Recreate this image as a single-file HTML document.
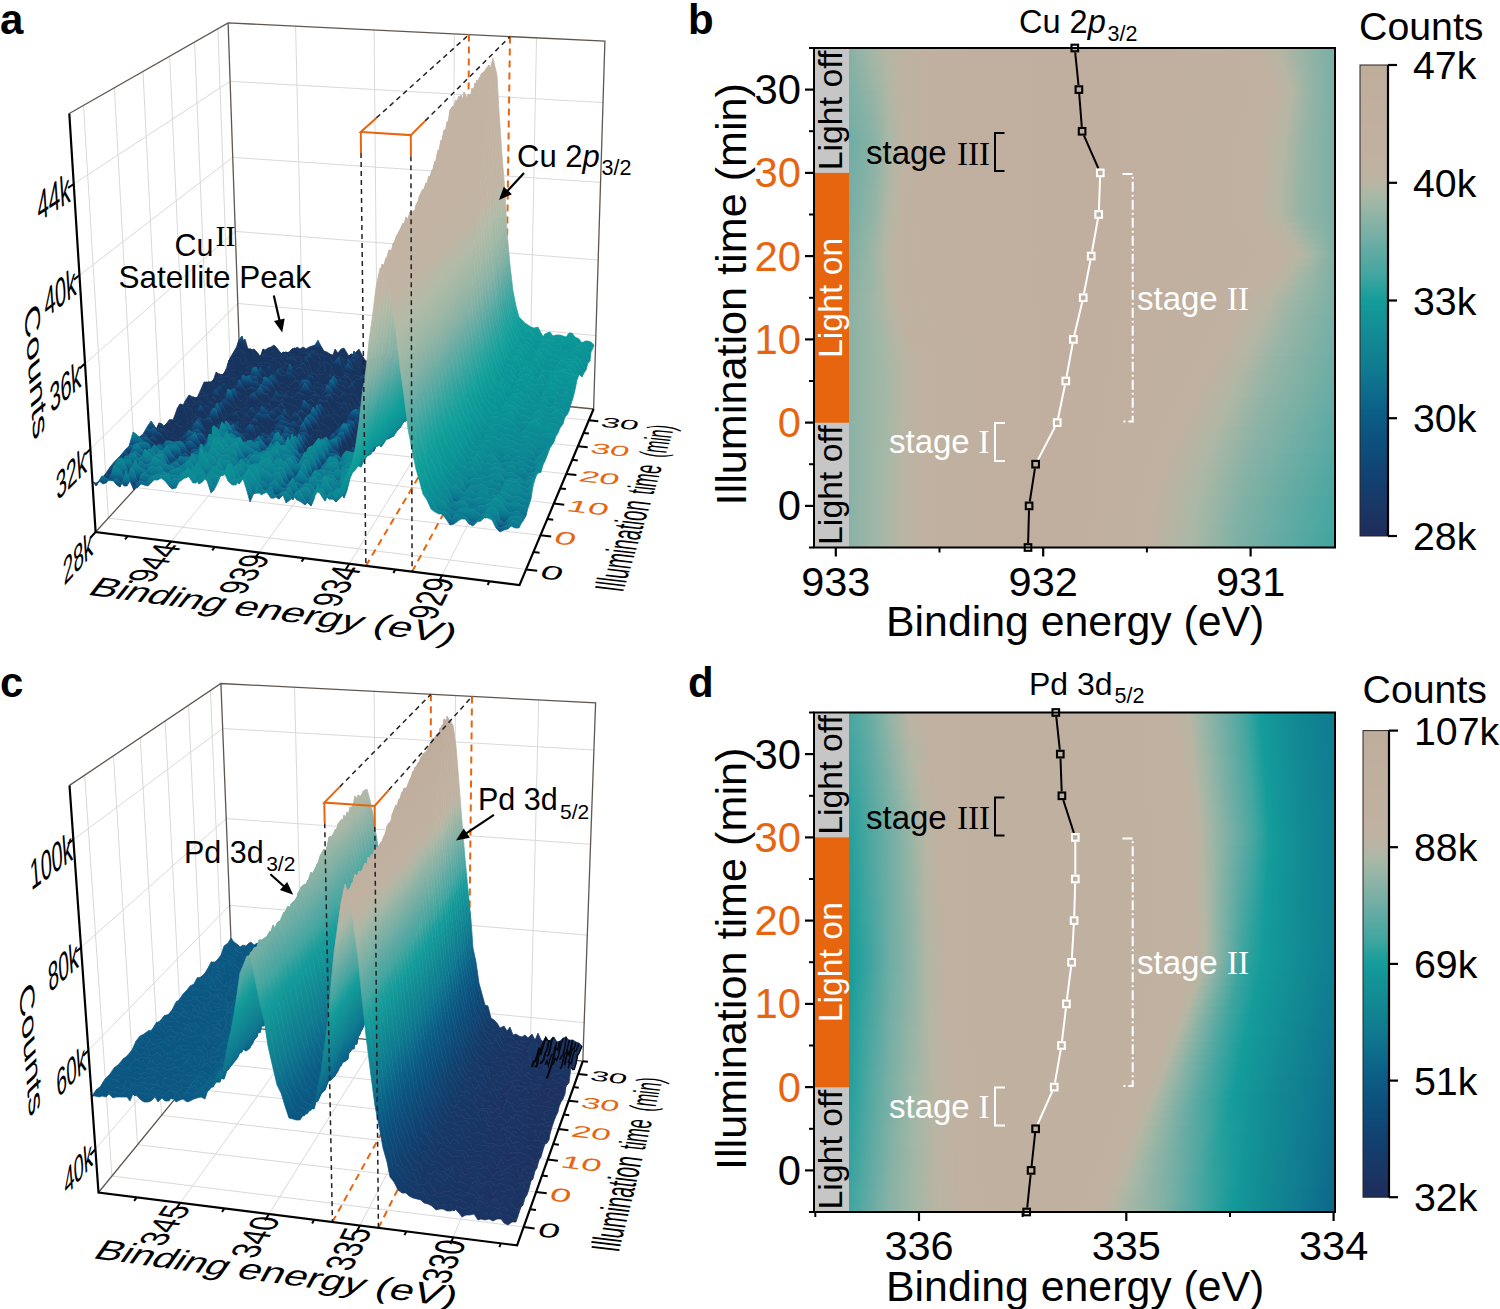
<!DOCTYPE html><html><head><meta charset="utf-8"><style>html,body{margin:0;padding:0;background:#fff;overflow:hidden;width:1500px;height:1309px;}svg{display:block;}.sf polygon{fill:currentColor;stroke:currentColor;stroke-width:.8px;stroke-linejoin:round}</style></head><body>
<svg width="1500" height="1309" viewBox="0 0 1500 1309">
<rect width="1500" height="1309" fill="#fff"/>
<defs><linearGradient id="sba" gradientUnits="userSpaceOnUse" x1="0" y1="0" x2="0" y2="1"><stop offset="0.0000" stop-color="#17345f"/><stop offset="0.1345" stop-color="#17345f"/><stop offset="0.1473" stop-color="#0f4e7e"/><stop offset="0.1618" stop-color="#0c7590"/><stop offset="0.1773" stop-color="#0d8693"/><stop offset="0.2091" stop-color="#0a9496"/><stop offset="0.2636" stop-color="#12a09b"/><stop offset="0.3182" stop-color="#35a59f"/><stop offset="0.3727" stop-color="#5eaba4"/><stop offset="0.4273" stop-color="#85b1a5"/><stop offset="0.4909" stop-color="#a0b8a6"/><stop offset="0.5545" stop-color="#b3bba8"/><stop offset="0.6182" stop-color="#c2b4a4"/><stop offset="1.0000" stop-color="#c2b3a3"/></linearGradient><linearGradient id="s1" href="#sba" xlink:href="#sba" gradientTransform="matrix(354.06,35.33,-1.17,-395.72,239.0,393.2)"/><linearGradient id="s2" href="#sba" xlink:href="#sba" gradientTransform="matrix(355.51,35.66,-1.34,-397.34,236.1,396.5)"/><linearGradient id="s3" href="#sba" xlink:href="#sba" gradientTransform="matrix(357.20,36.04,-1.54,-399.22,232.6,400.3)"/><linearGradient id="s4" href="#sba" xlink:href="#sba" gradientTransform="matrix(358.91,36.43,-1.75,-401.12,229.2,404.2)"/><linearGradient id="s5" href="#sba" xlink:href="#sba" gradientTransform="matrix(360.63,36.83,-1.96,-403.04,225.7,408.1)"/><linearGradient id="s6" href="#sba" xlink:href="#sba" gradientTransform="matrix(362.37,37.23,-2.18,-404.97,222.1,412.1)"/><linearGradient id="s7" href="#sba" xlink:href="#sba" gradientTransform="matrix(364.13,37.64,-2.39,-406.93,218.6,416.1)"/><linearGradient id="s8" href="#sba" xlink:href="#sba" gradientTransform="matrix(365.90,38.05,-2.62,-408.90,215.0,420.1)"/><linearGradient id="s9" href="#sba" xlink:href="#sba" gradientTransform="matrix(367.69,38.47,-2.85,-410.89,211.3,424.2)"/><linearGradient id="s10" href="#sba" xlink:href="#sba" gradientTransform="matrix(369.50,38.90,-3.08,-412.90,207.7,428.3)"/><linearGradient id="s11" href="#sba" xlink:href="#sba" gradientTransform="matrix(371.33,39.34,-3.32,-414.93,204.0,432.5)"/><linearGradient id="s12" href="#sba" xlink:href="#sba" gradientTransform="matrix(373.17,39.78,-3.56,-416.98,200.2,436.7)"/><linearGradient id="s13" href="#sba" xlink:href="#sba" gradientTransform="matrix(375.03,40.23,-3.81,-419.05,196.4,441.0)"/><linearGradient id="s14" href="#sba" xlink:href="#sba" gradientTransform="matrix(376.91,40.68,-4.06,-421.15,192.6,445.3)"/><linearGradient id="s15" href="#sba" xlink:href="#sba" gradientTransform="matrix(378.81,41.15,-4.32,-423.26,188.7,449.6)"/><linearGradient id="s16" href="#sba" xlink:href="#sba" gradientTransform="matrix(380.73,41.62,-4.59,-425.39,184.8,454.0)"/><linearGradient id="s17" href="#sba" xlink:href="#sba" gradientTransform="matrix(382.67,42.10,-4.86,-427.54,180.8,458.5)"/><linearGradient id="s18" href="#sba" xlink:href="#sba" gradientTransform="matrix(384.63,42.59,-5.14,-429.72,176.8,462.9)"/><linearGradient id="s19" href="#sba" xlink:href="#sba" gradientTransform="matrix(386.61,43.09,-5.42,-431.92,172.8,467.5)"/><linearGradient id="s20" href="#sba" xlink:href="#sba" gradientTransform="matrix(388.60,43.59,-5.71,-434.13,168.7,472.1)"/><linearGradient id="s21" href="#sba" xlink:href="#sba" gradientTransform="matrix(390.62,44.11,-6.01,-436.38,164.6,476.7)"/><linearGradient id="s22" href="#sba" xlink:href="#sba" gradientTransform="matrix(392.66,44.63,-6.31,-438.64,160.4,481.4)"/><linearGradient id="s23" href="#sba" xlink:href="#sba" gradientTransform="matrix(394.72,45.16,-6.62,-440.93,156.2,486.1)"/><linearGradient id="s24" href="#sba" xlink:href="#sba" gradientTransform="matrix(396.80,45.70,-6.93,-443.24,151.9,490.9)"/><linearGradient id="s25" href="#sba" xlink:href="#sba" gradientTransform="matrix(398.91,46.25,-7.26,-445.58,147.6,495.8)"/><linearGradient id="s26" href="#sba" xlink:href="#sba" gradientTransform="matrix(401.04,46.81,-7.59,-447.94,143.2,500.7)"/><linearGradient id="s27" href="#sba" xlink:href="#sba" gradientTransform="matrix(403.19,47.38,-7.93,-450.32,138.8,505.6)"/><linearGradient id="s28" href="#sba" xlink:href="#sba" gradientTransform="matrix(405.36,47.96,-8.27,-452.73,134.4,510.6)"/><linearGradient id="s29" href="#sba" xlink:href="#sba" gradientTransform="matrix(407.55,48.56,-8.63,-455.17,129.9,515.7)"/><linearGradient id="s30" href="#sba" xlink:href="#sba" gradientTransform="matrix(409.77,49.16,-8.99,-457.63,125.3,520.8)"/><linearGradient id="s31" href="#sba" xlink:href="#sba" gradientTransform="matrix(412.02,49.77,-9.36,-460.11,120.7,526.0)"/><linearGradient id="s32" href="#sba" xlink:href="#sba" gradientTransform="matrix(414.28,50.39,-9.74,-462.63,116.0,531.3)"/><linearGradient id="s33" href="#sba" xlink:href="#sba" gradientTransform="matrix(416.58,51.03,-10.13,-465.17,111.3,536.6)"/><linearGradient id="s34" href="#sba" xlink:href="#sba" gradientTransform="matrix(418.89,51.68,-10.52,-467.74,106.5,542.0)"/><linearGradient id="s35" href="#sba" xlink:href="#sba" gradientTransform="matrix(421.24,52.34,-10.93,-470.33,101.6,547.4)"/><linearGradient id="s36" href="#sba" xlink:href="#sba" gradientTransform="matrix(423.15,52.88,-11.26,-472.45,97.7,551.8)"/><linearGradient id="sbc" gradientUnits="userSpaceOnUse" x1="0" y1="0" x2="0" y2="1"><stop offset="0.0000" stop-color="#1e2d5d"/><stop offset="0.0573" stop-color="#1e2d5d"/><stop offset="0.0704" stop-color="#1e2f5e"/><stop offset="0.1550" stop-color="#123f6e"/><stop offset="0.2231" stop-color="#0d4e7c"/><stop offset="0.2755" stop-color="#0b5b85"/><stop offset="0.2821" stop-color="#0b5d86"/><stop offset="0.3547" stop-color="#0f7890"/><stop offset="0.4191" stop-color="#128a93"/><stop offset="0.4818" stop-color="#149c9b"/><stop offset="0.5063" stop-color="#2aa19d"/><stop offset="0.5307" stop-color="#45a6a0"/><stop offset="0.5691" stop-color="#5faaa4"/><stop offset="0.6084" stop-color="#7bb0a5"/><stop offset="0.6459" stop-color="#94b4a6"/><stop offset="0.6738" stop-color="#a8b8a6"/><stop offset="0.6956" stop-color="#b6b6a4"/><stop offset="0.7000" stop-color="#b8b5a4"/><stop offset="0.7131" stop-color="#bdb3a2"/><stop offset="0.7349" stop-color="#c0b1a1"/><stop offset="0.9182" stop-color="#bfad9b"/><stop offset="1.0000" stop-color="#bfad9b"/></linearGradient><linearGradient id="s37" href="#sbc" xlink:href="#sbc" gradientTransform="matrix(349.26,35.12,-1.23,-386.34,232.8,1045.8)"/><linearGradient id="s38" href="#sbc" xlink:href="#sbc" gradientTransform="matrix(350.90,35.49,-1.44,-388.09,229.7,1049.7)"/><linearGradient id="s39" href="#sbc" xlink:href="#sbc" gradientTransform="matrix(352.56,35.87,-1.65,-389.86,226.5,1053.7)"/><linearGradient id="s40" href="#sbc" xlink:href="#sbc" gradientTransform="matrix(354.23,36.26,-1.86,-391.64,223.3,1057.7)"/><linearGradient id="s41" href="#sbc" xlink:href="#sbc" gradientTransform="matrix(355.92,36.65,-2.08,-393.44,220.1,1061.7)"/><linearGradient id="s42" href="#sbc" xlink:href="#sbc" gradientTransform="matrix(357.62,37.05,-2.30,-395.25,216.8,1065.8)"/><linearGradient id="s43" href="#sbc" xlink:href="#sbc" gradientTransform="matrix(359.34,37.45,-2.53,-397.08,213.5,1069.9)"/><linearGradient id="s44" href="#sbc" xlink:href="#sbc" gradientTransform="matrix(361.08,37.86,-2.76,-398.93,210.2,1074.1)"/><linearGradient id="s45" href="#sbc" xlink:href="#sbc" gradientTransform="matrix(362.83,38.28,-3.00,-400.79,206.8,1078.3)"/><linearGradient id="s46" href="#sbc" xlink:href="#sbc" gradientTransform="matrix(364.60,38.70,-3.24,-402.67,203.4,1082.6)"/><linearGradient id="s47" href="#sbc" xlink:href="#sbc" gradientTransform="matrix(366.38,39.13,-3.48,-404.57,200.0,1086.9)"/><linearGradient id="s48" href="#sbc" xlink:href="#sbc" gradientTransform="matrix(368.19,39.57,-3.74,-406.48,196.5,1091.2)"/><linearGradient id="s49" href="#sbc" xlink:href="#sbc" gradientTransform="matrix(370.01,40.01,-3.99,-408.42,193.0,1095.6)"/><linearGradient id="s50" href="#sbc" xlink:href="#sbc" gradientTransform="matrix(371.85,40.46,-4.26,-410.37,189.5,1100.0)"/><linearGradient id="s51" href="#sbc" xlink:href="#sbc" gradientTransform="matrix(373.71,40.92,-4.53,-412.34,185.9,1104.5)"/><linearGradient id="s52" href="#sbc" xlink:href="#sbc" gradientTransform="matrix(375.59,41.38,-4.80,-414.33,182.3,1109.0)"/><linearGradient id="s53" href="#sbc" xlink:href="#sbc" gradientTransform="matrix(377.48,41.86,-5.08,-416.33,178.7,1113.6)"/><linearGradient id="s54" href="#sbc" xlink:href="#sbc" gradientTransform="matrix(379.40,42.34,-5.37,-418.36,175.0,1118.2)"/><linearGradient id="s55" href="#sbc" xlink:href="#sbc" gradientTransform="matrix(381.33,42.83,-5.66,-420.40,171.3,1122.9)"/><linearGradient id="s56" href="#sbc" xlink:href="#sbc" gradientTransform="matrix(383.29,43.33,-5.96,-422.47,167.5,1127.6)"/><linearGradient id="s57" href="#sbc" xlink:href="#sbc" gradientTransform="matrix(385.26,43.83,-6.26,-424.55,163.7,1132.3)"/><linearGradient id="s58" href="#sbc" xlink:href="#sbc" gradientTransform="matrix(387.25,44.35,-6.58,-426.66,159.8,1137.2)"/><linearGradient id="s59" href="#sbc" xlink:href="#sbc" gradientTransform="matrix(389.27,44.87,-6.90,-428.78,156.0,1142.0)"/><linearGradient id="s60" href="#sbc" xlink:href="#sbc" gradientTransform="matrix(391.31,45.41,-7.22,-430.93,152.0,1147.0)"/><linearGradient id="s61" href="#sbc" xlink:href="#sbc" gradientTransform="matrix(393.36,45.95,-7.56,-433.09,148.0,1151.9)"/><linearGradient id="s62" href="#sbc" xlink:href="#sbc" gradientTransform="matrix(395.44,46.50,-7.90,-435.28,144.0,1157.0)"/><linearGradient id="s63" href="#sbc" xlink:href="#sbc" gradientTransform="matrix(397.54,47.06,-8.25,-437.49,140.0,1162.1)"/><linearGradient id="s64" href="#sbc" xlink:href="#sbc" gradientTransform="matrix(399.67,47.63,-8.60,-439.72,135.9,1167.2)"/><linearGradient id="s65" href="#sbc" xlink:href="#sbc" gradientTransform="matrix(401.81,48.21,-8.97,-441.97,131.7,1172.4)"/><linearGradient id="s66" href="#sbc" xlink:href="#sbc" gradientTransform="matrix(403.98,48.80,-9.34,-444.25,127.5,1177.7)"/><linearGradient id="s67" href="#sbc" xlink:href="#sbc" gradientTransform="matrix(406.17,49.41,-9.72,-446.55,123.2,1183.0)"/><linearGradient id="s68" href="#sbc" xlink:href="#sbc" gradientTransform="matrix(408.39,50.02,-10.11,-448.87,118.9,1188.4)"/><linearGradient id="s69" href="#sbc" xlink:href="#sbc" gradientTransform="matrix(410.63,50.65,-10.51,-451.21,114.6,1193.9)"/><linearGradient id="s70" href="#sbc" xlink:href="#sbc" gradientTransform="matrix(412.89,51.28,-10.92,-453.58,110.2,1199.4)"/><linearGradient id="s71" href="#sbc" xlink:href="#sbc" gradientTransform="matrix(415.18,51.93,-11.34,-455.98,105.7,1204.9)"/><linearGradient id="s72" href="#sbc" xlink:href="#sbc" gradientTransform="matrix(417.49,52.58,-11.76,-458.38,101.3,1210.6)"/><linearGradient id="g1"><stop offset="0.000" stop-color="#83b1a5"/><stop offset="0.067" stop-color="#86b2a5"/><stop offset="0.108" stop-color="#a1b7a6"/><stop offset="0.141" stop-color="#b6b6a4"/><stop offset="0.175" stop-color="#bfb2a1"/><stop offset="0.232" stop-color="#c0b0a0"/><stop offset="0.511" stop-color="#c0af9e"/><stop offset="0.744" stop-color="#c0b09f"/><stop offset="0.853" stop-color="#c0b1a1"/><stop offset="0.894" stop-color="#b8b5a4"/><stop offset="0.934" stop-color="#9bb5a6"/><stop offset="1.000" stop-color="#78afa5"/></linearGradient><linearGradient id="g2"><stop offset="0.000" stop-color="#81b1a5"/><stop offset="0.067" stop-color="#84b1a5"/><stop offset="0.108" stop-color="#9fb6a6"/><stop offset="0.142" stop-color="#b5b6a4"/><stop offset="0.175" stop-color="#bfb2a1"/><stop offset="0.232" stop-color="#c0b0a0"/><stop offset="0.511" stop-color="#c0af9e"/><stop offset="0.750" stop-color="#c0b09f"/><stop offset="0.859" stop-color="#c0b1a1"/><stop offset="0.898" stop-color="#b7b5a4"/><stop offset="0.937" stop-color="#9ab5a6"/><stop offset="1.000" stop-color="#78afa5"/></linearGradient><linearGradient id="g3"><stop offset="0.000" stop-color="#7fb1a5"/><stop offset="0.067" stop-color="#82b1a5"/><stop offset="0.109" stop-color="#9db6a6"/><stop offset="0.142" stop-color="#b4b6a4"/><stop offset="0.175" stop-color="#bfb2a1"/><stop offset="0.232" stop-color="#c0b0a0"/><stop offset="0.511" stop-color="#c0af9e"/><stop offset="0.756" stop-color="#c0b09f"/><stop offset="0.864" stop-color="#c0b1a1"/><stop offset="0.902" stop-color="#b7b6a4"/><stop offset="0.940" stop-color="#99b5a6"/><stop offset="1.000" stop-color="#78afa5"/></linearGradient><linearGradient id="g4"><stop offset="0.000" stop-color="#7db0a5"/><stop offset="0.067" stop-color="#80b1a5"/><stop offset="0.110" stop-color="#9bb5a6"/><stop offset="0.142" stop-color="#b3b6a4"/><stop offset="0.175" stop-color="#bfb2a1"/><stop offset="0.232" stop-color="#c0b0a0"/><stop offset="0.511" stop-color="#c0af9e"/><stop offset="0.762" stop-color="#c0b09f"/><stop offset="0.870" stop-color="#c0b1a1"/><stop offset="0.907" stop-color="#b7b6a4"/><stop offset="0.944" stop-color="#98b5a6"/><stop offset="1.000" stop-color="#78afa5"/></linearGradient><linearGradient id="g5"><stop offset="0.000" stop-color="#7bb0a5"/><stop offset="0.067" stop-color="#7eb1a5"/><stop offset="0.110" stop-color="#99b5a6"/><stop offset="0.142" stop-color="#b2b7a5"/><stop offset="0.175" stop-color="#bfb2a1"/><stop offset="0.232" stop-color="#c0b0a0"/><stop offset="0.511" stop-color="#c0af9e"/><stop offset="0.768" stop-color="#c0b09f"/><stop offset="0.875" stop-color="#c0b1a1"/><stop offset="0.911" stop-color="#b6b6a4"/><stop offset="0.947" stop-color="#97b5a6"/><stop offset="1.000" stop-color="#78afa5"/></linearGradient><linearGradient id="g6"><stop offset="0.000" stop-color="#79b0a5"/><stop offset="0.067" stop-color="#7cb0a5"/><stop offset="0.111" stop-color="#97b5a6"/><stop offset="0.143" stop-color="#b1b7a5"/><stop offset="0.175" stop-color="#bfb2a1"/><stop offset="0.232" stop-color="#c0b0a0"/><stop offset="0.511" stop-color="#c0af9e"/><stop offset="0.774" stop-color="#c0b09f"/><stop offset="0.881" stop-color="#c0b1a1"/><stop offset="0.915" stop-color="#b6b6a4"/><stop offset="0.950" stop-color="#96b4a6"/><stop offset="1.000" stop-color="#78afa5"/></linearGradient><linearGradient id="g7"><stop offset="0.000" stop-color="#78afa5"/><stop offset="0.067" stop-color="#7bb0a5"/><stop offset="0.112" stop-color="#95b4a6"/><stop offset="0.143" stop-color="#b0b7a5"/><stop offset="0.175" stop-color="#bfb2a1"/><stop offset="0.232" stop-color="#c0b0a0"/><stop offset="0.511" stop-color="#c0af9e"/><stop offset="0.778" stop-color="#c0b09f"/><stop offset="0.884" stop-color="#c0b1a1"/><stop offset="0.918" stop-color="#b6b6a4"/><stop offset="0.952" stop-color="#95b4a6"/><stop offset="1.000" stop-color="#78afa5"/></linearGradient><linearGradient id="g8"><stop offset="0.000" stop-color="#76afa5"/><stop offset="0.067" stop-color="#79b0a5"/><stop offset="0.112" stop-color="#93b4a6"/><stop offset="0.143" stop-color="#afb7a5"/><stop offset="0.175" stop-color="#bfb2a1"/><stop offset="0.232" stop-color="#c0b0a0"/><stop offset="0.511" stop-color="#c0af9e"/><stop offset="0.773" stop-color="#c0b09f"/><stop offset="0.881" stop-color="#c0b1a1"/><stop offset="0.915" stop-color="#b6b6a4"/><stop offset="0.950" stop-color="#95b4a6"/><stop offset="1.000" stop-color="#78afa5"/></linearGradient><linearGradient id="g9"><stop offset="0.000" stop-color="#74aea5"/><stop offset="0.067" stop-color="#77afa5"/><stop offset="0.113" stop-color="#91b4a6"/><stop offset="0.144" stop-color="#afb7a5"/><stop offset="0.175" stop-color="#bfb2a1"/><stop offset="0.232" stop-color="#c0b0a0"/><stop offset="0.511" stop-color="#c0af9e"/><stop offset="0.767" stop-color="#c0b09f"/><stop offset="0.877" stop-color="#c0b1a1"/><stop offset="0.913" stop-color="#b6b6a4"/><stop offset="0.949" stop-color="#95b4a6"/><stop offset="1.000" stop-color="#79b0a5"/></linearGradient><linearGradient id="g10"><stop offset="0.000" stop-color="#72aea5"/><stop offset="0.067" stop-color="#75afa5"/><stop offset="0.114" stop-color="#90b3a6"/><stop offset="0.144" stop-color="#aeb7a5"/><stop offset="0.175" stop-color="#bfb2a1"/><stop offset="0.232" stop-color="#c0b0a0"/><stop offset="0.511" stop-color="#c0af9e"/><stop offset="0.762" stop-color="#c0b09f"/><stop offset="0.873" stop-color="#c0b1a1"/><stop offset="0.910" stop-color="#b6b6a4"/><stop offset="0.948" stop-color="#95b4a6"/><stop offset="1.000" stop-color="#79b0a5"/></linearGradient><linearGradient id="g11"><stop offset="0.000" stop-color="#70aea5"/><stop offset="0.067" stop-color="#74aea5"/><stop offset="0.115" stop-color="#8eb3a6"/><stop offset="0.145" stop-color="#adb7a5"/><stop offset="0.175" stop-color="#bfb2a1"/><stop offset="0.232" stop-color="#c0b0a0"/><stop offset="0.511" stop-color="#c0af9e"/><stop offset="0.756" stop-color="#c0b09f"/><stop offset="0.870" stop-color="#c0b1a1"/><stop offset="0.908" stop-color="#b6b6a4"/><stop offset="0.946" stop-color="#95b4a6"/><stop offset="1.000" stop-color="#7ab0a5"/></linearGradient><linearGradient id="g12"><stop offset="0.000" stop-color="#6fada5"/><stop offset="0.067" stop-color="#72aea5"/><stop offset="0.116" stop-color="#8db3a6"/><stop offset="0.145" stop-color="#acb7a5"/><stop offset="0.175" stop-color="#bfb2a1"/><stop offset="0.232" stop-color="#c0b0a0"/><stop offset="0.511" stop-color="#c0af9e"/><stop offset="0.751" stop-color="#c0b09f"/><stop offset="0.866" stop-color="#c0b1a1"/><stop offset="0.906" stop-color="#b6b6a4"/><stop offset="0.945" stop-color="#95b4a6"/><stop offset="1.000" stop-color="#7ab0a5"/></linearGradient><linearGradient id="g13"><stop offset="0.000" stop-color="#6dada4"/><stop offset="0.067" stop-color="#70aea5"/><stop offset="0.116" stop-color="#8bb3a6"/><stop offset="0.146" stop-color="#abb8a6"/><stop offset="0.175" stop-color="#bfb2a1"/><stop offset="0.232" stop-color="#c0b0a0"/><stop offset="0.511" stop-color="#c0af9e"/><stop offset="0.745" stop-color="#c0b09f"/><stop offset="0.863" stop-color="#c0b1a1"/><stop offset="0.903" stop-color="#b6b6a4"/><stop offset="0.943" stop-color="#95b4a6"/><stop offset="1.000" stop-color="#7bb0a5"/></linearGradient><linearGradient id="g14"><stop offset="0.000" stop-color="#6cada4"/><stop offset="0.067" stop-color="#6fada5"/><stop offset="0.117" stop-color="#8ab2a6"/><stop offset="0.146" stop-color="#abb8a6"/><stop offset="0.174" stop-color="#bfb2a1"/><stop offset="0.232" stop-color="#c0b0a0"/><stop offset="0.511" stop-color="#c0af9e"/><stop offset="0.741" stop-color="#c0b09f"/><stop offset="0.860" stop-color="#c0b1a1"/><stop offset="0.901" stop-color="#b6b6a4"/><stop offset="0.942" stop-color="#95b4a6"/><stop offset="1.000" stop-color="#7bb0a5"/></linearGradient><linearGradient id="g15"><stop offset="0.000" stop-color="#6cada4"/><stop offset="0.067" stop-color="#6fada5"/><stop offset="0.117" stop-color="#8bb3a6"/><stop offset="0.145" stop-color="#abb8a6"/><stop offset="0.174" stop-color="#bfb2a1"/><stop offset="0.231" stop-color="#c0b0a0"/><stop offset="0.511" stop-color="#c0af9e"/><stop offset="0.741" stop-color="#c0b09f"/><stop offset="0.859" stop-color="#c0b1a1"/><stop offset="0.900" stop-color="#b6b6a4"/><stop offset="0.941" stop-color="#95b4a6"/><stop offset="1.000" stop-color="#7bb0a5"/></linearGradient><linearGradient id="g16"><stop offset="0.000" stop-color="#6dada4"/><stop offset="0.067" stop-color="#70aea5"/><stop offset="0.117" stop-color="#8cb3a6"/><stop offset="0.145" stop-color="#acb7a5"/><stop offset="0.173" stop-color="#bfb2a1"/><stop offset="0.230" stop-color="#c0b0a0"/><stop offset="0.511" stop-color="#c0af9e"/><stop offset="0.741" stop-color="#c0b09f"/><stop offset="0.858" stop-color="#c0b1a1"/><stop offset="0.899" stop-color="#b6b6a4"/><stop offset="0.940" stop-color="#95b4a6"/><stop offset="1.000" stop-color="#7bb0a5"/></linearGradient><linearGradient id="g17"><stop offset="0.000" stop-color="#6dada5"/><stop offset="0.067" stop-color="#71aea5"/><stop offset="0.117" stop-color="#8db3a6"/><stop offset="0.144" stop-color="#adb7a5"/><stop offset="0.172" stop-color="#bfb2a1"/><stop offset="0.229" stop-color="#c0b0a0"/><stop offset="0.511" stop-color="#c0af9e"/><stop offset="0.741" stop-color="#c0b09f"/><stop offset="0.857" stop-color="#c0b1a1"/><stop offset="0.898" stop-color="#b6b6a4"/><stop offset="0.939" stop-color="#95b4a6"/><stop offset="1.000" stop-color="#7bb0a5"/></linearGradient><linearGradient id="g18"><stop offset="0.000" stop-color="#6eada5"/><stop offset="0.067" stop-color="#71aea5"/><stop offset="0.117" stop-color="#8eb3a6"/><stop offset="0.144" stop-color="#adb7a5"/><stop offset="0.171" stop-color="#bfb2a1"/><stop offset="0.228" stop-color="#c0b0a0"/><stop offset="0.511" stop-color="#c0af9e"/><stop offset="0.741" stop-color="#c0b09f"/><stop offset="0.856" stop-color="#c0b1a1"/><stop offset="0.897" stop-color="#b6b6a4"/><stop offset="0.938" stop-color="#95b4a6"/><stop offset="1.000" stop-color="#7bb0a5"/></linearGradient><linearGradient id="g19"><stop offset="0.000" stop-color="#6fada5"/><stop offset="0.067" stop-color="#72aea5"/><stop offset="0.117" stop-color="#8fb3a6"/><stop offset="0.143" stop-color="#aeb7a5"/><stop offset="0.170" stop-color="#bfb2a1"/><stop offset="0.227" stop-color="#c0b0a0"/><stop offset="0.511" stop-color="#c0af9e"/><stop offset="0.741" stop-color="#c0b09f"/><stop offset="0.855" stop-color="#c0b1a1"/><stop offset="0.896" stop-color="#b6b6a4"/><stop offset="0.938" stop-color="#95b4a6"/><stop offset="1.000" stop-color="#7bb0a5"/></linearGradient><linearGradient id="g20"><stop offset="0.000" stop-color="#6fada5"/><stop offset="0.067" stop-color="#72aea5"/><stop offset="0.117" stop-color="#91b3a6"/><stop offset="0.143" stop-color="#aeb7a5"/><stop offset="0.169" stop-color="#bfb2a1"/><stop offset="0.226" stop-color="#c0b0a0"/><stop offset="0.511" stop-color="#c0af9e"/><stop offset="0.741" stop-color="#c0b09f"/><stop offset="0.854" stop-color="#c0b1a1"/><stop offset="0.895" stop-color="#b6b6a4"/><stop offset="0.937" stop-color="#95b4a6"/><stop offset="1.000" stop-color="#7bb0a5"/></linearGradient><linearGradient id="g21"><stop offset="0.000" stop-color="#70aea5"/><stop offset="0.067" stop-color="#73aea5"/><stop offset="0.117" stop-color="#92b4a6"/><stop offset="0.143" stop-color="#afb7a5"/><stop offset="0.168" stop-color="#bfb2a1"/><stop offset="0.226" stop-color="#c0b0a0"/><stop offset="0.511" stop-color="#c0af9e"/><stop offset="0.741" stop-color="#c0b09f"/><stop offset="0.853" stop-color="#c0b1a1"/><stop offset="0.894" stop-color="#b6b6a4"/><stop offset="0.936" stop-color="#95b4a6"/><stop offset="1.000" stop-color="#7bb0a5"/></linearGradient><linearGradient id="g22"><stop offset="0.000" stop-color="#70aea5"/><stop offset="0.067" stop-color="#74aea5"/><stop offset="0.117" stop-color="#93b4a6"/><stop offset="0.142" stop-color="#afb7a5"/><stop offset="0.167" stop-color="#bfb2a1"/><stop offset="0.225" stop-color="#c0b0a0"/><stop offset="0.511" stop-color="#c0af9e"/><stop offset="0.741" stop-color="#c0b09f"/><stop offset="0.852" stop-color="#c0b1a1"/><stop offset="0.893" stop-color="#b6b6a4"/><stop offset="0.935" stop-color="#95b4a6"/><stop offset="1.000" stop-color="#7bb0a5"/></linearGradient><linearGradient id="g23"><stop offset="0.000" stop-color="#71aea5"/><stop offset="0.067" stop-color="#74afa5"/><stop offset="0.117" stop-color="#94b4a6"/><stop offset="0.142" stop-color="#b0b7a5"/><stop offset="0.166" stop-color="#bfb2a1"/><stop offset="0.224" stop-color="#c0b0a0"/><stop offset="0.511" stop-color="#c0af9e"/><stop offset="0.741" stop-color="#c0b09f"/><stop offset="0.851" stop-color="#c0b1a1"/><stop offset="0.893" stop-color="#b6b6a4"/><stop offset="0.934" stop-color="#95b4a6"/><stop offset="1.000" stop-color="#7bb0a5"/></linearGradient><linearGradient id="g24"><stop offset="0.000" stop-color="#72aea5"/><stop offset="0.067" stop-color="#75afa5"/><stop offset="0.117" stop-color="#95b4a6"/><stop offset="0.141" stop-color="#b0b7a5"/><stop offset="0.165" stop-color="#bfb2a1"/><stop offset="0.223" stop-color="#c0b0a0"/><stop offset="0.511" stop-color="#c0af9e"/><stop offset="0.741" stop-color="#c0b09f"/><stop offset="0.850" stop-color="#c0b1a1"/><stop offset="0.892" stop-color="#b6b6a4"/><stop offset="0.933" stop-color="#95b4a6"/><stop offset="1.000" stop-color="#7bb0a5"/></linearGradient><linearGradient id="g25"><stop offset="0.000" stop-color="#73aea5"/><stop offset="0.067" stop-color="#76afa5"/><stop offset="0.116" stop-color="#96b4a6"/><stop offset="0.140" stop-color="#b1b7a5"/><stop offset="0.164" stop-color="#bfb2a1"/><stop offset="0.223" stop-color="#c0b0a0"/><stop offset="0.511" stop-color="#c0af9e"/><stop offset="0.747" stop-color="#c0b09f"/><stop offset="0.858" stop-color="#c0b1a1"/><stop offset="0.898" stop-color="#b7b6a4"/><stop offset="0.937" stop-color="#97b5a6"/><stop offset="1.000" stop-color="#7bb0a5"/></linearGradient><linearGradient id="g26"><stop offset="0.000" stop-color="#74aea5"/><stop offset="0.067" stop-color="#78afa5"/><stop offset="0.115" stop-color="#97b5a6"/><stop offset="0.139" stop-color="#b1b7a5"/><stop offset="0.163" stop-color="#bfb2a1"/><stop offset="0.223" stop-color="#c0b0a0"/><stop offset="0.511" stop-color="#c0af9e"/><stop offset="0.753" stop-color="#c0b09f"/><stop offset="0.867" stop-color="#c0b1a1"/><stop offset="0.905" stop-color="#b7b6a4"/><stop offset="0.942" stop-color="#99b5a6"/><stop offset="1.000" stop-color="#7cb0a5"/></linearGradient><linearGradient id="g27"><stop offset="0.000" stop-color="#75afa5"/><stop offset="0.067" stop-color="#79b0a5"/><stop offset="0.114" stop-color="#98b5a6"/><stop offset="0.138" stop-color="#b2b7a5"/><stop offset="0.162" stop-color="#bfb2a1"/><stop offset="0.223" stop-color="#c0b0a0"/><stop offset="0.511" stop-color="#c0af9e"/><stop offset="0.760" stop-color="#c0b09f"/><stop offset="0.876" stop-color="#c0b1a1"/><stop offset="0.911" stop-color="#b8b5a4"/><stop offset="0.947" stop-color="#9bb5a6"/><stop offset="1.000" stop-color="#7cb0a5"/></linearGradient><linearGradient id="g28"><stop offset="0.000" stop-color="#76afa5"/><stop offset="0.067" stop-color="#7bb0a5"/><stop offset="0.113" stop-color="#99b5a6"/><stop offset="0.137" stop-color="#b2b7a5"/><stop offset="0.161" stop-color="#bfb2a1"/><stop offset="0.223" stop-color="#c0b0a0"/><stop offset="0.511" stop-color="#c0af9e"/><stop offset="0.766" stop-color="#c0b09f"/><stop offset="0.884" stop-color="#c0b1a1"/><stop offset="0.918" stop-color="#b8b5a3"/><stop offset="0.952" stop-color="#9db6a6"/><stop offset="1.000" stop-color="#7db0a5"/></linearGradient><linearGradient id="g29"><stop offset="0.000" stop-color="#77afa5"/><stop offset="0.067" stop-color="#7cb0a5"/><stop offset="0.112" stop-color="#9ab5a6"/><stop offset="0.136" stop-color="#b3b6a4"/><stop offset="0.160" stop-color="#bfb2a1"/><stop offset="0.223" stop-color="#c0b0a0"/><stop offset="0.511" stop-color="#c0af9e"/><stop offset="0.772" stop-color="#c0b09f"/><stop offset="0.893" stop-color="#c0b1a1"/><stop offset="0.925" stop-color="#b9b5a3"/><stop offset="0.956" stop-color="#a0b6a6"/><stop offset="1.000" stop-color="#7db0a5"/></linearGradient><linearGradient id="g30"><stop offset="0.000" stop-color="#78afa5"/><stop offset="0.067" stop-color="#7eb0a5"/><stop offset="0.111" stop-color="#9bb5a6"/><stop offset="0.135" stop-color="#b3b6a4"/><stop offset="0.159" stop-color="#bfb2a1"/><stop offset="0.223" stop-color="#c0b0a0"/><stop offset="0.511" stop-color="#c0af9e"/><stop offset="0.779" stop-color="#c0b09f"/><stop offset="0.901" stop-color="#c0b1a1"/><stop offset="0.931" stop-color="#b9b5a3"/><stop offset="0.961" stop-color="#a2b7a6"/><stop offset="1.000" stop-color="#7eb0a5"/></linearGradient><linearGradient id="g31"><stop offset="0.000" stop-color="#7ab0a5"/><stop offset="0.067" stop-color="#80b1a5"/><stop offset="0.112" stop-color="#9cb6a6"/><stop offset="0.136" stop-color="#b4b6a4"/><stop offset="0.160" stop-color="#bfb2a1"/><stop offset="0.224" stop-color="#c0b0a0"/><stop offset="0.511" stop-color="#c0af9e"/><stop offset="0.774" stop-color="#c0b09f"/><stop offset="0.891" stop-color="#c0b1a1"/><stop offset="0.924" stop-color="#b9b5a3"/><stop offset="0.956" stop-color="#a1b7a6"/><stop offset="1.000" stop-color="#7db0a5"/></linearGradient><linearGradient id="g32"><stop offset="0.000" stop-color="#7cb0a5"/><stop offset="0.067" stop-color="#81b1a5"/><stop offset="0.113" stop-color="#9db6a6"/><stop offset="0.137" stop-color="#b4b6a4"/><stop offset="0.161" stop-color="#bfb2a1"/><stop offset="0.226" stop-color="#c0b0a0"/><stop offset="0.511" stop-color="#c0af9e"/><stop offset="0.768" stop-color="#c0b09f"/><stop offset="0.880" stop-color="#c0b1a1"/><stop offset="0.915" stop-color="#b9b5a3"/><stop offset="0.950" stop-color="#a0b6a6"/><stop offset="1.000" stop-color="#7db0a5"/></linearGradient><linearGradient id="g33"><stop offset="0.000" stop-color="#7db0a5"/><stop offset="0.067" stop-color="#83b1a5"/><stop offset="0.114" stop-color="#9eb6a6"/><stop offset="0.138" stop-color="#b4b6a4"/><stop offset="0.162" stop-color="#bfb2a1"/><stop offset="0.227" stop-color="#c0b0a0"/><stop offset="0.511" stop-color="#c0af9e"/><stop offset="0.762" stop-color="#c0b09f"/><stop offset="0.868" stop-color="#c0b1a1"/><stop offset="0.906" stop-color="#b9b5a3"/><stop offset="0.944" stop-color="#9fb6a6"/><stop offset="1.000" stop-color="#7db0a5"/></linearGradient><linearGradient id="g34"><stop offset="0.000" stop-color="#7fb1a5"/><stop offset="0.067" stop-color="#85b2a5"/><stop offset="0.115" stop-color="#9fb6a6"/><stop offset="0.139" stop-color="#b5b6a4"/><stop offset="0.163" stop-color="#bfb2a1"/><stop offset="0.229" stop-color="#c0b0a0"/><stop offset="0.511" stop-color="#c0af9e"/><stop offset="0.756" stop-color="#c0b09f"/><stop offset="0.856" stop-color="#c0b1a1"/><stop offset="0.897" stop-color="#b8b5a3"/><stop offset="0.938" stop-color="#9eb6a6"/><stop offset="1.000" stop-color="#7cb0a5"/></linearGradient><linearGradient id="g35"><stop offset="0.000" stop-color="#81b1a5"/><stop offset="0.067" stop-color="#87b2a5"/><stop offset="0.116" stop-color="#a0b6a6"/><stop offset="0.140" stop-color="#b5b6a4"/><stop offset="0.164" stop-color="#bfb2a1"/><stop offset="0.230" stop-color="#c0b0a0"/><stop offset="0.511" stop-color="#c0af9e"/><stop offset="0.750" stop-color="#c0b09f"/><stop offset="0.845" stop-color="#c0b1a1"/><stop offset="0.888" stop-color="#b8b5a3"/><stop offset="0.932" stop-color="#9db6a6"/><stop offset="1.000" stop-color="#7cb0a5"/></linearGradient><linearGradient id="g36"><stop offset="0.000" stop-color="#83b1a5"/><stop offset="0.067" stop-color="#89b2a6"/><stop offset="0.117" stop-color="#a1b7a6"/><stop offset="0.141" stop-color="#b6b6a4"/><stop offset="0.165" stop-color="#bfb2a1"/><stop offset="0.231" stop-color="#c0b0a0"/><stop offset="0.511" stop-color="#c0af9e"/><stop offset="0.744" stop-color="#c0b09f"/><stop offset="0.833" stop-color="#c0b1a1"/><stop offset="0.880" stop-color="#b8b5a3"/><stop offset="0.926" stop-color="#9cb6a6"/><stop offset="1.000" stop-color="#7bb0a5"/></linearGradient><linearGradient id="g37"><stop offset="0.000" stop-color="#84b1a5"/><stop offset="0.067" stop-color="#8ab2a6"/><stop offset="0.118" stop-color="#a2b7a6"/><stop offset="0.143" stop-color="#b6b6a4"/><stop offset="0.167" stop-color="#bfb2a1"/><stop offset="0.235" stop-color="#c0b0a0"/><stop offset="0.511" stop-color="#c0af9e"/><stop offset="0.738" stop-color="#c0b09f"/><stop offset="0.824" stop-color="#c0b1a1"/><stop offset="0.872" stop-color="#b8b5a4"/><stop offset="0.921" stop-color="#9bb5a6"/><stop offset="1.000" stop-color="#7ab0a5"/></linearGradient><linearGradient id="g38"><stop offset="0.000" stop-color="#84b1a5"/><stop offset="0.067" stop-color="#8ab2a6"/><stop offset="0.121" stop-color="#a3b7a6"/><stop offset="0.146" stop-color="#b7b6a4"/><stop offset="0.171" stop-color="#bfb2a1"/><stop offset="0.239" stop-color="#c0b0a0"/><stop offset="0.511" stop-color="#c0af9e"/><stop offset="0.733" stop-color="#c0b09f"/><stop offset="0.817" stop-color="#c0b1a1"/><stop offset="0.867" stop-color="#b7b5a4"/><stop offset="0.916" stop-color="#9bb5a6"/><stop offset="1.000" stop-color="#79b0a5"/></linearGradient><linearGradient id="g39"><stop offset="0.000" stop-color="#84b1a5"/><stop offset="0.067" stop-color="#8ab2a6"/><stop offset="0.124" stop-color="#a3b7a6"/><stop offset="0.150" stop-color="#b7b6a4"/><stop offset="0.175" stop-color="#bfb2a1"/><stop offset="0.244" stop-color="#c0b0a0"/><stop offset="0.511" stop-color="#c0af9e"/><stop offset="0.727" stop-color="#c0b09f"/><stop offset="0.810" stop-color="#c0b1a1"/><stop offset="0.861" stop-color="#b7b6a4"/><stop offset="0.912" stop-color="#9ab5a6"/><stop offset="1.000" stop-color="#77afa5"/></linearGradient><linearGradient id="g40"><stop offset="0.000" stop-color="#84b1a5"/><stop offset="0.067" stop-color="#8ab2a6"/><stop offset="0.127" stop-color="#a4b7a6"/><stop offset="0.153" stop-color="#b7b5a4"/><stop offset="0.179" stop-color="#bfb2a1"/><stop offset="0.248" stop-color="#c0b0a0"/><stop offset="0.511" stop-color="#c0af9e"/><stop offset="0.722" stop-color="#c0b09f"/><stop offset="0.803" stop-color="#c0b1a1"/><stop offset="0.855" stop-color="#b7b6a4"/><stop offset="0.907" stop-color="#99b5a6"/><stop offset="1.000" stop-color="#76afa5"/></linearGradient><linearGradient id="g41"><stop offset="0.000" stop-color="#84b1a5"/><stop offset="0.067" stop-color="#8ab2a6"/><stop offset="0.130" stop-color="#a4b7a6"/><stop offset="0.156" stop-color="#b8b5a4"/><stop offset="0.183" stop-color="#bfb1a1"/><stop offset="0.253" stop-color="#c0b0a0"/><stop offset="0.511" stop-color="#c0af9e"/><stop offset="0.716" stop-color="#c0b09f"/><stop offset="0.796" stop-color="#c0b1a1"/><stop offset="0.849" stop-color="#b6b6a4"/><stop offset="0.903" stop-color="#99b5a6"/><stop offset="1.000" stop-color="#74afa5"/></linearGradient><linearGradient id="g42"><stop offset="0.000" stop-color="#84b1a5"/><stop offset="0.067" stop-color="#8ab2a6"/><stop offset="0.132" stop-color="#a5b7a6"/><stop offset="0.160" stop-color="#b8b5a3"/><stop offset="0.187" stop-color="#bfb1a1"/><stop offset="0.258" stop-color="#c0b0a0"/><stop offset="0.511" stop-color="#c0af9e"/><stop offset="0.711" stop-color="#c0b09f"/><stop offset="0.789" stop-color="#c0b1a1"/><stop offset="0.843" stop-color="#b6b6a4"/><stop offset="0.898" stop-color="#98b5a6"/><stop offset="1.000" stop-color="#73aea5"/></linearGradient><linearGradient id="g43"><stop offset="0.000" stop-color="#84b1a5"/><stop offset="0.067" stop-color="#8ab2a6"/><stop offset="0.135" stop-color="#a6b8a6"/><stop offset="0.163" stop-color="#b8b5a3"/><stop offset="0.191" stop-color="#c0b1a1"/><stop offset="0.262" stop-color="#c0b0a0"/><stop offset="0.511" stop-color="#c0af9e"/><stop offset="0.705" stop-color="#c0b09f"/><stop offset="0.782" stop-color="#c0b1a1"/><stop offset="0.838" stop-color="#b5b6a4"/><stop offset="0.893" stop-color="#98b5a6"/><stop offset="1.000" stop-color="#71aea5"/></linearGradient><linearGradient id="g44"><stop offset="0.000" stop-color="#84b1a5"/><stop offset="0.067" stop-color="#8ab2a6"/><stop offset="0.138" stop-color="#a6b8a6"/><stop offset="0.167" stop-color="#b9b5a3"/><stop offset="0.195" stop-color="#c0b1a1"/><stop offset="0.267" stop-color="#c0b0a0"/><stop offset="0.511" stop-color="#c0af9e"/><stop offset="0.699" stop-color="#c0b09f"/><stop offset="0.775" stop-color="#c0b1a1"/><stop offset="0.832" stop-color="#b5b6a4"/><stop offset="0.889" stop-color="#97b5a6"/><stop offset="1.000" stop-color="#70aea5"/></linearGradient><linearGradient id="g45"><stop offset="0.000" stop-color="#84b1a5"/><stop offset="0.067" stop-color="#8ab2a6"/><stop offset="0.141" stop-color="#a7b8a6"/><stop offset="0.170" stop-color="#b9b5a3"/><stop offset="0.199" stop-color="#c0b1a1"/><stop offset="0.271" stop-color="#c0b0a0"/><stop offset="0.511" stop-color="#c0af9e"/><stop offset="0.694" stop-color="#c0b09f"/><stop offset="0.768" stop-color="#c0b1a1"/><stop offset="0.826" stop-color="#b4b6a4"/><stop offset="0.884" stop-color="#96b4a6"/><stop offset="1.000" stop-color="#6eada5"/></linearGradient><linearGradient id="g46"><stop offset="0.000" stop-color="#84b1a5"/><stop offset="0.067" stop-color="#8ab2a6"/><stop offset="0.143" stop-color="#a7b8a6"/><stop offset="0.173" stop-color="#b9b5a3"/><stop offset="0.204" stop-color="#c0b1a1"/><stop offset="0.276" stop-color="#c0b0a0"/><stop offset="0.511" stop-color="#c0af9e"/><stop offset="0.688" stop-color="#c0b09f"/><stop offset="0.761" stop-color="#c0b1a1"/><stop offset="0.820" stop-color="#b4b6a4"/><stop offset="0.880" stop-color="#96b4a6"/><stop offset="1.000" stop-color="#6dada4"/></linearGradient><linearGradient id="g47"><stop offset="0.000" stop-color="#84b1a5"/><stop offset="0.067" stop-color="#8ab2a6"/><stop offset="0.146" stop-color="#a8b8a6"/><stop offset="0.177" stop-color="#bab4a3"/><stop offset="0.207" stop-color="#c0b1a1"/><stop offset="0.280" stop-color="#c0b0a0"/><stop offset="0.511" stop-color="#c0af9e"/><stop offset="0.683" stop-color="#c0b09f"/><stop offset="0.754" stop-color="#c0b1a1"/><stop offset="0.814" stop-color="#b3b6a4"/><stop offset="0.875" stop-color="#95b4a6"/><stop offset="0.937" stop-color="#81b1a5"/><stop offset="1.000" stop-color="#6bada4"/></linearGradient><linearGradient id="g48"><stop offset="0.000" stop-color="#84b1a5"/><stop offset="0.067" stop-color="#8ab2a6"/><stop offset="0.145" stop-color="#a8b8a6"/><stop offset="0.176" stop-color="#bab4a3"/><stop offset="0.207" stop-color="#c0b1a1"/><stop offset="0.280" stop-color="#c0b0a0"/><stop offset="0.511" stop-color="#c0af9e"/><stop offset="0.676" stop-color="#c0b09f"/><stop offset="0.747" stop-color="#c0b1a1"/><stop offset="0.809" stop-color="#b3b6a4"/><stop offset="0.872" stop-color="#94b4a6"/><stop offset="0.936" stop-color="#7fb1a5"/><stop offset="1.000" stop-color="#69aca4"/></linearGradient><linearGradient id="g49"><stop offset="0.000" stop-color="#84b1a5"/><stop offset="0.067" stop-color="#8ab2a6"/><stop offset="0.145" stop-color="#a8b8a6"/><stop offset="0.176" stop-color="#bab4a3"/><stop offset="0.207" stop-color="#c0b1a1"/><stop offset="0.280" stop-color="#c0b0a0"/><stop offset="0.511" stop-color="#c0af9e"/><stop offset="0.669" stop-color="#c0b09f"/><stop offset="0.741" stop-color="#c0b1a1"/><stop offset="0.804" stop-color="#b2b7a5"/><stop offset="0.868" stop-color="#93b4a6"/><stop offset="0.934" stop-color="#7eb0a5"/><stop offset="1.000" stop-color="#67aca4"/></linearGradient><linearGradient id="g50"><stop offset="0.000" stop-color="#84b1a5"/><stop offset="0.067" stop-color="#8ab2a6"/><stop offset="0.145" stop-color="#a8b8a6"/><stop offset="0.176" stop-color="#bab4a3"/><stop offset="0.207" stop-color="#c0b1a1"/><stop offset="0.280" stop-color="#c0b0a0"/><stop offset="0.511" stop-color="#c0af9e"/><stop offset="0.662" stop-color="#c0b09f"/><stop offset="0.734" stop-color="#c0b1a1"/><stop offset="0.800" stop-color="#b2b7a5"/><stop offset="0.865" stop-color="#92b4a6"/><stop offset="0.932" stop-color="#7cb0a5"/><stop offset="1.000" stop-color="#65aba4"/></linearGradient><linearGradient id="g51"><stop offset="0.000" stop-color="#84b1a5"/><stop offset="0.067" stop-color="#8ab2a6"/><stop offset="0.144" stop-color="#a8b8a6"/><stop offset="0.176" stop-color="#bab4a3"/><stop offset="0.207" stop-color="#c0b1a1"/><stop offset="0.280" stop-color="#c0b0a0"/><stop offset="0.511" stop-color="#c0af9e"/><stop offset="0.655" stop-color="#c0b09f"/><stop offset="0.728" stop-color="#c0b1a1"/><stop offset="0.795" stop-color="#b1b7a5"/><stop offset="0.861" stop-color="#91b3a6"/><stop offset="0.931" stop-color="#7bb0a5"/><stop offset="1.000" stop-color="#63aba4"/></linearGradient><linearGradient id="g52"><stop offset="0.000" stop-color="#84b1a5"/><stop offset="0.067" stop-color="#8ab2a6"/><stop offset="0.144" stop-color="#a8b8a6"/><stop offset="0.176" stop-color="#bab4a3"/><stop offset="0.207" stop-color="#c0b1a1"/><stop offset="0.280" stop-color="#c0b0a0"/><stop offset="0.511" stop-color="#c0af9e"/><stop offset="0.648" stop-color="#c0b09f"/><stop offset="0.722" stop-color="#c0b1a1"/><stop offset="0.790" stop-color="#b1b7a5"/><stop offset="0.858" stop-color="#90b3a6"/><stop offset="0.929" stop-color="#79b0a5"/><stop offset="1.000" stop-color="#61aba4"/></linearGradient><linearGradient id="g53"><stop offset="0.000" stop-color="#84b1a5"/><stop offset="0.067" stop-color="#8ab2a6"/><stop offset="0.144" stop-color="#a8b8a6"/><stop offset="0.176" stop-color="#bab4a3"/><stop offset="0.207" stop-color="#c0b1a1"/><stop offset="0.280" stop-color="#c0b0a0"/><stop offset="0.511" stop-color="#c0af9e"/><stop offset="0.641" stop-color="#c0b09f"/><stop offset="0.715" stop-color="#c0b1a1"/><stop offset="0.785" stop-color="#b0b7a5"/><stop offset="0.854" stop-color="#8fb3a6"/><stop offset="0.927" stop-color="#78afa5"/><stop offset="1.000" stop-color="#5faaa4"/></linearGradient><linearGradient id="g54"><stop offset="0.000" stop-color="#84b1a5"/><stop offset="0.067" stop-color="#8ab2a6"/><stop offset="0.143" stop-color="#a8b8a6"/><stop offset="0.175" stop-color="#bab4a3"/><stop offset="0.207" stop-color="#c0b1a1"/><stop offset="0.280" stop-color="#c0b0a0"/><stop offset="0.511" stop-color="#c0af9e"/><stop offset="0.634" stop-color="#c0b09f"/><stop offset="0.709" stop-color="#c0b1a1"/><stop offset="0.780" stop-color="#b0b7a5"/><stop offset="0.851" stop-color="#8eb3a6"/><stop offset="0.925" stop-color="#76afa5"/><stop offset="1.000" stop-color="#5eaaa4"/></linearGradient><linearGradient id="g55"><stop offset="0.000" stop-color="#84b1a5"/><stop offset="0.067" stop-color="#8ab2a6"/><stop offset="0.143" stop-color="#a8b8a6"/><stop offset="0.175" stop-color="#bab4a3"/><stop offset="0.207" stop-color="#c0b1a1"/><stop offset="0.280" stop-color="#c0b0a0"/><stop offset="0.511" stop-color="#c0af9e"/><stop offset="0.627" stop-color="#c0b09f"/><stop offset="0.702" stop-color="#c0b1a1"/><stop offset="0.775" stop-color="#afb7a5"/><stop offset="0.847" stop-color="#8db3a6"/><stop offset="0.924" stop-color="#75afa5"/><stop offset="1.000" stop-color="#5ca9a3"/></linearGradient><linearGradient id="g56"><stop offset="0.000" stop-color="#84b1a5"/><stop offset="0.067" stop-color="#8ab2a6"/><stop offset="0.143" stop-color="#a8b8a6"/><stop offset="0.175" stop-color="#bab4a3"/><stop offset="0.207" stop-color="#c0b1a1"/><stop offset="0.280" stop-color="#c0b0a0"/><stop offset="0.511" stop-color="#c0af9e"/><stop offset="0.620" stop-color="#c0b09f"/><stop offset="0.696" stop-color="#c0b1a1"/><stop offset="0.770" stop-color="#afb7a5"/><stop offset="0.844" stop-color="#8cb3a6"/><stop offset="0.922" stop-color="#73aea5"/><stop offset="1.000" stop-color="#5aa9a3"/></linearGradient><linearGradient id="g57"><stop offset="0.000" stop-color="#84b1a5"/><stop offset="0.067" stop-color="#8ab2a6"/><stop offset="0.142" stop-color="#a8b8a6"/><stop offset="0.175" stop-color="#bab4a3"/><stop offset="0.207" stop-color="#c0b1a1"/><stop offset="0.280" stop-color="#c0b0a0"/><stop offset="0.511" stop-color="#c0af9e"/><stop offset="0.613" stop-color="#c0b09f"/><stop offset="0.689" stop-color="#c0b1a1"/><stop offset="0.765" stop-color="#aeb7a5"/><stop offset="0.840" stop-color="#8bb2a6"/><stop offset="0.920" stop-color="#72aea5"/><stop offset="1.000" stop-color="#58a9a3"/></linearGradient><linearGradient id="g58"><stop offset="0.000" stop-color="#84b1a5"/><stop offset="0.067" stop-color="#8ab2a6"/><stop offset="0.142" stop-color="#a8b8a6"/><stop offset="0.175" stop-color="#bab4a3"/><stop offset="0.207" stop-color="#c0b1a1"/><stop offset="0.280" stop-color="#c0b0a0"/><stop offset="0.511" stop-color="#c0af9e"/><stop offset="0.606" stop-color="#c0b09f"/><stop offset="0.683" stop-color="#c0b1a1"/><stop offset="0.760" stop-color="#aeb7a5"/><stop offset="0.837" stop-color="#89b2a6"/><stop offset="0.918" stop-color="#70aea5"/><stop offset="1.000" stop-color="#56a9a3"/></linearGradient><linearGradient id="g59"><stop offset="0.000" stop-color="#84b1a5"/><stop offset="0.067" stop-color="#8ab2a6"/><stop offset="0.141" stop-color="#a8b8a6"/><stop offset="0.174" stop-color="#bab4a3"/><stop offset="0.207" stop-color="#c0b1a1"/><stop offset="0.280" stop-color="#c0b0a0"/><stop offset="0.511" stop-color="#c0af9e"/><stop offset="0.604" stop-color="#c0b09f"/><stop offset="0.679" stop-color="#c0b1a1"/><stop offset="0.756" stop-color="#adb7a5"/><stop offset="0.834" stop-color="#89b2a6"/><stop offset="0.917" stop-color="#6eada5"/><stop offset="1.000" stop-color="#54a8a2"/></linearGradient><linearGradient id="g60"><stop offset="0.000" stop-color="#84b1a5"/><stop offset="0.067" stop-color="#8ab2a6"/><stop offset="0.140" stop-color="#a8b8a6"/><stop offset="0.174" stop-color="#bab4a3"/><stop offset="0.207" stop-color="#c0b1a1"/><stop offset="0.280" stop-color="#c0b0a0"/><stop offset="0.511" stop-color="#c0af9f"/><stop offset="0.601" stop-color="#c0b09f"/><stop offset="0.674" stop-color="#c0b1a1"/><stop offset="0.753" stop-color="#adb7a5"/><stop offset="0.831" stop-color="#88b2a6"/><stop offset="0.916" stop-color="#6dada4"/><stop offset="1.000" stop-color="#52a8a2"/></linearGradient><linearGradient id="g61"><stop offset="0.000" stop-color="#84b1a5"/><stop offset="0.067" stop-color="#8ab2a6"/><stop offset="0.140" stop-color="#a8b8a6"/><stop offset="0.173" stop-color="#bab4a3"/><stop offset="0.207" stop-color="#c0b1a1"/><stop offset="0.280" stop-color="#c0b0a0"/><stop offset="0.511" stop-color="#c0af9f"/><stop offset="0.598" stop-color="#c0b09f"/><stop offset="0.670" stop-color="#c0b1a1"/><stop offset="0.749" stop-color="#acb7a5"/><stop offset="0.829" stop-color="#87b2a5"/><stop offset="0.914" stop-color="#6bada4"/><stop offset="1.000" stop-color="#50a8a2"/></linearGradient><linearGradient id="g62"><stop offset="0.000" stop-color="#84b1a5"/><stop offset="0.067" stop-color="#8ab2a6"/><stop offset="0.139" stop-color="#a8b8a6"/><stop offset="0.173" stop-color="#bab4a3"/><stop offset="0.207" stop-color="#c0b1a1"/><stop offset="0.280" stop-color="#c0b0a0"/><stop offset="0.511" stop-color="#c0af9f"/><stop offset="0.596" stop-color="#c0b09f"/><stop offset="0.666" stop-color="#c0b1a1"/><stop offset="0.746" stop-color="#acb7a5"/><stop offset="0.826" stop-color="#86b2a5"/><stop offset="0.913" stop-color="#6aaca4"/><stop offset="1.000" stop-color="#4ea7a1"/></linearGradient><linearGradient id="g63"><stop offset="0.000" stop-color="#84b1a5"/><stop offset="0.067" stop-color="#8ab2a6"/><stop offset="0.138" stop-color="#a8b8a6"/><stop offset="0.173" stop-color="#bab4a3"/><stop offset="0.207" stop-color="#c0b1a1"/><stop offset="0.280" stop-color="#c0b0a0"/><stop offset="0.511" stop-color="#c0af9f"/><stop offset="0.593" stop-color="#c0b09f"/><stop offset="0.661" stop-color="#c0b1a1"/><stop offset="0.742" stop-color="#acb7a5"/><stop offset="0.823" stop-color="#85b2a5"/><stop offset="0.912" stop-color="#68aca4"/><stop offset="1.000" stop-color="#4ca7a1"/></linearGradient><linearGradient id="g64"><stop offset="0.000" stop-color="#84b1a5"/><stop offset="0.067" stop-color="#8ab2a6"/><stop offset="0.137" stop-color="#a8b8a6"/><stop offset="0.172" stop-color="#bab4a3"/><stop offset="0.207" stop-color="#c0b1a1"/><stop offset="0.280" stop-color="#c0b0a0"/><stop offset="0.511" stop-color="#c0af9f"/><stop offset="0.590" stop-color="#c0b09f"/><stop offset="0.657" stop-color="#c0b1a1"/><stop offset="0.739" stop-color="#abb8a6"/><stop offset="0.821" stop-color="#85b2a5"/><stop offset="0.910" stop-color="#67aca4"/><stop offset="1.000" stop-color="#4aa7a1"/></linearGradient><linearGradient id="g65"><stop offset="0.000" stop-color="#84b1a5"/><stop offset="0.067" stop-color="#8ab2a6"/><stop offset="0.136" stop-color="#a8b8a6"/><stop offset="0.172" stop-color="#bab4a3"/><stop offset="0.207" stop-color="#c0b1a1"/><stop offset="0.280" stop-color="#c0b0a0"/><stop offset="0.511" stop-color="#c0af9f"/><stop offset="0.588" stop-color="#c0b09f"/><stop offset="0.653" stop-color="#c0b1a1"/><stop offset="0.735" stop-color="#abb8a6"/><stop offset="0.818" stop-color="#84b1a5"/><stop offset="0.909" stop-color="#65aba4"/><stop offset="1.000" stop-color="#48a6a0"/></linearGradient><linearGradient id="g66"><stop offset="0.000" stop-color="#84b1a5"/><stop offset="0.067" stop-color="#8ab2a6"/><stop offset="0.136" stop-color="#a8b8a6"/><stop offset="0.172" stop-color="#bab4a3"/><stop offset="0.207" stop-color="#c0b1a1"/><stop offset="0.280" stop-color="#c0b0a0"/><stop offset="0.511" stop-color="#c0af9f"/><stop offset="0.586" stop-color="#c0b09f"/><stop offset="0.652" stop-color="#c0b1a1"/><stop offset="0.734" stop-color="#aab8a6"/><stop offset="0.816" stop-color="#83b1a5"/><stop offset="0.908" stop-color="#64aba4"/><stop offset="1.000" stop-color="#47a6a0"/></linearGradient><linearGradient id="g67"><stop offset="0.000" stop-color="#84b1a5"/><stop offset="0.067" stop-color="#8ab2a6"/><stop offset="0.136" stop-color="#a8b8a6"/><stop offset="0.172" stop-color="#bab4a3"/><stop offset="0.207" stop-color="#c0b1a1"/><stop offset="0.280" stop-color="#c0b0a0"/><stop offset="0.511" stop-color="#c0af9f"/><stop offset="0.585" stop-color="#c0b09f"/><stop offset="0.650" stop-color="#c0b1a1"/><stop offset="0.733" stop-color="#aab8a6"/><stop offset="0.815" stop-color="#82b1a5"/><stop offset="0.907" stop-color="#63aba4"/><stop offset="1.000" stop-color="#46a6a0"/></linearGradient><linearGradient id="g68"><stop offset="0.000" stop-color="#84b1a5"/><stop offset="0.067" stop-color="#8ab2a6"/><stop offset="0.136" stop-color="#a8b8a6"/><stop offset="0.172" stop-color="#bab4a3"/><stop offset="0.207" stop-color="#c0b1a1"/><stop offset="0.280" stop-color="#c0b0a0"/><stop offset="0.511" stop-color="#c0af9f"/><stop offset="0.583" stop-color="#c0b09f"/><stop offset="0.649" stop-color="#c0b1a1"/><stop offset="0.731" stop-color="#aab8a6"/><stop offset="0.814" stop-color="#81b1a5"/><stop offset="0.907" stop-color="#63aba4"/><stop offset="1.000" stop-color="#45a6a0"/></linearGradient><linearGradient id="g69"><stop offset="0.000" stop-color="#84b1a5"/><stop offset="0.067" stop-color="#8ab2a6"/><stop offset="0.136" stop-color="#a8b8a6"/><stop offset="0.172" stop-color="#bab4a3"/><stop offset="0.207" stop-color="#c0b1a1"/><stop offset="0.280" stop-color="#c0b0a0"/><stop offset="0.511" stop-color="#c0af9f"/><stop offset="0.582" stop-color="#c0b09f"/><stop offset="0.648" stop-color="#c0b1a1"/><stop offset="0.730" stop-color="#a9b8a6"/><stop offset="0.812" stop-color="#80b1a5"/><stop offset="0.906" stop-color="#62aba4"/><stop offset="1.000" stop-color="#43a6a0"/></linearGradient><linearGradient id="g70"><stop offset="0.000" stop-color="#84b1a5"/><stop offset="0.067" stop-color="#8ab2a6"/><stop offset="0.136" stop-color="#a8b8a6"/><stop offset="0.172" stop-color="#bab4a3"/><stop offset="0.207" stop-color="#c0b1a1"/><stop offset="0.280" stop-color="#c0b0a0"/><stop offset="0.511" stop-color="#c0af9f"/><stop offset="0.580" stop-color="#c0b09f"/><stop offset="0.647" stop-color="#c0b1a1"/><stop offset="0.729" stop-color="#a9b8a6"/><stop offset="0.811" stop-color="#80b1a5"/><stop offset="0.905" stop-color="#61aaa4"/><stop offset="1.000" stop-color="#42a5a0"/></linearGradient><linearGradient id="g71"><stop offset="0.000" stop-color="#84b1a5"/><stop offset="0.067" stop-color="#8ab2a6"/><stop offset="0.136" stop-color="#a8b8a6"/><stop offset="0.172" stop-color="#bab4a3"/><stop offset="0.207" stop-color="#c0b1a1"/><stop offset="0.280" stop-color="#c0b0a0"/><stop offset="0.511" stop-color="#c0af9f"/><stop offset="0.579" stop-color="#c0b09f"/><stop offset="0.646" stop-color="#c0b1a1"/><stop offset="0.728" stop-color="#a8b8a6"/><stop offset="0.809" stop-color="#7fb1a5"/><stop offset="0.905" stop-color="#60aaa4"/><stop offset="1.000" stop-color="#41a5a0"/></linearGradient><linearGradient id="g72"><stop offset="0.000" stop-color="#84b1a5"/><stop offset="0.067" stop-color="#8ab2a6"/><stop offset="0.136" stop-color="#a8b8a6"/><stop offset="0.172" stop-color="#bab4a3"/><stop offset="0.207" stop-color="#c0b1a1"/><stop offset="0.280" stop-color="#c0b0a0"/><stop offset="0.511" stop-color="#c0af9f"/><stop offset="0.578" stop-color="#c0b09f"/><stop offset="0.645" stop-color="#c0b1a1"/><stop offset="0.727" stop-color="#a8b8a6"/><stop offset="0.808" stop-color="#7eb0a5"/><stop offset="0.904" stop-color="#5faaa4"/><stop offset="1.000" stop-color="#40a59f"/></linearGradient><linearGradient id="g73" x1="0" x2="0" y1="0" y2="1"><stop offset="0.000" stop-color="#bfad9b"/><stop offset="0.017" stop-color="#bfad9b"/><stop offset="0.033" stop-color="#bfae9c"/><stop offset="0.050" stop-color="#bfae9c"/><stop offset="0.067" stop-color="#bfae9d"/><stop offset="0.083" stop-color="#bfaf9d"/><stop offset="0.100" stop-color="#bfaf9e"/><stop offset="0.117" stop-color="#c0af9e"/><stop offset="0.133" stop-color="#c0b09f"/><stop offset="0.150" stop-color="#c0b09f"/><stop offset="0.167" stop-color="#c0b0a0"/><stop offset="0.183" stop-color="#c0b0a0"/><stop offset="0.200" stop-color="#c0b1a1"/><stop offset="0.217" stop-color="#bfb2a1"/><stop offset="0.233" stop-color="#bdb3a2"/><stop offset="0.250" stop-color="#b8b5a4"/><stop offset="0.267" stop-color="#afb7a5"/><stop offset="0.283" stop-color="#a6b8a6"/><stop offset="0.300" stop-color="#9cb6a6"/><stop offset="0.317" stop-color="#91b4a6"/><stop offset="0.333" stop-color="#88b2a6"/><stop offset="0.350" stop-color="#7eb0a5"/><stop offset="0.367" stop-color="#74aea5"/><stop offset="0.383" stop-color="#69aca4"/><stop offset="0.400" stop-color="#5faaa4"/><stop offset="0.417" stop-color="#55a8a2"/><stop offset="0.433" stop-color="#4ba7a1"/><stop offset="0.450" stop-color="#3fa59f"/><stop offset="0.467" stop-color="#2fa29e"/><stop offset="0.483" stop-color="#219f9c"/><stop offset="0.500" stop-color="#149c9b"/><stop offset="0.517" stop-color="#149899"/><stop offset="0.533" stop-color="#139497"/><stop offset="0.550" stop-color="#139096"/><stop offset="0.567" stop-color="#128c94"/><stop offset="0.583" stop-color="#128893"/><stop offset="0.600" stop-color="#118492"/><stop offset="0.617" stop-color="#108191"/><stop offset="0.633" stop-color="#107d91"/><stop offset="0.650" stop-color="#0f7990"/><stop offset="0.667" stop-color="#0e748f"/><stop offset="0.683" stop-color="#0e6f8d"/><stop offset="0.700" stop-color="#0d6a8b"/><stop offset="0.717" stop-color="#0c6589"/><stop offset="0.733" stop-color="#0b6087"/><stop offset="0.750" stop-color="#0b5b85"/><stop offset="0.767" stop-color="#0c5882"/><stop offset="0.783" stop-color="#0c5480"/><stop offset="0.800" stop-color="#0d507d"/><stop offset="0.817" stop-color="#0d4d7b"/><stop offset="0.833" stop-color="#0e4a78"/><stop offset="0.850" stop-color="#104675"/><stop offset="0.867" stop-color="#114372"/><stop offset="0.883" stop-color="#12406f"/><stop offset="0.900" stop-color="#133d6c"/><stop offset="0.917" stop-color="#163a69"/><stop offset="0.933" stop-color="#183867"/><stop offset="0.950" stop-color="#1a3564"/><stop offset="0.967" stop-color="#1c3261"/><stop offset="0.983" stop-color="#1e2f5e"/><stop offset="1.000" stop-color="#1e2d5d"/></linearGradient><linearGradient id="g74"><stop offset="0.000" stop-color="#2ba19d"/><stop offset="0.067" stop-color="#47a6a0"/><stop offset="0.107" stop-color="#68aca4"/><stop offset="0.127" stop-color="#7fb1a5"/><stop offset="0.146" stop-color="#94b4a6"/><stop offset="0.184" stop-color="#bbb4a3"/><stop offset="0.214" stop-color="#c0b1a1"/><stop offset="0.357" stop-color="#c0b09f"/><stop offset="0.549" stop-color="#c0b09f"/><stop offset="0.694" stop-color="#c0b1a1"/><stop offset="0.718" stop-color="#b9b5a3"/><stop offset="0.741" stop-color="#9fb6a6"/><stop offset="0.770" stop-color="#82b1a5"/><stop offset="0.799" stop-color="#65aba4"/><stop offset="0.828" stop-color="#44a6a0"/><stop offset="0.857" stop-color="#149c9b"/><stop offset="0.895" stop-color="#139196"/><stop offset="0.933" stop-color="#118792"/><stop offset="1.000" stop-color="#0f7a90"/></linearGradient><linearGradient id="g75"><stop offset="0.000" stop-color="#2aa19d"/><stop offset="0.067" stop-color="#45a6a0"/><stop offset="0.107" stop-color="#66aca4"/><stop offset="0.127" stop-color="#7db0a5"/><stop offset="0.146" stop-color="#92b4a6"/><stop offset="0.184" stop-color="#b9b5a3"/><stop offset="0.215" stop-color="#c0b1a1"/><stop offset="0.357" stop-color="#c0b09f"/><stop offset="0.549" stop-color="#c0b09f"/><stop offset="0.695" stop-color="#c0b1a1"/><stop offset="0.719" stop-color="#b9b5a3"/><stop offset="0.743" stop-color="#9fb6a6"/><stop offset="0.771" stop-color="#82b1a5"/><stop offset="0.800" stop-color="#65aba4"/><stop offset="0.829" stop-color="#44a6a0"/><stop offset="0.858" stop-color="#149c9b"/><stop offset="0.896" stop-color="#139196"/><stop offset="0.934" stop-color="#118792"/><stop offset="1.000" stop-color="#0f7a90"/></linearGradient><linearGradient id="g76"><stop offset="0.000" stop-color="#28a19d"/><stop offset="0.067" stop-color="#43a6a0"/><stop offset="0.107" stop-color="#64aba4"/><stop offset="0.127" stop-color="#7bb0a5"/><stop offset="0.146" stop-color="#90b3a6"/><stop offset="0.184" stop-color="#b8b5a3"/><stop offset="0.217" stop-color="#c0b1a1"/><stop offset="0.357" stop-color="#c0b09f"/><stop offset="0.549" stop-color="#c0b09f"/><stop offset="0.697" stop-color="#c0b1a1"/><stop offset="0.721" stop-color="#b9b5a3"/><stop offset="0.744" stop-color="#9fb6a6"/><stop offset="0.773" stop-color="#82b1a5"/><stop offset="0.801" stop-color="#65aba4"/><stop offset="0.830" stop-color="#44a6a0"/><stop offset="0.859" stop-color="#149c9b"/><stop offset="0.896" stop-color="#139296"/><stop offset="0.934" stop-color="#128793"/><stop offset="1.000" stop-color="#0f7b90"/></linearGradient><linearGradient id="g77"><stop offset="0.000" stop-color="#27a09d"/><stop offset="0.067" stop-color="#41a5a0"/><stop offset="0.107" stop-color="#63aba4"/><stop offset="0.127" stop-color="#79b0a5"/><stop offset="0.146" stop-color="#8eb3a6"/><stop offset="0.184" stop-color="#b6b6a4"/><stop offset="0.219" stop-color="#c0b1a1"/><stop offset="0.357" stop-color="#c0b09f"/><stop offset="0.549" stop-color="#c0b09f"/><stop offset="0.699" stop-color="#c0b1a1"/><stop offset="0.722" stop-color="#b9b5a3"/><stop offset="0.745" stop-color="#9fb6a6"/><stop offset="0.774" stop-color="#82b1a5"/><stop offset="0.802" stop-color="#65aba4"/><stop offset="0.831" stop-color="#44a6a0"/><stop offset="0.860" stop-color="#149c9b"/><stop offset="0.897" stop-color="#139296"/><stop offset="0.935" stop-color="#128793"/><stop offset="1.000" stop-color="#0f7b90"/></linearGradient><linearGradient id="g78"><stop offset="0.000" stop-color="#26a09d"/><stop offset="0.067" stop-color="#3fa59f"/><stop offset="0.107" stop-color="#61aaa4"/><stop offset="0.127" stop-color="#77afa5"/><stop offset="0.146" stop-color="#8cb3a6"/><stop offset="0.184" stop-color="#b4b6a4"/><stop offset="0.220" stop-color="#c0b1a1"/><stop offset="0.357" stop-color="#c0b09f"/><stop offset="0.549" stop-color="#c0b09f"/><stop offset="0.700" stop-color="#c0b1a1"/><stop offset="0.724" stop-color="#b9b5a3"/><stop offset="0.747" stop-color="#9fb6a6"/><stop offset="0.775" stop-color="#82b1a5"/><stop offset="0.803" stop-color="#65aba4"/><stop offset="0.832" stop-color="#44a6a0"/><stop offset="0.861" stop-color="#149c9b"/><stop offset="0.898" stop-color="#139296"/><stop offset="0.935" stop-color="#128793"/><stop offset="1.000" stop-color="#0f7b90"/></linearGradient><linearGradient id="g79"><stop offset="0.000" stop-color="#24a09c"/><stop offset="0.067" stop-color="#3da49f"/><stop offset="0.107" stop-color="#60aaa4"/><stop offset="0.127" stop-color="#75afa5"/><stop offset="0.146" stop-color="#8ab2a6"/><stop offset="0.184" stop-color="#b2b7a5"/><stop offset="0.222" stop-color="#c0b1a1"/><stop offset="0.357" stop-color="#c0b09f"/><stop offset="0.549" stop-color="#c0b09f"/><stop offset="0.702" stop-color="#c0b1a1"/><stop offset="0.725" stop-color="#b9b5a3"/><stop offset="0.748" stop-color="#9fb6a6"/><stop offset="0.776" stop-color="#82b1a5"/><stop offset="0.804" stop-color="#65aba4"/><stop offset="0.833" stop-color="#44a6a0"/><stop offset="0.862" stop-color="#149c9b"/><stop offset="0.899" stop-color="#139296"/><stop offset="0.936" stop-color="#128793"/><stop offset="1.000" stop-color="#107b91"/></linearGradient><linearGradient id="g80"><stop offset="0.000" stop-color="#239f9c"/><stop offset="0.067" stop-color="#3ba49f"/><stop offset="0.107" stop-color="#5eaaa4"/><stop offset="0.146" stop-color="#88b2a6"/><stop offset="0.184" stop-color="#b0b7a5"/><stop offset="0.224" stop-color="#c0b1a1"/><stop offset="0.357" stop-color="#c0b09f"/><stop offset="0.549" stop-color="#c0b09f"/><stop offset="0.704" stop-color="#c0b1a1"/><stop offset="0.727" stop-color="#b9b5a3"/><stop offset="0.749" stop-color="#9fb6a6"/><stop offset="0.778" stop-color="#82b1a5"/><stop offset="0.806" stop-color="#65aba4"/><stop offset="0.834" stop-color="#44a6a0"/><stop offset="0.863" stop-color="#149c9b"/><stop offset="0.900" stop-color="#139296"/><stop offset="0.936" stop-color="#128893"/><stop offset="1.000" stop-color="#107b91"/></linearGradient><linearGradient id="g81"><stop offset="0.000" stop-color="#219f9c"/><stop offset="0.067" stop-color="#38a49f"/><stop offset="0.107" stop-color="#5caaa4"/><stop offset="0.146" stop-color="#86b2a5"/><stop offset="0.184" stop-color="#aeb7a5"/><stop offset="0.205" stop-color="#bdb3a2"/><stop offset="0.225" stop-color="#c0b1a1"/><stop offset="0.357" stop-color="#c0b09f"/><stop offset="0.549" stop-color="#c0b09f"/><stop offset="0.705" stop-color="#c0b1a1"/><stop offset="0.728" stop-color="#b9b5a3"/><stop offset="0.751" stop-color="#9fb6a6"/><stop offset="0.779" stop-color="#82b1a5"/><stop offset="0.807" stop-color="#65aba4"/><stop offset="0.836" stop-color="#44a6a0"/><stop offset="0.864" stop-color="#149c9b"/><stop offset="0.901" stop-color="#139296"/><stop offset="0.937" stop-color="#128893"/><stop offset="1.000" stop-color="#107c91"/></linearGradient><linearGradient id="g82"><stop offset="0.000" stop-color="#209f9c"/><stop offset="0.067" stop-color="#36a39e"/><stop offset="0.107" stop-color="#5ba9a3"/><stop offset="0.146" stop-color="#84b1a5"/><stop offset="0.184" stop-color="#abb8a6"/><stop offset="0.206" stop-color="#bcb3a2"/><stop offset="0.227" stop-color="#c0b1a1"/><stop offset="0.357" stop-color="#c0b09f"/><stop offset="0.549" stop-color="#c0b09f"/><stop offset="0.707" stop-color="#c0b1a1"/><stop offset="0.730" stop-color="#b9b5a3"/><stop offset="0.752" stop-color="#9fb6a6"/><stop offset="0.780" stop-color="#82b1a5"/><stop offset="0.808" stop-color="#65aba4"/><stop offset="0.837" stop-color="#44a6a0"/><stop offset="0.865" stop-color="#149c9b"/><stop offset="0.901" stop-color="#139297"/><stop offset="0.938" stop-color="#128893"/><stop offset="1.000" stop-color="#107c91"/></linearGradient><linearGradient id="g83"><stop offset="0.000" stop-color="#1f9e9c"/><stop offset="0.067" stop-color="#34a39e"/><stop offset="0.107" stop-color="#59a9a3"/><stop offset="0.146" stop-color="#82b1a5"/><stop offset="0.184" stop-color="#a9b8a6"/><stop offset="0.207" stop-color="#bcb4a2"/><stop offset="0.229" stop-color="#c0b1a1"/><stop offset="0.357" stop-color="#c0b09f"/><stop offset="0.549" stop-color="#c0b09f"/><stop offset="0.709" stop-color="#c0b1a1"/><stop offset="0.731" stop-color="#b9b5a3"/><stop offset="0.753" stop-color="#9fb6a6"/><stop offset="0.781" stop-color="#82b1a5"/><stop offset="0.809" stop-color="#65aba4"/><stop offset="0.838" stop-color="#44a6a0"/><stop offset="0.867" stop-color="#149c9b"/><stop offset="0.902" stop-color="#139297"/><stop offset="0.938" stop-color="#128893"/><stop offset="1.000" stop-color="#107c91"/></linearGradient><linearGradient id="g84"><stop offset="0.000" stop-color="#1d9e9c"/><stop offset="0.067" stop-color="#32a29e"/><stop offset="0.107" stop-color="#58a9a3"/><stop offset="0.146" stop-color="#80b1a5"/><stop offset="0.184" stop-color="#a7b8a6"/><stop offset="0.207" stop-color="#bbb4a3"/><stop offset="0.230" stop-color="#c0b1a1"/><stop offset="0.357" stop-color="#c0b09f"/><stop offset="0.549" stop-color="#c0b09f"/><stop offset="0.710" stop-color="#c0b1a1"/><stop offset="0.733" stop-color="#b9b5a3"/><stop offset="0.755" stop-color="#9fb6a6"/><stop offset="0.782" stop-color="#82b1a5"/><stop offset="0.810" stop-color="#65aba4"/><stop offset="0.839" stop-color="#44a6a0"/><stop offset="0.868" stop-color="#149c9b"/><stop offset="0.903" stop-color="#139297"/><stop offset="0.939" stop-color="#128893"/><stop offset="1.000" stop-color="#107c91"/></linearGradient><linearGradient id="g85"><stop offset="0.000" stop-color="#1c9e9c"/><stop offset="0.067" stop-color="#2fa29e"/><stop offset="0.107" stop-color="#56a9a3"/><stop offset="0.146" stop-color="#7eb0a5"/><stop offset="0.184" stop-color="#a4b7a6"/><stop offset="0.208" stop-color="#bab4a3"/><stop offset="0.232" stop-color="#c0b1a1"/><stop offset="0.357" stop-color="#c0b09f"/><stop offset="0.549" stop-color="#c0b09f"/><stop offset="0.712" stop-color="#c0b1a1"/><stop offset="0.734" stop-color="#b9b5a3"/><stop offset="0.756" stop-color="#9fb6a6"/><stop offset="0.784" stop-color="#82b1a5"/><stop offset="0.811" stop-color="#65aba4"/><stop offset="0.840" stop-color="#44a6a0"/><stop offset="0.869" stop-color="#149c9b"/><stop offset="0.904" stop-color="#139297"/><stop offset="0.939" stop-color="#128893"/><stop offset="1.000" stop-color="#107c91"/></linearGradient><linearGradient id="g86"><stop offset="0.000" stop-color="#1b9e9c"/><stop offset="0.067" stop-color="#2da29d"/><stop offset="0.107" stop-color="#55a8a2"/><stop offset="0.146" stop-color="#7cb0a5"/><stop offset="0.184" stop-color="#a2b7a6"/><stop offset="0.209" stop-color="#b9b5a3"/><stop offset="0.234" stop-color="#c0b1a1"/><stop offset="0.357" stop-color="#c0b09f"/><stop offset="0.549" stop-color="#c0b09f"/><stop offset="0.714" stop-color="#c0b1a1"/><stop offset="0.736" stop-color="#b9b5a3"/><stop offset="0.757" stop-color="#9fb6a6"/><stop offset="0.785" stop-color="#82b1a5"/><stop offset="0.812" stop-color="#65aba4"/><stop offset="0.841" stop-color="#44a6a0"/><stop offset="0.870" stop-color="#149c9b"/><stop offset="0.905" stop-color="#139297"/><stop offset="0.940" stop-color="#128893"/><stop offset="1.000" stop-color="#107d91"/></linearGradient><linearGradient id="g87"><stop offset="0.000" stop-color="#199d9b"/><stop offset="0.067" stop-color="#2ba19d"/><stop offset="0.107" stop-color="#53a8a2"/><stop offset="0.146" stop-color="#7ab0a5"/><stop offset="0.184" stop-color="#9fb6a6"/><stop offset="0.210" stop-color="#b9b5a3"/><stop offset="0.235" stop-color="#c0b1a1"/><stop offset="0.357" stop-color="#c0b09f"/><stop offset="0.549" stop-color="#c0b09f"/><stop offset="0.715" stop-color="#c0b1a1"/><stop offset="0.737" stop-color="#b9b5a3"/><stop offset="0.759" stop-color="#9fb6a6"/><stop offset="0.786" stop-color="#82b1a5"/><stop offset="0.813" stop-color="#65aba4"/><stop offset="0.842" stop-color="#44a6a0"/><stop offset="0.871" stop-color="#149c9b"/><stop offset="0.906" stop-color="#139297"/><stop offset="0.940" stop-color="#128993"/><stop offset="1.000" stop-color="#107d91"/></linearGradient><linearGradient id="g88"><stop offset="0.000" stop-color="#189d9b"/><stop offset="0.067" stop-color="#29a19d"/><stop offset="0.107" stop-color="#52a8a2"/><stop offset="0.146" stop-color="#78afa5"/><stop offset="0.184" stop-color="#9cb6a6"/><stop offset="0.211" stop-color="#b8b5a3"/><stop offset="0.237" stop-color="#c0b1a1"/><stop offset="0.357" stop-color="#c0b09f"/><stop offset="0.549" stop-color="#c0b09f"/><stop offset="0.717" stop-color="#c0b1a1"/><stop offset="0.739" stop-color="#b9b5a3"/><stop offset="0.760" stop-color="#9fb6a6"/><stop offset="0.787" stop-color="#82b1a5"/><stop offset="0.814" stop-color="#65aba4"/><stop offset="0.843" stop-color="#44a6a0"/><stop offset="0.872" stop-color="#149c9b"/><stop offset="0.906" stop-color="#139297"/><stop offset="0.941" stop-color="#128993"/><stop offset="1.000" stop-color="#107d91"/></linearGradient><linearGradient id="g89"><stop offset="0.000" stop-color="#179d9b"/><stop offset="0.067" stop-color="#27a09d"/><stop offset="0.107" stop-color="#50a8a2"/><stop offset="0.146" stop-color="#76afa5"/><stop offset="0.184" stop-color="#9ab5a6"/><stop offset="0.212" stop-color="#b7b5a4"/><stop offset="0.239" stop-color="#c0b1a1"/><stop offset="0.357" stop-color="#c0b09f"/><stop offset="0.549" stop-color="#c0b09f"/><stop offset="0.719" stop-color="#c0b1a1"/><stop offset="0.740" stop-color="#b9b5a3"/><stop offset="0.761" stop-color="#9fb6a6"/><stop offset="0.789" stop-color="#82b1a5"/><stop offset="0.816" stop-color="#65aba4"/><stop offset="0.844" stop-color="#44a6a0"/><stop offset="0.873" stop-color="#149c9b"/><stop offset="0.907" stop-color="#139297"/><stop offset="0.941" stop-color="#128993"/><stop offset="1.000" stop-color="#107d91"/></linearGradient><linearGradient id="g90"><stop offset="0.000" stop-color="#159c9b"/><stop offset="0.067" stop-color="#25a09d"/><stop offset="0.107" stop-color="#4fa7a1"/><stop offset="0.146" stop-color="#74aea5"/><stop offset="0.184" stop-color="#97b5a6"/><stop offset="0.212" stop-color="#b7b6a4"/><stop offset="0.240" stop-color="#c0b1a1"/><stop offset="0.357" stop-color="#c0b09f"/><stop offset="0.549" stop-color="#c0b09f"/><stop offset="0.720" stop-color="#c0b1a1"/><stop offset="0.742" stop-color="#b9b5a3"/><stop offset="0.763" stop-color="#9fb6a6"/><stop offset="0.790" stop-color="#82b1a5"/><stop offset="0.817" stop-color="#65aba4"/><stop offset="0.845" stop-color="#44a6a0"/><stop offset="0.874" stop-color="#149c9b"/><stop offset="0.908" stop-color="#139297"/><stop offset="0.942" stop-color="#128993"/><stop offset="1.000" stop-color="#107d91"/></linearGradient><linearGradient id="g91"><stop offset="0.000" stop-color="#149c9b"/><stop offset="0.067" stop-color="#24a09c"/><stop offset="0.107" stop-color="#4da7a1"/><stop offset="0.146" stop-color="#72aea5"/><stop offset="0.184" stop-color="#95b4a6"/><stop offset="0.213" stop-color="#b6b6a4"/><stop offset="0.242" stop-color="#c0b1a1"/><stop offset="0.357" stop-color="#c0b09f"/><stop offset="0.549" stop-color="#c0b09f"/><stop offset="0.722" stop-color="#c0b1a1"/><stop offset="0.743" stop-color="#b9b5a3"/><stop offset="0.764" stop-color="#9fb6a6"/><stop offset="0.791" stop-color="#82b1a5"/><stop offset="0.818" stop-color="#65aba4"/><stop offset="0.846" stop-color="#44a6a0"/><stop offset="0.875" stop-color="#149c9b"/><stop offset="0.909" stop-color="#139397"/><stop offset="0.942" stop-color="#128993"/><stop offset="1.000" stop-color="#107e91"/></linearGradient><linearGradient id="g92"><stop offset="0.000" stop-color="#149c9b"/><stop offset="0.067" stop-color="#239f9c"/><stop offset="0.107" stop-color="#4ca7a1"/><stop offset="0.146" stop-color="#71aea5"/><stop offset="0.184" stop-color="#95b4a6"/><stop offset="0.213" stop-color="#b6b6a4"/><stop offset="0.242" stop-color="#c0b1a1"/><stop offset="0.357" stop-color="#c0b09f"/><stop offset="0.549" stop-color="#c0b09f"/><stop offset="0.723" stop-color="#c0b1a1"/><stop offset="0.743" stop-color="#b8b5a3"/><stop offset="0.764" stop-color="#9eb6a6"/><stop offset="0.791" stop-color="#81b1a5"/><stop offset="0.818" stop-color="#63aba4"/><stop offset="0.846" stop-color="#42a5a0"/><stop offset="0.874" stop-color="#149c9b"/><stop offset="0.908" stop-color="#139397"/><stop offset="0.942" stop-color="#128993"/><stop offset="1.000" stop-color="#107d91"/></linearGradient><linearGradient id="g93"><stop offset="0.000" stop-color="#149c9b"/><stop offset="0.067" stop-color="#229f9c"/><stop offset="0.107" stop-color="#4ca7a1"/><stop offset="0.146" stop-color="#71aea5"/><stop offset="0.184" stop-color="#94b4a6"/><stop offset="0.214" stop-color="#b6b6a4"/><stop offset="0.243" stop-color="#c0b1a1"/><stop offset="0.357" stop-color="#c0b09f"/><stop offset="0.549" stop-color="#c0b09f"/><stop offset="0.723" stop-color="#c0b1a1"/><stop offset="0.744" stop-color="#b8b5a3"/><stop offset="0.765" stop-color="#9eb6a6"/><stop offset="0.791" stop-color="#7fb1a5"/><stop offset="0.818" stop-color="#60aaa4"/><stop offset="0.846" stop-color="#40a59f"/><stop offset="0.873" stop-color="#149c9b"/><stop offset="0.907" stop-color="#139397"/><stop offset="0.941" stop-color="#128993"/><stop offset="1.000" stop-color="#107d91"/></linearGradient><linearGradient id="g94"><stop offset="0.000" stop-color="#149c9b"/><stop offset="0.067" stop-color="#219f9c"/><stop offset="0.107" stop-color="#4ba7a1"/><stop offset="0.146" stop-color="#71aea5"/><stop offset="0.184" stop-color="#94b4a6"/><stop offset="0.214" stop-color="#b5b6a4"/><stop offset="0.243" stop-color="#c0b1a1"/><stop offset="0.357" stop-color="#c0b09f"/><stop offset="0.549" stop-color="#c0b09f"/><stop offset="0.724" stop-color="#c0b1a1"/><stop offset="0.744" stop-color="#b8b5a3"/><stop offset="0.765" stop-color="#9db6a6"/><stop offset="0.792" stop-color="#7eb0a5"/><stop offset="0.819" stop-color="#5eaaa4"/><stop offset="0.846" stop-color="#3ea59f"/><stop offset="0.873" stop-color="#149c9b"/><stop offset="0.907" stop-color="#139397"/><stop offset="0.941" stop-color="#128993"/><stop offset="1.000" stop-color="#107d91"/></linearGradient><linearGradient id="g95"><stop offset="0.000" stop-color="#149b9b"/><stop offset="0.067" stop-color="#209f9c"/><stop offset="0.107" stop-color="#4aa7a1"/><stop offset="0.146" stop-color="#71aea5"/><stop offset="0.184" stop-color="#93b4a6"/><stop offset="0.214" stop-color="#b5b6a4"/><stop offset="0.244" stop-color="#c0b1a1"/><stop offset="0.357" stop-color="#c0b09f"/><stop offset="0.549" stop-color="#c0b09f"/><stop offset="0.725" stop-color="#c0b1a1"/><stop offset="0.745" stop-color="#b8b5a4"/><stop offset="0.765" stop-color="#9db6a6"/><stop offset="0.792" stop-color="#7db0a5"/><stop offset="0.819" stop-color="#5ca9a3"/><stop offset="0.845" stop-color="#3ca49f"/><stop offset="0.872" stop-color="#149c9b"/><stop offset="0.906" stop-color="#139397"/><stop offset="0.940" stop-color="#128a93"/><stop offset="1.000" stop-color="#107d91"/></linearGradient><linearGradient id="g96"><stop offset="0.000" stop-color="#149b9b"/><stop offset="0.067" stop-color="#1f9f9c"/><stop offset="0.107" stop-color="#49a7a1"/><stop offset="0.146" stop-color="#71aea5"/><stop offset="0.184" stop-color="#93b4a6"/><stop offset="0.214" stop-color="#b5b6a4"/><stop offset="0.245" stop-color="#c0b1a1"/><stop offset="0.357" stop-color="#c0b09f"/><stop offset="0.549" stop-color="#c0b09f"/><stop offset="0.725" stop-color="#c0b1a1"/><stop offset="0.745" stop-color="#b7b5a4"/><stop offset="0.766" stop-color="#9cb6a6"/><stop offset="0.792" stop-color="#7bb0a5"/><stop offset="0.819" stop-color="#59a9a3"/><stop offset="0.845" stop-color="#3ba49f"/><stop offset="0.871" stop-color="#149c9b"/><stop offset="0.905" stop-color="#139397"/><stop offset="0.940" stop-color="#128a93"/><stop offset="1.000" stop-color="#107d91"/></linearGradient><linearGradient id="g97"><stop offset="0.000" stop-color="#149b9b"/><stop offset="0.067" stop-color="#1e9e9c"/><stop offset="0.107" stop-color="#48a7a1"/><stop offset="0.146" stop-color="#71aea5"/><stop offset="0.184" stop-color="#92b4a6"/><stop offset="0.215" stop-color="#b5b6a4"/><stop offset="0.245" stop-color="#c0b1a1"/><stop offset="0.357" stop-color="#c0b09f"/><stop offset="0.549" stop-color="#c0b09f"/><stop offset="0.726" stop-color="#c0b1a1"/><stop offset="0.746" stop-color="#b7b6a4"/><stop offset="0.766" stop-color="#9cb6a6"/><stop offset="0.793" stop-color="#7ab0a5"/><stop offset="0.820" stop-color="#57a9a3"/><stop offset="0.845" stop-color="#39a49f"/><stop offset="0.870" stop-color="#149c9b"/><stop offset="0.905" stop-color="#139397"/><stop offset="0.939" stop-color="#128a93"/><stop offset="1.000" stop-color="#107d91"/></linearGradient><linearGradient id="g98"><stop offset="0.000" stop-color="#149b9b"/><stop offset="0.067" stop-color="#1e9e9c"/><stop offset="0.107" stop-color="#48a6a0"/><stop offset="0.146" stop-color="#70aea5"/><stop offset="0.184" stop-color="#92b4a6"/><stop offset="0.215" stop-color="#b4b6a4"/><stop offset="0.246" stop-color="#c0b1a1"/><stop offset="0.357" stop-color="#c0b09f"/><stop offset="0.549" stop-color="#c0b09f"/><stop offset="0.727" stop-color="#c0b1a1"/><stop offset="0.747" stop-color="#b7b6a4"/><stop offset="0.766" stop-color="#9bb5a6"/><stop offset="0.793" stop-color="#79afa5"/><stop offset="0.820" stop-color="#55a8a2"/><stop offset="0.845" stop-color="#37a39e"/><stop offset="0.869" stop-color="#149c9b"/><stop offset="0.904" stop-color="#139397"/><stop offset="0.939" stop-color="#128a93"/><stop offset="1.000" stop-color="#107d91"/></linearGradient><linearGradient id="g99"><stop offset="0.000" stop-color="#149b9b"/><stop offset="0.067" stop-color="#1d9e9c"/><stop offset="0.107" stop-color="#47a6a0"/><stop offset="0.146" stop-color="#70aea5"/><stop offset="0.184" stop-color="#91b4a6"/><stop offset="0.215" stop-color="#b4b6a4"/><stop offset="0.246" stop-color="#c0b1a1"/><stop offset="0.357" stop-color="#c0b09f"/><stop offset="0.549" stop-color="#c0b09f"/><stop offset="0.728" stop-color="#c0b1a1"/><stop offset="0.747" stop-color="#b7b6a4"/><stop offset="0.766" stop-color="#9ab5a6"/><stop offset="0.793" stop-color="#77afa5"/><stop offset="0.820" stop-color="#53a8a2"/><stop offset="0.844" stop-color="#35a39e"/><stop offset="0.868" stop-color="#149c9b"/><stop offset="0.903" stop-color="#139397"/><stop offset="0.938" stop-color="#128a93"/><stop offset="1.000" stop-color="#107d91"/></linearGradient><linearGradient id="g100"><stop offset="0.000" stop-color="#149b9a"/><stop offset="0.067" stop-color="#1c9e9c"/><stop offset="0.107" stop-color="#46a6a0"/><stop offset="0.146" stop-color="#70aea5"/><stop offset="0.184" stop-color="#91b3a6"/><stop offset="0.215" stop-color="#b4b6a4"/><stop offset="0.247" stop-color="#c0b1a1"/><stop offset="0.357" stop-color="#c0b09f"/><stop offset="0.549" stop-color="#c0b09f"/><stop offset="0.728" stop-color="#c0b1a1"/><stop offset="0.748" stop-color="#b6b6a4"/><stop offset="0.767" stop-color="#9ab5a6"/><stop offset="0.794" stop-color="#76afa5"/><stop offset="0.821" stop-color="#50a8a2"/><stop offset="0.844" stop-color="#33a39e"/><stop offset="0.868" stop-color="#149c9b"/><stop offset="0.903" stop-color="#139397"/><stop offset="0.938" stop-color="#128a93"/><stop offset="1.000" stop-color="#107d91"/></linearGradient><linearGradient id="g101"><stop offset="0.000" stop-color="#149b9a"/><stop offset="0.067" stop-color="#1b9e9c"/><stop offset="0.107" stop-color="#45a6a0"/><stop offset="0.127" stop-color="#5aa9a3"/><stop offset="0.146" stop-color="#70aea5"/><stop offset="0.184" stop-color="#90b3a6"/><stop offset="0.216" stop-color="#b4b6a4"/><stop offset="0.247" stop-color="#c0b1a1"/><stop offset="0.357" stop-color="#c0b09f"/><stop offset="0.549" stop-color="#c0b09f"/><stop offset="0.729" stop-color="#c0b1a1"/><stop offset="0.748" stop-color="#b6b6a4"/><stop offset="0.767" stop-color="#99b5a6"/><stop offset="0.794" stop-color="#74afa5"/><stop offset="0.821" stop-color="#4ea7a1"/><stop offset="0.844" stop-color="#31a29e"/><stop offset="0.867" stop-color="#149c9b"/><stop offset="0.902" stop-color="#139397"/><stop offset="0.937" stop-color="#128a93"/><stop offset="1.000" stop-color="#107d91"/></linearGradient><linearGradient id="g102"><stop offset="0.000" stop-color="#149b9a"/><stop offset="0.067" stop-color="#1a9d9c"/><stop offset="0.107" stop-color="#44a6a0"/><stop offset="0.127" stop-color="#5aa9a3"/><stop offset="0.146" stop-color="#70aea5"/><stop offset="0.184" stop-color="#90b3a6"/><stop offset="0.216" stop-color="#b3b6a4"/><stop offset="0.248" stop-color="#c0b1a1"/><stop offset="0.357" stop-color="#c0b09f"/><stop offset="0.549" stop-color="#c0b09f"/><stop offset="0.730" stop-color="#c0b1a1"/><stop offset="0.749" stop-color="#b6b6a4"/><stop offset="0.767" stop-color="#99b5a6"/><stop offset="0.794" stop-color="#73aea5"/><stop offset="0.821" stop-color="#4ca7a1"/><stop offset="0.866" stop-color="#149c9b"/><stop offset="0.901" stop-color="#139397"/><stop offset="0.937" stop-color="#128a93"/><stop offset="1.000" stop-color="#107d91"/></linearGradient><linearGradient id="g103"><stop offset="0.000" stop-color="#149a9a"/><stop offset="0.067" stop-color="#199d9b"/><stop offset="0.107" stop-color="#43a6a0"/><stop offset="0.127" stop-color="#59a9a3"/><stop offset="0.146" stop-color="#70aea5"/><stop offset="0.184" stop-color="#8fb3a6"/><stop offset="0.216" stop-color="#b3b6a4"/><stop offset="0.248" stop-color="#c0b1a1"/><stop offset="0.357" stop-color="#c0b09f"/><stop offset="0.549" stop-color="#c0b09f"/><stop offset="0.731" stop-color="#c0b1a1"/><stop offset="0.749" stop-color="#b6b6a4"/><stop offset="0.768" stop-color="#98b5a6"/><stop offset="0.795" stop-color="#71aea5"/><stop offset="0.821" stop-color="#4aa7a1"/><stop offset="0.865" stop-color="#149c9b"/><stop offset="0.901" stop-color="#139397"/><stop offset="0.936" stop-color="#128b93"/><stop offset="1.000" stop-color="#107d91"/></linearGradient><linearGradient id="g104"><stop offset="0.000" stop-color="#149a9a"/><stop offset="0.067" stop-color="#199d9b"/><stop offset="0.107" stop-color="#41a5a0"/><stop offset="0.127" stop-color="#59a9a3"/><stop offset="0.146" stop-color="#6faea5"/><stop offset="0.184" stop-color="#8fb3a6"/><stop offset="0.216" stop-color="#b3b6a4"/><stop offset="0.249" stop-color="#c0b1a1"/><stop offset="0.357" stop-color="#c0b09f"/><stop offset="0.549" stop-color="#c0b09f"/><stop offset="0.731" stop-color="#c0b1a1"/><stop offset="0.750" stop-color="#b5b6a4"/><stop offset="0.768" stop-color="#98b5a6"/><stop offset="0.795" stop-color="#70aea5"/><stop offset="0.822" stop-color="#47a6a0"/><stop offset="0.864" stop-color="#149c9b"/><stop offset="0.900" stop-color="#139397"/><stop offset="0.936" stop-color="#128b93"/><stop offset="1.000" stop-color="#107d91"/></linearGradient><linearGradient id="g105"><stop offset="0.000" stop-color="#149a9a"/><stop offset="0.067" stop-color="#189d9b"/><stop offset="0.107" stop-color="#40a59f"/><stop offset="0.127" stop-color="#58a9a3"/><stop offset="0.146" stop-color="#6fada5"/><stop offset="0.184" stop-color="#8eb3a6"/><stop offset="0.217" stop-color="#b3b6a4"/><stop offset="0.249" stop-color="#c0b1a1"/><stop offset="0.357" stop-color="#c0b09f"/><stop offset="0.549" stop-color="#c0b09f"/><stop offset="0.732" stop-color="#c0b1a1"/><stop offset="0.750" stop-color="#b5b6a4"/><stop offset="0.768" stop-color="#97b5a6"/><stop offset="0.795" stop-color="#6eada5"/><stop offset="0.822" stop-color="#45a6a0"/><stop offset="0.863" stop-color="#149c9b"/><stop offset="0.899" stop-color="#139397"/><stop offset="0.935" stop-color="#128b93"/><stop offset="1.000" stop-color="#107d91"/></linearGradient><linearGradient id="g106"><stop offset="0.000" stop-color="#149a9a"/><stop offset="0.067" stop-color="#179d9b"/><stop offset="0.107" stop-color="#3fa59f"/><stop offset="0.127" stop-color="#58a9a3"/><stop offset="0.146" stop-color="#6fada5"/><stop offset="0.184" stop-color="#8eb3a6"/><stop offset="0.217" stop-color="#b3b6a4"/><stop offset="0.250" stop-color="#c0b1a1"/><stop offset="0.357" stop-color="#c0b09f"/><stop offset="0.549" stop-color="#c0b09f"/><stop offset="0.733" stop-color="#c0b1a1"/><stop offset="0.751" stop-color="#b4b6a4"/><stop offset="0.769" stop-color="#97b5a6"/><stop offset="0.796" stop-color="#6dada5"/><stop offset="0.822" stop-color="#42a5a0"/><stop offset="0.863" stop-color="#149c9b"/><stop offset="0.899" stop-color="#139397"/><stop offset="0.935" stop-color="#128b93"/><stop offset="1.000" stop-color="#107d91"/></linearGradient><linearGradient id="g107"><stop offset="0.000" stop-color="#149a9a"/><stop offset="0.067" stop-color="#169c9b"/><stop offset="0.107" stop-color="#3da59f"/><stop offset="0.127" stop-color="#57a9a3"/><stop offset="0.146" stop-color="#6fada5"/><stop offset="0.184" stop-color="#8eb3a6"/><stop offset="0.217" stop-color="#b2b7a5"/><stop offset="0.250" stop-color="#c0b1a1"/><stop offset="0.357" stop-color="#c0b09f"/><stop offset="0.549" stop-color="#c0b09f"/><stop offset="0.733" stop-color="#c0b1a1"/><stop offset="0.751" stop-color="#b4b6a4"/><stop offset="0.769" stop-color="#96b4a6"/><stop offset="0.796" stop-color="#6cada4"/><stop offset="0.823" stop-color="#3ea59f"/><stop offset="0.862" stop-color="#149c9b"/><stop offset="0.898" stop-color="#139497"/><stop offset="0.934" stop-color="#128b94"/><stop offset="1.000" stop-color="#107d91"/></linearGradient><linearGradient id="g108"><stop offset="0.000" stop-color="#149a9a"/><stop offset="0.067" stop-color="#159c9b"/><stop offset="0.107" stop-color="#3ca49f"/><stop offset="0.127" stop-color="#57a9a3"/><stop offset="0.146" stop-color="#6fada5"/><stop offset="0.184" stop-color="#8db3a6"/><stop offset="0.218" stop-color="#b2b7a5"/><stop offset="0.251" stop-color="#c0b1a1"/><stop offset="0.357" stop-color="#c0b09f"/><stop offset="0.549" stop-color="#c0b09f"/><stop offset="0.734" stop-color="#c0b1a1"/><stop offset="0.752" stop-color="#b4b6a4"/><stop offset="0.769" stop-color="#96b4a6"/><stop offset="0.796" stop-color="#6aaca4"/><stop offset="0.823" stop-color="#3aa49f"/><stop offset="0.861" stop-color="#149c9b"/><stop offset="0.897" stop-color="#139497"/><stop offset="0.933" stop-color="#128b94"/><stop offset="1.000" stop-color="#107c91"/></linearGradient><linearGradient id="g109"><stop offset="0.000" stop-color="#149a9a"/><stop offset="0.067" stop-color="#149c9b"/><stop offset="0.107" stop-color="#3ba49f"/><stop offset="0.127" stop-color="#56a9a3"/><stop offset="0.146" stop-color="#6fada5"/><stop offset="0.184" stop-color="#8db3a6"/><stop offset="0.218" stop-color="#b2b7a5"/><stop offset="0.251" stop-color="#c0b1a1"/><stop offset="0.357" stop-color="#c0b09f"/><stop offset="0.549" stop-color="#c0b09f"/><stop offset="0.735" stop-color="#c0b1a1"/><stop offset="0.752" stop-color="#b3b6a4"/><stop offset="0.770" stop-color="#95b4a6"/><stop offset="0.796" stop-color="#69aca4"/><stop offset="0.823" stop-color="#37a39e"/><stop offset="0.860" stop-color="#149c9b"/><stop offset="0.897" stop-color="#139497"/><stop offset="0.933" stop-color="#128b94"/><stop offset="1.000" stop-color="#107c91"/></linearGradient><linearGradient id="g110"><stop offset="0.000" stop-color="#149a9a"/><stop offset="0.067" stop-color="#159c9b"/><stop offset="0.107" stop-color="#3ca49f"/><stop offset="0.127" stop-color="#57a9a3"/><stop offset="0.146" stop-color="#6fada5"/><stop offset="0.185" stop-color="#8db3a6"/><stop offset="0.218" stop-color="#b2b7a5"/><stop offset="0.252" stop-color="#c0b1a1"/><stop offset="0.357" stop-color="#c0b09f"/><stop offset="0.549" stop-color="#c0b09f"/><stop offset="0.731" stop-color="#c0b1a1"/><stop offset="0.749" stop-color="#b3b6a4"/><stop offset="0.766" stop-color="#95b4a6"/><stop offset="0.793" stop-color="#69aca4"/><stop offset="0.820" stop-color="#37a39e"/><stop offset="0.858" stop-color="#149c9b"/><stop offset="0.895" stop-color="#139497"/><stop offset="0.931" stop-color="#128b94"/><stop offset="1.000" stop-color="#107c91"/></linearGradient><linearGradient id="g111"><stop offset="0.000" stop-color="#149a9a"/><stop offset="0.067" stop-color="#159c9b"/><stop offset="0.107" stop-color="#3da59f"/><stop offset="0.127" stop-color="#58a9a3"/><stop offset="0.146" stop-color="#70aea5"/><stop offset="0.185" stop-color="#8eb3a6"/><stop offset="0.219" stop-color="#b3b6a4"/><stop offset="0.253" stop-color="#c0b1a1"/><stop offset="0.357" stop-color="#c0b09f"/><stop offset="0.549" stop-color="#c0b09f"/><stop offset="0.726" stop-color="#c0b1a1"/><stop offset="0.743" stop-color="#b4b6a4"/><stop offset="0.761" stop-color="#96b4a6"/><stop offset="0.789" stop-color="#6aaca4"/><stop offset="0.816" stop-color="#39a49f"/><stop offset="0.855" stop-color="#149c9b"/><stop offset="0.892" stop-color="#139497"/><stop offset="0.929" stop-color="#128b93"/><stop offset="1.000" stop-color="#107b91"/></linearGradient><linearGradient id="g112"><stop offset="0.000" stop-color="#149a9a"/><stop offset="0.067" stop-color="#169c9b"/><stop offset="0.107" stop-color="#3fa59f"/><stop offset="0.127" stop-color="#58a9a3"/><stop offset="0.146" stop-color="#70aea5"/><stop offset="0.186" stop-color="#8fb3a6"/><stop offset="0.220" stop-color="#b3b6a4"/><stop offset="0.254" stop-color="#c0b1a1"/><stop offset="0.357" stop-color="#c0b09f"/><stop offset="0.549" stop-color="#c0b09f"/><stop offset="0.720" stop-color="#c0b1a1"/><stop offset="0.738" stop-color="#b4b6a4"/><stop offset="0.756" stop-color="#96b4a6"/><stop offset="0.784" stop-color="#6aaca4"/><stop offset="0.812" stop-color="#3ba49f"/><stop offset="0.852" stop-color="#149c9b"/><stop offset="0.890" stop-color="#139397"/><stop offset="0.927" stop-color="#128b93"/><stop offset="1.000" stop-color="#0f7b90"/></linearGradient><linearGradient id="g113"><stop offset="0.000" stop-color="#149b9a"/><stop offset="0.067" stop-color="#179d9b"/><stop offset="0.107" stop-color="#41a5a0"/><stop offset="0.127" stop-color="#59a9a3"/><stop offset="0.146" stop-color="#71aea5"/><stop offset="0.186" stop-color="#90b3a6"/><stop offset="0.221" stop-color="#b4b6a4"/><stop offset="0.255" stop-color="#c0b1a1"/><stop offset="0.357" stop-color="#c0b09f"/><stop offset="0.549" stop-color="#c0b09f"/><stop offset="0.714" stop-color="#c0b1a1"/><stop offset="0.733" stop-color="#b4b6a4"/><stop offset="0.751" stop-color="#96b4a6"/><stop offset="0.780" stop-color="#6bada4"/><stop offset="0.808" stop-color="#3da49f"/><stop offset="0.849" stop-color="#149c9b"/><stop offset="0.887" stop-color="#139397"/><stop offset="0.926" stop-color="#128b93"/><stop offset="1.000" stop-color="#0f7a90"/></linearGradient><linearGradient id="g114"><stop offset="0.000" stop-color="#149b9a"/><stop offset="0.067" stop-color="#189d9b"/><stop offset="0.107" stop-color="#43a6a0"/><stop offset="0.127" stop-color="#5aa9a3"/><stop offset="0.146" stop-color="#72aea5"/><stop offset="0.187" stop-color="#91b4a6"/><stop offset="0.221" stop-color="#b4b6a4"/><stop offset="0.256" stop-color="#c0b1a1"/><stop offset="0.357" stop-color="#c0b09f"/><stop offset="0.549" stop-color="#c0b09f"/><stop offset="0.709" stop-color="#c0b1a1"/><stop offset="0.728" stop-color="#b5b6a4"/><stop offset="0.747" stop-color="#97b5a6"/><stop offset="0.775" stop-color="#6cada4"/><stop offset="0.804" stop-color="#3fa59f"/><stop offset="0.846" stop-color="#149c9b"/><stop offset="0.885" stop-color="#139397"/><stop offset="0.924" stop-color="#128a93"/><stop offset="0.962" stop-color="#118292"/><stop offset="1.000" stop-color="#0f7a90"/></linearGradient><linearGradient id="g115"><stop offset="0.000" stop-color="#149b9b"/><stop offset="0.067" stop-color="#199d9b"/><stop offset="0.107" stop-color="#44a6a0"/><stop offset="0.127" stop-color="#5ba9a3"/><stop offset="0.146" stop-color="#72aea5"/><stop offset="0.187" stop-color="#92b4a6"/><stop offset="0.222" stop-color="#b5b6a4"/><stop offset="0.257" stop-color="#c0b1a1"/><stop offset="0.357" stop-color="#c0b09f"/><stop offset="0.549" stop-color="#c0b09f"/><stop offset="0.703" stop-color="#c0b1a1"/><stop offset="0.722" stop-color="#b5b6a4"/><stop offset="0.742" stop-color="#97b5a6"/><stop offset="0.770" stop-color="#6dada4"/><stop offset="0.799" stop-color="#41a5a0"/><stop offset="0.843" stop-color="#149c9b"/><stop offset="0.882" stop-color="#139397"/><stop offset="0.922" stop-color="#128a93"/><stop offset="0.961" stop-color="#118292"/><stop offset="1.000" stop-color="#0f7990"/></linearGradient><linearGradient id="g116"><stop offset="0.000" stop-color="#149b9b"/><stop offset="0.067" stop-color="#199d9b"/><stop offset="0.107" stop-color="#46a6a0"/><stop offset="0.127" stop-color="#5ca9a3"/><stop offset="0.146" stop-color="#73aea5"/><stop offset="0.188" stop-color="#93b4a6"/><stop offset="0.223" stop-color="#b5b6a4"/><stop offset="0.258" stop-color="#c0b1a1"/><stop offset="0.357" stop-color="#c0b09f"/><stop offset="0.549" stop-color="#c0b09f"/><stop offset="0.698" stop-color="#c0b1a1"/><stop offset="0.717" stop-color="#b5b6a4"/><stop offset="0.737" stop-color="#97b5a6"/><stop offset="0.766" stop-color="#6eada5"/><stop offset="0.795" stop-color="#43a6a0"/><stop offset="0.840" stop-color="#149c9b"/><stop offset="0.880" stop-color="#139397"/><stop offset="0.920" stop-color="#128a93"/><stop offset="0.960" stop-color="#118192"/><stop offset="1.000" stop-color="#0f7990"/></linearGradient><linearGradient id="g117"><stop offset="0.000" stop-color="#149b9b"/><stop offset="0.067" stop-color="#1a9d9c"/><stop offset="0.107" stop-color="#47a6a0"/><stop offset="0.127" stop-color="#5daaa4"/><stop offset="0.146" stop-color="#73aea5"/><stop offset="0.188" stop-color="#94b4a6"/><stop offset="0.224" stop-color="#b6b6a4"/><stop offset="0.259" stop-color="#c0b1a1"/><stop offset="0.357" stop-color="#c0b09f"/><stop offset="0.549" stop-color="#c0b09f"/><stop offset="0.692" stop-color="#c0b1a1"/><stop offset="0.712" stop-color="#b5b6a4"/><stop offset="0.732" stop-color="#98b5a6"/><stop offset="0.761" stop-color="#6eada5"/><stop offset="0.791" stop-color="#45a6a0"/><stop offset="0.837" stop-color="#149c9b"/><stop offset="0.877" stop-color="#139397"/><stop offset="0.918" stop-color="#128a93"/><stop offset="0.959" stop-color="#108191"/><stop offset="1.000" stop-color="#0f7890"/></linearGradient><linearGradient id="g118"><stop offset="0.000" stop-color="#149c9b"/><stop offset="0.067" stop-color="#1b9e9c"/><stop offset="0.107" stop-color="#48a6a0"/><stop offset="0.127" stop-color="#5daaa4"/><stop offset="0.146" stop-color="#74afa5"/><stop offset="0.189" stop-color="#96b4a6"/><stop offset="0.224" stop-color="#b6b6a4"/><stop offset="0.260" stop-color="#c0b1a1"/><stop offset="0.357" stop-color="#c0b09f"/><stop offset="0.549" stop-color="#c0b09f"/><stop offset="0.686" stop-color="#c0b1a1"/><stop offset="0.707" stop-color="#b6b6a4"/><stop offset="0.727" stop-color="#98b5a6"/><stop offset="0.757" stop-color="#6fada5"/><stop offset="0.787" stop-color="#46a6a0"/><stop offset="0.834" stop-color="#149c9b"/><stop offset="0.875" stop-color="#139397"/><stop offset="0.916" stop-color="#128993"/><stop offset="0.958" stop-color="#108191"/><stop offset="1.000" stop-color="#0f7890"/></linearGradient><linearGradient id="g119"><stop offset="0.000" stop-color="#149c9b"/><stop offset="0.067" stop-color="#1c9e9c"/><stop offset="0.107" stop-color="#49a7a1"/><stop offset="0.127" stop-color="#5eaaa4"/><stop offset="0.146" stop-color="#75afa5"/><stop offset="0.189" stop-color="#97b5a6"/><stop offset="0.225" stop-color="#b6b6a4"/><stop offset="0.261" stop-color="#c0b1a1"/><stop offset="0.357" stop-color="#c0b09f"/><stop offset="0.549" stop-color="#c0b09f"/><stop offset="0.681" stop-color="#c0b1a1"/><stop offset="0.701" stop-color="#b6b6a4"/><stop offset="0.722" stop-color="#98b5a6"/><stop offset="0.752" stop-color="#70aea5"/><stop offset="0.782" stop-color="#47a6a0"/><stop offset="0.831" stop-color="#149c9b"/><stop offset="0.873" stop-color="#139397"/><stop offset="0.914" stop-color="#128993"/><stop offset="0.957" stop-color="#108091"/><stop offset="1.000" stop-color="#0f7790"/></linearGradient><linearGradient id="g120"><stop offset="0.000" stop-color="#159c9b"/><stop offset="0.067" stop-color="#1d9e9c"/><stop offset="0.107" stop-color="#4aa7a1"/><stop offset="0.127" stop-color="#5faaa4"/><stop offset="0.146" stop-color="#75afa5"/><stop offset="0.190" stop-color="#98b5a6"/><stop offset="0.226" stop-color="#b7b6a4"/><stop offset="0.262" stop-color="#c0b1a1"/><stop offset="0.357" stop-color="#c0b09f"/><stop offset="0.549" stop-color="#c0b09f"/><stop offset="0.675" stop-color="#c0b1a1"/><stop offset="0.696" stop-color="#b6b6a4"/><stop offset="0.717" stop-color="#99b5a6"/><stop offset="0.748" stop-color="#71aea5"/><stop offset="0.778" stop-color="#48a7a1"/><stop offset="0.828" stop-color="#149c9b"/><stop offset="0.870" stop-color="#139297"/><stop offset="0.912" stop-color="#128993"/><stop offset="0.956" stop-color="#108091"/><stop offset="1.000" stop-color="#0f768f"/></linearGradient><linearGradient id="g121"><stop offset="0.000" stop-color="#169c9b"/><stop offset="0.067" stop-color="#1d9e9c"/><stop offset="0.107" stop-color="#4ba7a1"/><stop offset="0.127" stop-color="#60aaa4"/><stop offset="0.146" stop-color="#76afa5"/><stop offset="0.190" stop-color="#99b5a6"/><stop offset="0.226" stop-color="#b7b6a4"/><stop offset="0.263" stop-color="#c0b1a1"/><stop offset="0.357" stop-color="#c0b09f"/><stop offset="0.549" stop-color="#c0b09f"/><stop offset="0.670" stop-color="#c0b1a1"/><stop offset="0.691" stop-color="#b6b6a4"/><stop offset="0.712" stop-color="#99b5a6"/><stop offset="0.743" stop-color="#72aea5"/><stop offset="0.774" stop-color="#4aa7a1"/><stop offset="0.825" stop-color="#149c9b"/><stop offset="0.868" stop-color="#139297"/><stop offset="0.910" stop-color="#128993"/><stop offset="0.955" stop-color="#107f91"/><stop offset="1.000" stop-color="#0f768f"/></linearGradient><linearGradient id="g122"><stop offset="0.000" stop-color="#169d9b"/><stop offset="0.067" stop-color="#1e9e9c"/><stop offset="0.107" stop-color="#4ca7a1"/><stop offset="0.127" stop-color="#61aaa4"/><stop offset="0.146" stop-color="#77afa5"/><stop offset="0.190" stop-color="#9ab5a6"/><stop offset="0.227" stop-color="#b7b5a4"/><stop offset="0.264" stop-color="#c0b1a1"/><stop offset="0.357" stop-color="#c0b09f"/><stop offset="0.549" stop-color="#c0b09f"/><stop offset="0.664" stop-color="#c0b1a1"/><stop offset="0.686" stop-color="#b7b6a4"/><stop offset="0.707" stop-color="#99b5a6"/><stop offset="0.739" stop-color="#72aea5"/><stop offset="0.770" stop-color="#4ba7a1"/><stop offset="0.822" stop-color="#149c9b"/><stop offset="0.865" stop-color="#139297"/><stop offset="0.908" stop-color="#128893"/><stop offset="0.954" stop-color="#107f91"/><stop offset="1.000" stop-color="#0f758f"/></linearGradient><linearGradient id="g123"><stop offset="0.000" stop-color="#179d9b"/><stop offset="0.067" stop-color="#1f9f9c"/><stop offset="0.107" stop-color="#4da7a1"/><stop offset="0.146" stop-color="#77afa5"/><stop offset="0.191" stop-color="#9bb5a6"/><stop offset="0.228" stop-color="#b8b5a4"/><stop offset="0.265" stop-color="#c0b1a1"/><stop offset="0.357" stop-color="#c0b09f"/><stop offset="0.549" stop-color="#c0b09f"/><stop offset="0.658" stop-color="#c0b1a1"/><stop offset="0.680" stop-color="#b7b6a4"/><stop offset="0.702" stop-color="#9ab5a6"/><stop offset="0.734" stop-color="#73aea5"/><stop offset="0.766" stop-color="#4ca7a1"/><stop offset="0.820" stop-color="#149c9b"/><stop offset="0.863" stop-color="#139297"/><stop offset="0.906" stop-color="#128893"/><stop offset="0.953" stop-color="#107f91"/><stop offset="1.000" stop-color="#0e748f"/></linearGradient><linearGradient id="g124"><stop offset="0.000" stop-color="#189d9b"/><stop offset="0.067" stop-color="#209f9c"/><stop offset="0.107" stop-color="#4ea7a1"/><stop offset="0.146" stop-color="#78afa5"/><stop offset="0.191" stop-color="#9cb6a6"/><stop offset="0.229" stop-color="#b8b5a3"/><stop offset="0.266" stop-color="#c0b1a1"/><stop offset="0.357" stop-color="#c0b09f"/><stop offset="0.549" stop-color="#c0b09f"/><stop offset="0.653" stop-color="#c0b1a1"/><stop offset="0.675" stop-color="#b7b6a4"/><stop offset="0.698" stop-color="#9ab5a6"/><stop offset="0.729" stop-color="#74afa5"/><stop offset="0.761" stop-color="#4da7a1"/><stop offset="0.789" stop-color="#31a29e"/><stop offset="0.817" stop-color="#149c9b"/><stop offset="0.860" stop-color="#139297"/><stop offset="0.904" stop-color="#128893"/><stop offset="0.952" stop-color="#107e91"/><stop offset="1.000" stop-color="#0e738e"/></linearGradient><linearGradient id="g125"><stop offset="0.000" stop-color="#199d9b"/><stop offset="0.067" stop-color="#219f9c"/><stop offset="0.107" stop-color="#4fa8a2"/><stop offset="0.146" stop-color="#79afa5"/><stop offset="0.192" stop-color="#9db6a6"/><stop offset="0.229" stop-color="#b8b5a3"/><stop offset="0.267" stop-color="#c0b1a1"/><stop offset="0.357" stop-color="#c0b09f"/><stop offset="0.549" stop-color="#c0b09f"/><stop offset="0.647" stop-color="#c0b1a1"/><stop offset="0.670" stop-color="#b7b6a4"/><stop offset="0.693" stop-color="#9ab5a6"/><stop offset="0.725" stop-color="#75afa5"/><stop offset="0.757" stop-color="#4fa7a1"/><stop offset="0.785" stop-color="#32a29e"/><stop offset="0.814" stop-color="#149c9b"/><stop offset="0.858" stop-color="#139296"/><stop offset="0.902" stop-color="#128893"/><stop offset="0.951" stop-color="#107e91"/><stop offset="1.000" stop-color="#0e738e"/></linearGradient><linearGradient id="g126"><stop offset="0.000" stop-color="#1a9d9c"/><stop offset="0.067" stop-color="#219f9c"/><stop offset="0.107" stop-color="#50a8a2"/><stop offset="0.146" stop-color="#79b0a5"/><stop offset="0.192" stop-color="#9fb6a6"/><stop offset="0.230" stop-color="#b9b5a3"/><stop offset="0.268" stop-color="#c0b1a1"/><stop offset="0.357" stop-color="#c0b09f"/><stop offset="0.549" stop-color="#c0b09f"/><stop offset="0.642" stop-color="#c0b1a1"/><stop offset="0.665" stop-color="#b7b5a4"/><stop offset="0.688" stop-color="#9bb5a6"/><stop offset="0.720" stop-color="#76afa5"/><stop offset="0.753" stop-color="#50a8a2"/><stop offset="0.782" stop-color="#33a39e"/><stop offset="0.811" stop-color="#149c9b"/><stop offset="0.855" stop-color="#139296"/><stop offset="0.900" stop-color="#128793"/><stop offset="0.950" stop-color="#107d91"/><stop offset="1.000" stop-color="#0e728e"/></linearGradient><linearGradient id="g127"><stop offset="0.000" stop-color="#1a9d9c"/><stop offset="0.067" stop-color="#229f9c"/><stop offset="0.107" stop-color="#51a8a2"/><stop offset="0.146" stop-color="#7ab0a5"/><stop offset="0.193" stop-color="#a0b6a6"/><stop offset="0.231" stop-color="#b9b5a3"/><stop offset="0.269" stop-color="#c0b1a1"/><stop offset="0.357" stop-color="#c0b09f"/><stop offset="0.549" stop-color="#c0b09f"/><stop offset="0.636" stop-color="#c0b1a1"/><stop offset="0.659" stop-color="#b7b5a4"/><stop offset="0.683" stop-color="#9bb5a6"/><stop offset="0.716" stop-color="#76afa5"/><stop offset="0.749" stop-color="#51a8a2"/><stop offset="0.778" stop-color="#34a39e"/><stop offset="0.808" stop-color="#149c9b"/><stop offset="0.853" stop-color="#139296"/><stop offset="0.898" stop-color="#128793"/><stop offset="0.949" stop-color="#107d91"/><stop offset="1.000" stop-color="#0e718e"/></linearGradient><linearGradient id="g128"><stop offset="0.000" stop-color="#1b9e9c"/><stop offset="0.067" stop-color="#239f9c"/><stop offset="0.107" stop-color="#52a8a2"/><stop offset="0.146" stop-color="#7ab0a5"/><stop offset="0.193" stop-color="#a1b7a6"/><stop offset="0.232" stop-color="#b9b5a3"/><stop offset="0.270" stop-color="#c0b1a1"/><stop offset="0.357" stop-color="#c0b09f"/><stop offset="0.549" stop-color="#c0b09f"/><stop offset="0.631" stop-color="#c0b1a1"/><stop offset="0.654" stop-color="#b8b5a4"/><stop offset="0.678" stop-color="#9bb5a6"/><stop offset="0.711" stop-color="#77afa5"/><stop offset="0.744" stop-color="#52a8a2"/><stop offset="0.775" stop-color="#35a39e"/><stop offset="0.805" stop-color="#149c9b"/><stop offset="0.850" stop-color="#139196"/><stop offset="0.896" stop-color="#118792"/><stop offset="0.948" stop-color="#107d91"/><stop offset="1.000" stop-color="#0e718d"/></linearGradient><linearGradient id="g129"><stop offset="0.000" stop-color="#1c9e9c"/><stop offset="0.067" stop-color="#24a09c"/><stop offset="0.107" stop-color="#53a8a2"/><stop offset="0.146" stop-color="#7bb0a5"/><stop offset="0.194" stop-color="#a2b7a6"/><stop offset="0.232" stop-color="#b9b5a3"/><stop offset="0.271" stop-color="#c0b1a1"/><stop offset="0.357" stop-color="#c0b09f"/><stop offset="0.548" stop-color="#c0b09f"/><stop offset="0.625" stop-color="#c0b1a1"/><stop offset="0.649" stop-color="#b8b5a3"/><stop offset="0.673" stop-color="#9cb6a6"/><stop offset="0.707" stop-color="#78afa5"/><stop offset="0.740" stop-color="#54a8a2"/><stop offset="0.771" stop-color="#36a39e"/><stop offset="0.802" stop-color="#149c9b"/><stop offset="0.848" stop-color="#139196"/><stop offset="0.894" stop-color="#118792"/><stop offset="0.947" stop-color="#107c91"/><stop offset="1.000" stop-color="#0e708d"/></linearGradient><linearGradient id="g130"><stop offset="0.000" stop-color="#1e9e9c"/><stop offset="0.067" stop-color="#25a09d"/><stop offset="0.107" stop-color="#54a8a2"/><stop offset="0.146" stop-color="#7cb0a5"/><stop offset="0.193" stop-color="#a2b7a6"/><stop offset="0.232" stop-color="#b9b5a3"/><stop offset="0.271" stop-color="#c0b1a1"/><stop offset="0.358" stop-color="#c0b09f"/><stop offset="0.543" stop-color="#c0b09f"/><stop offset="0.620" stop-color="#c0b1a1"/><stop offset="0.644" stop-color="#b8b5a3"/><stop offset="0.668" stop-color="#9db6a6"/><stop offset="0.701" stop-color="#7ab0a5"/><stop offset="0.735" stop-color="#57a9a3"/><stop offset="0.767" stop-color="#3ba49f"/><stop offset="0.798" stop-color="#179d9b"/><stop offset="0.845" stop-color="#139297"/><stop offset="0.892" stop-color="#128793"/><stop offset="0.946" stop-color="#107c91"/><stop offset="1.000" stop-color="#0e6f8d"/></linearGradient><linearGradient id="g131"><stop offset="0.000" stop-color="#1f9f9c"/><stop offset="0.067" stop-color="#27a09d"/><stop offset="0.107" stop-color="#56a9a3"/><stop offset="0.146" stop-color="#7db0a5"/><stop offset="0.193" stop-color="#a1b7a6"/><stop offset="0.232" stop-color="#b9b5a3"/><stop offset="0.272" stop-color="#c0b1a1"/><stop offset="0.360" stop-color="#c0b09f"/><stop offset="0.539" stop-color="#c0b09f"/><stop offset="0.614" stop-color="#c0b1a1"/><stop offset="0.638" stop-color="#b8b5a3"/><stop offset="0.662" stop-color="#9eb6a6"/><stop offset="0.696" stop-color="#7db0a5"/><stop offset="0.731" stop-color="#5aa9a3"/><stop offset="0.762" stop-color="#3fa59f"/><stop offset="0.794" stop-color="#1a9d9c"/><stop offset="0.842" stop-color="#139397"/><stop offset="0.889" stop-color="#128793"/><stop offset="0.945" stop-color="#107c91"/><stop offset="1.000" stop-color="#0e6f8d"/></linearGradient><linearGradient id="g132"><stop offset="0.000" stop-color="#209f9c"/><stop offset="0.067" stop-color="#28a19d"/><stop offset="0.107" stop-color="#57a9a3"/><stop offset="0.146" stop-color="#7eb0a5"/><stop offset="0.192" stop-color="#a1b7a6"/><stop offset="0.232" stop-color="#b9b5a3"/><stop offset="0.273" stop-color="#c0b1a1"/><stop offset="0.361" stop-color="#c0b09f"/><stop offset="0.534" stop-color="#c0b09f"/><stop offset="0.609" stop-color="#c0b1a1"/><stop offset="0.633" stop-color="#b9b5a3"/><stop offset="0.657" stop-color="#9fb6a6"/><stop offset="0.691" stop-color="#7fb1a5"/><stop offset="0.726" stop-color="#5daaa4"/><stop offset="0.758" stop-color="#43a6a0"/><stop offset="0.790" stop-color="#1d9e9c"/><stop offset="0.839" stop-color="#139397"/><stop offset="0.887" stop-color="#128893"/><stop offset="0.943" stop-color="#107c91"/><stop offset="1.000" stop-color="#0e6e8c"/></linearGradient><linearGradient id="g133"><stop offset="0.000" stop-color="#229f9c"/><stop offset="0.067" stop-color="#2aa19d"/><stop offset="0.107" stop-color="#58a9a3"/><stop offset="0.146" stop-color="#7fb1a5"/><stop offset="0.191" stop-color="#a1b7a6"/><stop offset="0.232" stop-color="#b9b5a3"/><stop offset="0.273" stop-color="#c0b1a1"/><stop offset="0.362" stop-color="#c0b09f"/><stop offset="0.529" stop-color="#c0b09f"/><stop offset="0.603" stop-color="#c0b1a1"/><stop offset="0.627" stop-color="#b9b5a3"/><stop offset="0.651" stop-color="#a0b6a6"/><stop offset="0.686" stop-color="#81b1a5"/><stop offset="0.721" stop-color="#60aaa4"/><stop offset="0.754" stop-color="#47a6a0"/><stop offset="0.786" stop-color="#209f9c"/><stop offset="0.835" stop-color="#139497"/><stop offset="0.884" stop-color="#128893"/><stop offset="0.942" stop-color="#107c91"/><stop offset="1.000" stop-color="#0d6e8c"/></linearGradient><linearGradient id="g134"><stop offset="0.000" stop-color="#23a09c"/><stop offset="0.067" stop-color="#2ca19d"/><stop offset="0.107" stop-color="#59a9a3"/><stop offset="0.146" stop-color="#80b1a5"/><stop offset="0.191" stop-color="#a1b7a6"/><stop offset="0.232" stop-color="#b9b5a3"/><stop offset="0.274" stop-color="#c0b1a1"/><stop offset="0.363" stop-color="#c0b09f"/><stop offset="0.524" stop-color="#c0b09f"/><stop offset="0.598" stop-color="#c0b1a1"/><stop offset="0.622" stop-color="#b9b5a3"/><stop offset="0.646" stop-color="#a2b7a6"/><stop offset="0.681" stop-color="#83b1a5"/><stop offset="0.716" stop-color="#64aba4"/><stop offset="0.749" stop-color="#49a7a1"/><stop offset="0.783" stop-color="#239f9c"/><stop offset="0.832" stop-color="#139498"/><stop offset="0.882" stop-color="#128893"/><stop offset="0.941" stop-color="#107c91"/><stop offset="1.000" stop-color="#0d6d8c"/></linearGradient><linearGradient id="g135"><stop offset="0.000" stop-color="#25a09d"/><stop offset="0.067" stop-color="#2da29d"/><stop offset="0.107" stop-color="#5aa9a3"/><stop offset="0.146" stop-color="#81b1a5"/><stop offset="0.190" stop-color="#a1b7a6"/><stop offset="0.232" stop-color="#b9b5a3"/><stop offset="0.274" stop-color="#c0b1a1"/><stop offset="0.364" stop-color="#c0b09f"/><stop offset="0.519" stop-color="#c0b09f"/><stop offset="0.593" stop-color="#c0b1a1"/><stop offset="0.617" stop-color="#bab4a3"/><stop offset="0.641" stop-color="#a3b7a6"/><stop offset="0.676" stop-color="#85b2a5"/><stop offset="0.711" stop-color="#67aca4"/><stop offset="0.745" stop-color="#4ca7a1"/><stop offset="0.779" stop-color="#26a09d"/><stop offset="0.829" stop-color="#139598"/><stop offset="0.880" stop-color="#128993"/><stop offset="0.940" stop-color="#107c91"/><stop offset="1.000" stop-color="#0d6c8c"/></linearGradient><linearGradient id="g136"><stop offset="0.000" stop-color="#26a09d"/><stop offset="0.067" stop-color="#2fa29e"/><stop offset="0.107" stop-color="#5ba9a3"/><stop offset="0.146" stop-color="#81b1a5"/><stop offset="0.190" stop-color="#a0b6a6"/><stop offset="0.232" stop-color="#b9b5a3"/><stop offset="0.275" stop-color="#c0b1a1"/><stop offset="0.366" stop-color="#c0b09f"/><stop offset="0.515" stop-color="#c0b09f"/><stop offset="0.587" stop-color="#c0b1a1"/><stop offset="0.611" stop-color="#bab4a3"/><stop offset="0.635" stop-color="#a4b7a6"/><stop offset="0.671" stop-color="#87b2a5"/><stop offset="0.707" stop-color="#6aaca4"/><stop offset="0.741" stop-color="#4fa7a1"/><stop offset="0.775" stop-color="#29a19d"/><stop offset="0.826" stop-color="#139698"/><stop offset="0.877" stop-color="#128993"/><stop offset="0.939" stop-color="#107c91"/><stop offset="1.000" stop-color="#0d6c8c"/></linearGradient><linearGradient id="g137"><stop offset="0.000" stop-color="#28a19d"/><stop offset="0.067" stop-color="#31a29e"/><stop offset="0.107" stop-color="#5caaa4"/><stop offset="0.146" stop-color="#82b1a5"/><stop offset="0.189" stop-color="#a0b6a6"/><stop offset="0.232" stop-color="#b9b5a3"/><stop offset="0.276" stop-color="#c0b1a1"/><stop offset="0.367" stop-color="#c0b09f"/><stop offset="0.510" stop-color="#c0b09f"/><stop offset="0.582" stop-color="#c0b1a1"/><stop offset="0.606" stop-color="#bab4a3"/><stop offset="0.630" stop-color="#a5b7a6"/><stop offset="0.666" stop-color="#89b2a6"/><stop offset="0.702" stop-color="#6dada5"/><stop offset="0.736" stop-color="#51a8a2"/><stop offset="0.771" stop-color="#2ca19d"/><stop offset="0.823" stop-color="#139698"/><stop offset="0.875" stop-color="#128993"/><stop offset="0.937" stop-color="#107c91"/><stop offset="1.000" stop-color="#0d6b8b"/></linearGradient><linearGradient id="g138"><stop offset="0.000" stop-color="#29a19d"/><stop offset="0.067" stop-color="#33a39e"/><stop offset="0.107" stop-color="#5daaa4"/><stop offset="0.146" stop-color="#83b1a5"/><stop offset="0.188" stop-color="#a0b6a6"/><stop offset="0.232" stop-color="#b9b5a3"/><stop offset="0.276" stop-color="#c0b1a1"/><stop offset="0.368" stop-color="#c0b09f"/><stop offset="0.505" stop-color="#c0b09f"/><stop offset="0.576" stop-color="#c0b1a1"/><stop offset="0.600" stop-color="#bbb4a3"/><stop offset="0.624" stop-color="#a6b8a6"/><stop offset="0.661" stop-color="#8bb3a6"/><stop offset="0.697" stop-color="#71aea5"/><stop offset="0.732" stop-color="#54a8a2"/><stop offset="0.767" stop-color="#30a29e"/><stop offset="0.820" stop-color="#139799"/><stop offset="0.872" stop-color="#128993"/><stop offset="0.936" stop-color="#107c91"/><stop offset="1.000" stop-color="#0d6b8b"/></linearGradient><linearGradient id="g139"><stop offset="0.000" stop-color="#2ba19d"/><stop offset="0.067" stop-color="#35a39e"/><stop offset="0.107" stop-color="#5eaaa4"/><stop offset="0.146" stop-color="#84b1a5"/><stop offset="0.188" stop-color="#a0b6a6"/><stop offset="0.232" stop-color="#b9b5a3"/><stop offset="0.277" stop-color="#c0b1a1"/><stop offset="0.369" stop-color="#c0b09f"/><stop offset="0.500" stop-color="#c0b09f"/><stop offset="0.571" stop-color="#c0b1a1"/><stop offset="0.595" stop-color="#bbb4a3"/><stop offset="0.619" stop-color="#a7b8a6"/><stop offset="0.656" stop-color="#8db3a6"/><stop offset="0.692" stop-color="#74afa5"/><stop offset="0.728" stop-color="#57a9a3"/><stop offset="0.763" stop-color="#34a39e"/><stop offset="0.817" stop-color="#139799"/><stop offset="0.870" stop-color="#128a93"/><stop offset="0.935" stop-color="#107c91"/><stop offset="1.000" stop-color="#0d6a8b"/></linearGradient><linearGradient id="g140"><stop offset="0.000" stop-color="#2da29d"/><stop offset="0.067" stop-color="#36a39e"/><stop offset="0.107" stop-color="#60aaa4"/><stop offset="0.146" stop-color="#85b2a5"/><stop offset="0.187" stop-color="#a0b6a6"/><stop offset="0.232" stop-color="#b9b5a3"/><stop offset="0.277" stop-color="#c0b1a1"/><stop offset="0.370" stop-color="#c0b09f"/><stop offset="0.495" stop-color="#c0b09f"/><stop offset="0.566" stop-color="#c0b1a1"/><stop offset="0.590" stop-color="#bbb4a2"/><stop offset="0.614" stop-color="#a8b8a6"/><stop offset="0.650" stop-color="#8fb3a6"/><stop offset="0.687" stop-color="#77afa5"/><stop offset="0.723" stop-color="#59a9a3"/><stop offset="0.760" stop-color="#37a39e"/><stop offset="0.814" stop-color="#149899"/><stop offset="0.868" stop-color="#128a93"/><stop offset="0.934" stop-color="#107c91"/><stop offset="1.000" stop-color="#0d6a8b"/></linearGradient><linearGradient id="g141"><stop offset="0.000" stop-color="#2fa29e"/><stop offset="0.067" stop-color="#38a49f"/><stop offset="0.107" stop-color="#61aaa4"/><stop offset="0.146" stop-color="#86b2a5"/><stop offset="0.187" stop-color="#9fb6a6"/><stop offset="0.232" stop-color="#b9b5a3"/><stop offset="0.278" stop-color="#c0b1a1"/><stop offset="0.372" stop-color="#c0b09f"/><stop offset="0.491" stop-color="#c0b09f"/><stop offset="0.560" stop-color="#c0b1a1"/><stop offset="0.584" stop-color="#bcb4a2"/><stop offset="0.608" stop-color="#aab8a6"/><stop offset="0.645" stop-color="#91b4a6"/><stop offset="0.683" stop-color="#7bb0a5"/><stop offset="0.719" stop-color="#5caaa4"/><stop offset="0.756" stop-color="#3ba49f"/><stop offset="0.810" stop-color="#149999"/><stop offset="0.865" stop-color="#128a93"/><stop offset="0.933" stop-color="#107c91"/><stop offset="1.000" stop-color="#0d698a"/></linearGradient><linearGradient id="g142"><stop offset="0.000" stop-color="#30a29e"/><stop offset="0.067" stop-color="#3aa49f"/><stop offset="0.107" stop-color="#62aba4"/><stop offset="0.146" stop-color="#87b2a5"/><stop offset="0.186" stop-color="#9fb6a6"/><stop offset="0.232" stop-color="#b9b5a3"/><stop offset="0.279" stop-color="#c0b1a1"/><stop offset="0.373" stop-color="#c0b09f"/><stop offset="0.486" stop-color="#c0b09f"/><stop offset="0.555" stop-color="#c0b1a1"/><stop offset="0.579" stop-color="#bcb3a2"/><stop offset="0.603" stop-color="#abb8a6"/><stop offset="0.640" stop-color="#94b4a6"/><stop offset="0.678" stop-color="#7eb0a5"/><stop offset="0.715" stop-color="#5faaa4"/><stop offset="0.752" stop-color="#3fa59f"/><stop offset="0.807" stop-color="#14999a"/><stop offset="0.863" stop-color="#128b93"/><stop offset="0.931" stop-color="#107b91"/><stop offset="1.000" stop-color="#0d688a"/></linearGradient><linearGradient id="g143"><stop offset="0.000" stop-color="#32a39e"/><stop offset="0.067" stop-color="#3ca49f"/><stop offset="0.107" stop-color="#63aba4"/><stop offset="0.146" stop-color="#88b2a6"/><stop offset="0.185" stop-color="#9fb6a6"/><stop offset="0.232" stop-color="#b9b5a3"/><stop offset="0.279" stop-color="#c0b1a1"/><stop offset="0.374" stop-color="#c0b09f"/><stop offset="0.481" stop-color="#c0b09f"/><stop offset="0.549" stop-color="#c0b1a1"/><stop offset="0.573" stop-color="#bcb3a2"/><stop offset="0.597" stop-color="#acb7a5"/><stop offset="0.635" stop-color="#96b4a6"/><stop offset="0.673" stop-color="#81b1a5"/><stop offset="0.711" stop-color="#62aba4"/><stop offset="0.748" stop-color="#42a5a0"/><stop offset="0.804" stop-color="#149a9a"/><stop offset="0.861" stop-color="#128b93"/><stop offset="0.930" stop-color="#107b91"/><stop offset="1.000" stop-color="#0d688a"/></linearGradient><linearGradient id="g144"><stop offset="0.000" stop-color="#34a39e"/><stop offset="0.067" stop-color="#3ea59f"/><stop offset="0.107" stop-color="#64aba4"/><stop offset="0.146" stop-color="#89b2a6"/><stop offset="0.185" stop-color="#9fb6a6"/><stop offset="0.232" stop-color="#b9b5a3"/><stop offset="0.280" stop-color="#c0b1a1"/><stop offset="0.375" stop-color="#c0b09f"/><stop offset="0.476" stop-color="#c0b09f"/><stop offset="0.544" stop-color="#c0b1a1"/><stop offset="0.568" stop-color="#bdb3a2"/><stop offset="0.592" stop-color="#adb7a5"/><stop offset="0.668" stop-color="#84b1a5"/><stop offset="0.706" stop-color="#64aba4"/><stop offset="0.744" stop-color="#45a6a0"/><stop offset="0.801" stop-color="#149a9a"/><stop offset="0.858" stop-color="#128b94"/><stop offset="0.929" stop-color="#107b91"/><stop offset="1.000" stop-color="#0d678a"/></linearGradient><linearGradient id="g145"><stop offset="0.000" stop-color="#35a39e"/><stop offset="0.067" stop-color="#3fa59f"/><stop offset="0.107" stop-color="#65aba4"/><stop offset="0.146" stop-color="#89b2a6"/><stop offset="0.184" stop-color="#9fb6a6"/><stop offset="0.232" stop-color="#b9b5a3"/><stop offset="0.280" stop-color="#c0b1a1"/><stop offset="0.376" stop-color="#c0b09f"/><stop offset="0.473" stop-color="#c0b09f"/><stop offset="0.540" stop-color="#c0b1a1"/><stop offset="0.564" stop-color="#bdb3a2"/><stop offset="0.588" stop-color="#adb7a5"/><stop offset="0.665" stop-color="#86b2a5"/><stop offset="0.703" stop-color="#66aca4"/><stop offset="0.742" stop-color="#47a6a0"/><stop offset="0.799" stop-color="#149b9a"/><stop offset="0.856" stop-color="#128b94"/><stop offset="0.928" stop-color="#107b91"/><stop offset="1.000" stop-color="#0c678a"/></linearGradient><linearGradient id="g146" x1="0" x2="0" y1="0" y2="1"><stop offset="0.000" stop-color="#bfad9b"/><stop offset="0.017" stop-color="#bfad9b"/><stop offset="0.033" stop-color="#bfae9c"/><stop offset="0.050" stop-color="#bfae9c"/><stop offset="0.067" stop-color="#bfae9d"/><stop offset="0.083" stop-color="#bfaf9d"/><stop offset="0.100" stop-color="#bfaf9e"/><stop offset="0.117" stop-color="#c0af9e"/><stop offset="0.133" stop-color="#c0b09f"/><stop offset="0.150" stop-color="#c0b09f"/><stop offset="0.167" stop-color="#c0b0a0"/><stop offset="0.183" stop-color="#c0b0a0"/><stop offset="0.200" stop-color="#c0b1a1"/><stop offset="0.217" stop-color="#bfb2a1"/><stop offset="0.233" stop-color="#bdb3a2"/><stop offset="0.250" stop-color="#b8b5a4"/><stop offset="0.267" stop-color="#afb7a5"/><stop offset="0.283" stop-color="#a6b8a6"/><stop offset="0.300" stop-color="#9cb6a6"/><stop offset="0.317" stop-color="#91b4a6"/><stop offset="0.333" stop-color="#88b2a6"/><stop offset="0.350" stop-color="#7eb0a5"/><stop offset="0.367" stop-color="#74aea5"/><stop offset="0.383" stop-color="#69aca4"/><stop offset="0.400" stop-color="#5faaa4"/><stop offset="0.417" stop-color="#55a8a2"/><stop offset="0.433" stop-color="#4ba7a1"/><stop offset="0.450" stop-color="#3fa59f"/><stop offset="0.467" stop-color="#2fa29e"/><stop offset="0.483" stop-color="#219f9c"/><stop offset="0.500" stop-color="#149c9b"/><stop offset="0.517" stop-color="#149899"/><stop offset="0.533" stop-color="#139497"/><stop offset="0.550" stop-color="#139096"/><stop offset="0.567" stop-color="#128c94"/><stop offset="0.583" stop-color="#128893"/><stop offset="0.600" stop-color="#118492"/><stop offset="0.617" stop-color="#108191"/><stop offset="0.633" stop-color="#107d91"/><stop offset="0.650" stop-color="#0f7990"/><stop offset="0.667" stop-color="#0e748f"/><stop offset="0.683" stop-color="#0e6f8d"/><stop offset="0.700" stop-color="#0d6a8b"/><stop offset="0.717" stop-color="#0c6589"/><stop offset="0.733" stop-color="#0b6087"/><stop offset="0.750" stop-color="#0b5b85"/><stop offset="0.767" stop-color="#0c5882"/><stop offset="0.783" stop-color="#0c5480"/><stop offset="0.800" stop-color="#0d507d"/><stop offset="0.817" stop-color="#0d4d7b"/><stop offset="0.833" stop-color="#0e4a78"/><stop offset="0.850" stop-color="#104675"/><stop offset="0.867" stop-color="#114372"/><stop offset="0.883" stop-color="#12406f"/><stop offset="0.900" stop-color="#133d6c"/><stop offset="0.917" stop-color="#163a69"/><stop offset="0.933" stop-color="#183867"/><stop offset="0.950" stop-color="#1a3564"/><stop offset="0.967" stop-color="#1c3261"/><stop offset="0.983" stop-color="#1e2f5e"/><stop offset="1.000" stop-color="#1e2d5d"/></linearGradient></defs>
<g stroke="#d9d9d9" stroke-width="1" fill="none">
<polyline points="90.4,449.1 237.8,303.5 595.9,335.5" fill="none" stroke="#d9d9d9" stroke-width="1"/>
<polyline points="85,363.6 235.3,231.4 598.2,260" fill="none" stroke="#d9d9d9" stroke-width="1"/>
<polyline points="79.5,275.2 232.7,157.4 600.6,182.4" fill="none" stroke="#d9d9d9" stroke-width="1"/>
<polyline points="73.8,184 230.1,81.3 603.1,102.6" fill="none" stroke="#d9d9d9" stroke-width="1"/>
<polyline points="83.5,105.4 108.4,518.1 526.1,569.4" fill="none" stroke="#d9d9d9" stroke-width="1"/>
<polyline points="114.4,87.8 136.2,487.6 540.5,535.3" fill="none" stroke="#d9d9d9" stroke-width="1"/>
<polyline points="143,71.5 162.2,459.2 553.9,503.5" fill="none" stroke="#d9d9d9" stroke-width="1"/>
<polyline points="169.7,56.3 186.6,432.5 566.3,473.9" fill="none" stroke="#d9d9d9" stroke-width="1"/>
<polyline points="194.6,42 209.4,407.5 578,446.2" fill="none" stroke="#d9d9d9" stroke-width="1"/>
<polyline points="217.9,28.7 230.8,384.1 588.9,420.3" fill="none" stroke="#d9d9d9" stroke-width="1"/>
<polyline points="171.1,541.5 303.7,380.1 295.6,26.2" fill="none" stroke="#d9d9d9" stroke-width="1"/>
<polyline points="259.1,552.5 377.4,387.5 374.1,30" fill="none" stroke="#d9d9d9" stroke-width="1"/>
<polyline points="349.4,563.8 452.7,395 454.3,33.9" fill="none" stroke="#d9d9d9" stroke-width="1"/>
<polyline points="442,575.4 529.6,402.6 536.5,37.9" fill="none" stroke="#d9d9d9" stroke-width="1"/>
</g>
<polyline points="69.3,113.5 228.1,22.9 604.9,41.2 593.6,409" fill="none" stroke="#5e5650" stroke-width="1.3"/>
<polyline points="228.1,22.9 240.2,373.8" fill="none" stroke="#5e5650" stroke-width="1.3"/>
<polyline points="95.6,532 240.2,373.8 593.6,409" fill="none" stroke="#5e5650" stroke-width="1.3"/>
<polyline points="469,34.6 466.4,396.3" fill="none" stroke="#e8650f" stroke-width="2" stroke-dasharray="7,5"/>
<polyline points="365.9,565.9 466.4,396.3" fill="none" stroke="#e8650f" stroke-width="2" stroke-dasharray="7,5"/>
<polyline points="510,36.6 504.8,400.2" fill="none" stroke="#e8650f" stroke-width="2" stroke-dasharray="7,5"/>
<polyline points="412.1,571.7 504.8,400.2" fill="none" stroke="#e8650f" stroke-width="2" stroke-dasharray="7,5"/>
<g>
<polygon points="237,346 239,340 242,336 245,346 248,349 251,349 254,355 257,364 260,358 263,349 266,351 269,351 272,351 274,352 277,355 280,355 283,353 286,352 289,353 292,349 295,348 298,350 301,351 304,348 307,350 310,354 313,351 315,350 319,355 321,354 324,356 327,358 330,354 333,357 336,356 339,356 342,353 345,356 348,357 351,354 354,355 357,354 360,358 363,365 366,367 369,362 372,359 375,358 378,359 381,362 384,356 387,356 390,355 393,361 396,368 399,367 402,363 405,362 408,365 411,363 415,365 418,371 421,367 424,366 427,363 430,361 433,355 436,353 439,350 442,357 445,363 448,360 451,357 454,352 457,349 461,343 464,330 467,310 470,278 474,234 477,194 481,150 485,104 488,71 492,66 495,79 498,114 500,156 503,195 506,234 508,269 511,292 514,305 517,316 520,322 523,325 526,331 530,330 533,334 536,339 539,340 542,339 545,334 549,333 552,337 555,338 558,337 561,338 564,342 568,338 571,337 574,340 577,344 580,343 584,343 587,348 590,347 593,348 594,345 591,342 588,341 585,341 582,343 579,339 575,337 572,333 569,333 566,337 563,336 560,335 556,335 553,336 550,332 547,333 544,338 541,333 538,327 534,328 531,327 528,325 525,323 522,320 519,317 516,306 513,291 510,265 507,232 505,192 502,155 499,111 497,75 493,58 490,69 486,105 483,148 479,192 476,232 472,275 469,308 466,327 462,340 459,348 456,353 453,354 450,353 447,355 444,350 441,347 438,352 435,355 432,357 429,365 426,369 422,367 419,366 416,362 413,354 410,360 407,362 404,361 401,362 398,366 395,365 392,366 389,356 386,354 383,354 380,359 377,362 374,360 371,364 368,362 365,360 362,355 359,349 356,352 353,355 350,358 347,353 344,348 341,349 338,353 335,349 333,355 330,354 327,352 324,351 321,346 318,340 315,345 312,346 309,347 306,349 303,347 300,349 297,347 294,350 291,350 289,352 286,353 283,355 280,352 277,348 274,345 271,347 268,348 265,350 263,354 260,356 257,352 254,349 251,350 248,349 245,339 242,343 239,340" fill="url(#s1)" stroke="url(#s1)" stroke-width=".7"/>
<polygon points="233,353 236,352 239,349 242,351 245,353 248,357 251,359 254,365 257,362 260,357 262,355 265,354 268,357 271,356 274,359 277,358 280,359 283,352 286,353 289,353 292,355 295,354 298,354 301,354 303,352 306,352 309,354 312,350 315,354 318,356 321,360 324,360 327,357 330,357 333,363 336,361 339,356 342,358 345,360 348,359 351,361 354,351 357,357 360,369 363,371 366,363 369,362 372,363 375,360 378,359 381,361 384,359 387,361 391,367 394,373 397,369 400,364 403,362 406,366 409,367 412,372 415,375 418,375 421,377 424,368 427,363 430,360 433,358 436,358 440,363 443,368 446,365 449,362 452,358 455,352 458,345 461,330 465,310 468,281 471,241 475,197 479,153 482,102 486,69 489,65 492,81 495,115 498,156 501,200 503,239 506,269 509,294 512,311 515,320 518,328 521,336 524,338 528,337 531,339 534,345 537,345 540,344 543,341 547,339 550,341 553,340 556,343 559,343 562,349 566,349 569,349 572,349 575,348 579,345 582,346 585,349 588,353 591,352 593,348 590,347 587,348 584,343 580,343 577,344 574,340 571,337 568,338 564,342 561,338 558,337 555,338 552,337 549,333 545,334 542,339 539,340 536,339 533,334 530,330 526,331 523,325 520,322 517,316 514,305 511,292 508,269 506,234 503,195 500,156 498,114 495,79 492,66 488,71 485,104 481,150 477,194 474,234 470,278 467,310 464,330 461,343 457,349 454,352 451,357 448,360 445,363 442,357 439,350 436,353 433,355 430,361 427,363 424,366 421,367 418,371 415,365 411,363 408,365 405,362 402,363 399,367 396,368 393,361 390,355 387,356 384,356 381,362 378,359 375,358 372,359 369,362 366,367 363,365 360,358 357,354 354,355 351,354 348,357 345,356 342,353 339,356 336,356 333,357 330,354 327,358 324,356 321,354 319,355 315,350 313,351 310,354 307,350 304,348 301,351 298,350 295,348 292,349 289,353 286,352 283,353 280,355 277,355 274,352 272,351 269,351 266,351 263,349 260,358 257,364 254,355 251,349 248,349 245,346 242,336 239,340 237,346" fill="url(#s2)" stroke="url(#s2)" stroke-width=".7"/>
<polygon points="230,358 233,357 236,357 239,358 242,359 244,355 247,355 250,358 253,360 256,360 259,357 262,355 265,357 268,360 271,361 274,359 277,362 280,361 283,356 285,354 289,359 291,356 294,357 297,356 300,357 303,363 306,359 309,353 312,358 315,361 318,362 321,366 324,361 327,363 330,365 333,366 336,360 339,362 342,359 345,366 348,363 351,361 354,359 357,366 360,369 363,367 367,371 370,369 373,361 376,362 379,358 382,366 385,371 388,374 391,377 394,375 397,371 400,365 403,369 406,366 409,374 412,378 415,378 418,370 422,368 425,367 428,365 431,361 434,365 437,364 440,365 443,366 446,365 449,360 453,357 456,349 459,333 462,312 466,284 469,245 473,200 476,154 480,107 484,72 487,68 490,84 493,114 496,160 498,208 501,244 504,267 507,296 510,314 513,323 516,330 519,342 522,344 525,341 529,344 532,348 535,350 538,350 541,345 545,343 548,344 551,348 554,348 557,351 561,350 564,350 567,352 570,352 574,352 577,349 580,350 583,353 586,355 590,361 591,352 588,353 585,349 582,346 579,345 575,348 572,349 569,349 566,349 562,349 559,343 556,343 553,340 550,341 547,339 543,341 540,344 537,345 534,345 531,339 528,337 524,338 521,336 518,328 515,320 512,311 509,294 506,269 503,239 501,200 498,156 495,115 492,81 489,65 486,69 482,102 479,153 475,197 471,241 468,281 465,310 461,330 458,345 455,352 452,358 449,362 446,365 443,368 440,363 436,358 433,358 430,360 427,363 424,368 421,377 418,375 415,375 412,372 409,367 406,366 403,362 400,364 397,369 394,373 391,367 387,361 384,359 381,361 378,359 375,360 372,363 369,362 366,363 363,371 360,369 357,357 354,351 351,361 348,359 345,360 342,358 339,356 336,361 333,363 330,357 327,357 324,360 321,360 318,356 315,354 312,350 309,354 306,352 303,352 301,354 298,354 295,354 292,355 289,353 286,353 283,352 280,359 277,358 274,359 271,356 268,357 265,354 262,355 260,357 257,362 254,365 251,359 248,357 245,353 242,351 239,349 236,352 233,353" fill="url(#s3)" stroke="url(#s3)" stroke-width=".7"/>
<polygon points="227,367 229,360 232,358 235,368 238,371 241,358 244,355 247,362 250,365 253,366 256,363 259,364 262,363 265,362 268,363 271,365 274,369 276,363 279,358 282,359 285,364 288,357 291,358 294,358 297,362 300,361 303,362 306,356 309,364 312,373 315,374 318,370 321,365 324,364 327,374 330,370 333,364 336,360 339,357 342,369 345,373 348,359 351,363 355,374 358,374 361,373 364,370 367,367 370,366 373,366 376,368 379,371 382,376 385,381 388,389 391,376 394,366 397,367 400,372 404,381 407,382 410,378 413,378 416,376 419,370 422,372 425,368 428,368 431,366 434,368 438,369 441,366 444,368 447,363 450,357 453,349 457,335 460,315 463,286 467,246 470,203 474,156 477,109 481,74 484,72 488,90 491,123 493,163 496,206 499,245 502,276 505,297 508,315 511,325 514,333 517,340 520,343 523,344 527,346 530,350 533,353 536,357 539,350 543,348 546,349 549,353 552,355 555,355 559,357 562,356 565,355 568,355 572,355 575,356 578,358 581,358 585,362 588,363 590,361 586,355 583,353 580,350 577,349 574,352 570,352 567,352 564,350 561,350 557,351 554,348 551,348 548,344 545,343 541,345 538,350 535,350 532,348 529,344 525,341 522,344 519,342 516,330 513,323 510,314 507,296 504,267 501,244 498,208 496,160 493,114 490,84 487,68 484,72 480,107 476,154 473,200 469,245 466,284 462,312 459,333 456,349 453,357 449,360 446,365 443,366 440,365 437,364 434,365 431,361 428,365 425,367 422,368 418,370 415,378 412,378 409,374 406,366 403,369 400,365 397,371 394,375 391,377 388,374 385,371 382,366 379,358 376,362 373,361 370,369 367,371 363,367 360,369 357,366 354,359 351,361 348,363 345,366 342,359 339,362 336,360 333,366 330,365 327,363 324,361 321,366 318,362 315,361 312,358 309,353 306,359 303,363 300,357 297,356 294,357 291,356 289,359 285,354 283,356 280,361 277,362 274,359 271,361 268,360 265,357 262,355 259,357 256,360 253,360 250,358 247,355 244,355 242,359 239,358 236,357 233,357 230,358" fill="url(#s4)" stroke="url(#s4)" stroke-width=".7"/>
<polygon points="223,375 226,372 229,365 232,367 235,365 237,364 240,363 243,364 246,361 249,365 252,366 255,368 258,365 261,366 264,365 267,365 270,375 273,368 276,363 279,361 282,367 285,365 288,363 291,368 294,367 297,365 300,366 303,362 306,367 309,373 312,374 315,373 318,371 321,372 324,372 327,371 330,369 333,371 336,376 339,377 343,379 345,366 348,364 352,369 355,370 358,371 361,372 364,372 367,367 370,369 373,373 376,374 379,378 382,381 385,382 388,378 391,367 395,375 398,380 401,384 404,384 407,378 410,382 413,380 416,377 419,374 423,373 426,370 429,372 432,377 435,374 438,371 441,365 444,365 448,363 451,352 454,339 457,318 461,288 464,246 468,206 471,161 475,116 479,85 482,78 485,93 488,122 491,164 494,212 497,248 500,278 502,304 505,320 509,330 512,337 515,343 518,346 521,345 524,350 528,354 531,357 534,359 537,354 541,352 544,358 547,359 550,359 553,360 557,361 560,358 563,358 567,358 570,360 573,359 576,358 580,360 583,366 586,370 588,363 585,362 581,358 578,358 575,356 572,355 568,355 565,355 562,356 559,357 555,355 552,355 549,353 546,349 543,348 539,350 536,357 533,353 530,350 527,346 523,344 520,343 517,340 514,333 511,325 508,315 505,297 502,276 499,245 496,206 493,163 491,123 488,90 484,72 481,74 477,109 474,156 470,203 467,246 463,286 460,315 457,335 453,349 450,357 447,363 444,368 441,366 438,369 434,368 431,366 428,368 425,368 422,372 419,370 416,376 413,378 410,378 407,382 404,381 400,372 397,367 394,366 391,376 388,389 385,381 382,376 379,371 376,368 373,366 370,366 367,367 364,370 361,373 358,374 355,374 351,363 348,359 345,373 342,369 339,357 336,360 333,364 330,370 327,374 324,364 321,365 318,370 315,374 312,373 309,364 306,356 303,362 300,361 297,362 294,358 291,358 288,357 285,364 282,359 279,358 276,363 274,369 271,365 268,363 265,362 262,363 259,364 256,363 253,366 250,365 247,362 244,355 241,358 238,371 235,368 232,358 229,360 227,367" fill="url(#s5)" stroke="url(#s5)" stroke-width=".7"/>
<polygon points="219,374 222,375 225,372 228,371 231,371 234,370 237,368 240,373 243,372 246,369 249,364 252,369 255,368 258,368 261,368 264,371 267,372 270,370 273,368 276,373 279,376 282,367 285,367 288,370 291,375 294,374 297,368 300,367 303,369 306,377 309,378 312,375 315,370 318,373 321,375 324,373 327,373 330,372 333,372 336,380 339,381 342,375 345,373 349,375 352,378 355,375 358,376 361,377 364,375 367,372 370,379 373,381 376,383 379,386 383,389 386,383 389,381 392,385 395,386 398,387 401,387 404,384 407,386 411,387 414,381 417,379 420,373 423,372 426,376 429,379 432,383 436,375 439,371 442,370 445,365 448,356 452,343 455,321 458,291 462,250 465,205 469,158 473,115 476,85 480,77 483,94 486,126 489,168 491,215 494,254 497,282 500,306 503,322 506,331 509,339 513,349 516,352 519,349 522,355 525,360 529,362 532,361 535,352 539,349 542,360 545,364 548,364 551,365 555,368 558,364 561,360 565,361 568,363 571,362 575,361 578,365 581,370 584,373 586,370 583,366 580,360 576,358 573,359 570,360 567,358 563,358 560,358 557,361 553,360 550,359 547,359 544,358 541,352 537,354 534,359 531,357 528,354 524,350 521,345 518,346 515,343 512,337 509,330 505,320 502,304 500,278 497,248 494,212 491,164 488,122 485,93 482,78 479,85 475,116 471,161 468,206 464,246 461,288 457,318 454,339 451,352 448,363 444,365 441,365 438,371 435,374 432,377 429,372 426,370 423,373 419,374 416,377 413,380 410,382 407,378 404,384 401,384 398,380 395,375 391,367 388,378 385,382 382,381 379,378 376,374 373,373 370,369 367,367 364,372 361,372 358,371 355,370 352,369 348,364 345,366 343,379 339,377 336,376 333,371 330,369 327,371 324,372 321,372 318,371 315,373 312,374 309,373 306,367 303,362 300,366 297,365 294,367 291,368 288,363 285,365 282,367 279,361 276,363 273,368 270,375 267,365 264,365 261,366 258,365 255,368 252,366 249,365 246,361 243,364 240,363 237,364 235,365 232,367 229,365 226,372 223,375" fill="url(#s6)" stroke="url(#s6)" stroke-width=".7"/>
<polygon points="216,372 219,375 222,377 225,376 228,377 230,373 233,373 237,380 240,377 242,370 245,371 248,373 251,372 254,369 257,375 260,372 263,373 266,372 269,366 272,370 275,374 278,369 281,368 284,373 287,371 290,364 293,370 297,374 300,376 303,376 306,373 309,375 312,373 315,373 318,377 321,380 324,380 327,377 330,374 333,386 336,387 339,379 342,377 345,375 349,378 352,382 355,379 358,380 361,377 364,377 367,385 370,384 373,380 377,387 380,396 383,386 386,380 389,374 392,384 395,393 398,389 402,384 405,388 408,393 411,393 414,389 417,384 420,380 424,381 427,382 430,378 433,375 436,373 439,370 443,369 446,361 449,347 452,328 456,299 459,258 463,213 466,163 470,121 474,90 477,80 480,94 483,123 486,168 489,213 492,252 495,283 498,305 501,322 504,335 507,344 510,353 514,357 517,355 520,358 523,362 527,363 530,363 533,359 536,358 540,367 543,369 546,370 549,370 553,371 556,369 559,369 563,368 566,368 569,365 573,366 576,371 579,374 582,377 584,373 581,370 578,365 575,361 571,362 568,363 565,361 561,360 558,364 555,368 551,365 548,364 545,364 542,360 539,349 535,352 532,361 529,362 525,360 522,355 519,349 516,352 513,349 509,339 506,331 503,322 500,306 497,282 494,254 491,215 489,168 486,126 483,94 480,77 476,85 473,115 469,158 465,205 462,250 458,291 455,321 452,343 448,356 445,365 442,370 439,371 436,375 432,383 429,379 426,376 423,372 420,373 417,379 414,381 411,387 407,386 404,384 401,387 398,387 395,386 392,385 389,381 386,383 383,389 379,386 376,383 373,381 370,379 367,372 364,375 361,377 358,376 355,375 352,378 349,375 345,373 342,375 339,381 336,380 333,372 330,372 327,373 324,373 321,375 318,373 315,370 312,375 309,378 306,377 303,369 300,367 297,368 294,374 291,375 288,370 285,367 282,367 279,376 276,373 273,368 270,370 267,372 264,371 261,368 258,368 255,368 252,369 249,364 246,369 243,372 240,373 237,368 234,370 231,371 228,371 225,372 222,375 219,374" fill="url(#s7)" stroke="url(#s7)" stroke-width=".7"/>
<polygon points="212,384 215,380 218,377 221,378 224,381 227,379 230,378 233,378 236,374 239,370 242,378 245,377 248,379 251,378 254,371 257,373 260,367 263,372 266,375 269,383 272,378 275,374 278,369 281,375 284,376 287,373 290,372 293,375 296,379 299,381 302,380 306,382 308,375 312,376 315,383 318,382 321,384 324,384 327,385 330,388 333,388 336,381 339,379 342,381 346,381 349,387 352,381 355,382 358,385 361,388 364,388 367,389 370,383 374,388 377,395 380,387 383,381 386,383 389,385 392,387 396,389 399,388 402,390 405,399 408,396 411,393 415,392 418,390 421,389 424,389 427,383 430,377 434,378 437,376 440,372 443,369 446,353 450,332 453,303 457,264 460,220 464,170 467,133 471,102 475,83 478,88 481,119 484,160 487,205 490,242 493,272 496,301 499,323 502,337 505,346 508,359 511,360 515,356 518,361 521,369 524,366 528,365 531,365 534,367 537,372 541,372 544,370 547,371 551,372 554,370 557,367 561,368 564,370 567,369 571,370 574,375 577,374 581,374 582,377 579,374 576,371 573,366 569,365 566,368 563,368 559,369 556,369 553,371 549,370 546,370 543,369 540,367 536,358 533,359 530,363 527,363 523,362 520,358 517,355 514,357 510,353 507,344 504,335 501,322 498,305 495,283 492,252 489,213 486,168 483,123 480,94 477,80 474,90 470,121 466,163 463,213 459,258 456,299 452,328 449,347 446,361 443,369 439,370 436,373 433,375 430,378 427,382 424,381 420,380 417,384 414,389 411,393 408,393 405,388 402,384 398,389 395,393 392,384 389,374 386,380 383,386 380,396 377,387 373,380 370,384 367,385 364,377 361,377 358,380 355,379 352,382 349,378 345,375 342,377 339,379 336,387 333,386 330,374 327,377 324,380 321,380 318,377 315,373 312,373 309,375 306,373 303,376 300,376 297,374 293,370 290,364 287,371 284,373 281,368 278,369 275,374 272,370 269,366 266,372 263,373 260,372 257,375 254,369 251,372 248,373 245,371 242,370 240,377 237,380 233,373 230,373 228,377 225,376 222,377 219,375 216,372" fill="url(#s8)" stroke="url(#s8)" stroke-width=".7"/>
<polygon points="208,382 211,382 214,379 217,380 220,382 223,380 226,378 229,378 232,375 235,375 238,378 241,382 244,379 247,377 250,375 253,368 256,367 259,373 262,378 265,378 269,380 271,374 275,376 278,382 281,384 284,382 287,385 290,385 293,383 296,379 299,383 302,382 305,379 308,382 312,389 315,384 318,381 321,384 324,388 327,385 330,384 333,376 336,379 339,385 343,385 346,389 349,388 352,383 355,389 358,389 361,389 364,393 368,397 371,395 374,398 377,391 380,384 383,391 386,388 390,389 393,391 396,393 399,396 402,397 405,402 409,400 412,398 415,396 418,392 421,391 425,387 428,380 431,384 434,380 437,375 441,373 444,358 447,337 451,308 454,271 458,226 461,176 465,139 468,111 472,88 475,93 478,119 482,156 484,203 487,241 490,276 493,302 496,322 500,336 503,352 506,364 509,366 512,365 516,372 519,375 522,370 526,367 529,369 532,373 535,379 539,378 542,374 545,378 548,384 552,378 555,372 559,371 562,370 565,372 569,374 572,375 575,376 579,375 581,374 577,374 574,375 571,370 567,369 564,370 561,368 557,367 554,370 551,372 547,371 544,370 541,372 537,372 534,367 531,365 528,365 524,366 521,369 518,361 515,356 511,360 508,359 505,346 502,337 499,323 496,301 493,272 490,242 487,205 484,160 481,119 478,88 475,83 471,102 467,133 464,170 460,220 457,264 453,303 450,332 446,353 443,369 440,372 437,376 434,378 430,377 427,383 424,389 421,389 418,390 415,392 411,393 408,396 405,399 402,390 399,388 396,389 392,387 389,385 386,383 383,381 380,387 377,395 374,388 370,383 367,389 364,388 361,388 358,385 355,382 352,381 349,387 346,381 342,381 339,379 336,381 333,388 330,388 327,385 324,384 321,384 318,382 315,383 312,376 308,375 306,382 302,380 299,381 296,379 293,375 290,372 287,373 284,376 281,375 278,369 275,374 272,378 269,383 266,375 263,372 260,367 257,373 254,371 251,378 248,379 245,377 242,378 239,370 236,374 233,378 230,378 227,379 224,381 221,378 218,377 215,380 212,384" fill="url(#s9)" stroke="url(#s9)" stroke-width=".7"/>
<polygon points="204,382 208,386 211,383 214,385 217,385 220,385 223,385 226,385 229,383 231,378 234,377 238,381 241,381 244,379 247,376 250,375 253,377 256,376 259,384 262,381 265,384 268,378 271,376 274,378 277,383 280,387 284,389 287,386 290,388 293,388 296,389 299,387 302,380 305,380 308,380 311,384 314,389 318,387 321,388 324,390 327,392 330,380 333,380 336,387 339,390 343,392 346,393 349,395 352,393 355,395 358,400 362,405 365,406 368,405 371,410 374,401 377,391 380,393 384,393 387,391 390,394 393,403 396,404 399,399 403,399 406,405 409,397 412,398 415,397 419,393 422,392 425,389 428,389 432,384 435,378 438,375 441,360 445,337 448,308 451,274 455,226 459,179 462,143 466,115 469,94 473,98 476,124 479,163 482,206 485,248 488,282 491,310 494,329 497,347 500,357 504,367 507,370 510,370 513,374 517,380 520,377 523,375 527,374 530,376 533,380 537,381 540,377 543,382 546,387 550,377 553,373 557,380 560,381 563,383 567,383 570,382 573,381 577,380 579,375 575,376 572,375 569,374 565,372 562,370 559,371 555,372 552,378 548,384 545,378 542,374 539,378 535,379 532,373 529,369 526,367 522,370 519,375 516,372 512,365 509,366 506,364 503,352 500,336 496,322 493,302 490,276 487,241 484,203 482,156 478,119 475,93 472,88 468,111 465,139 461,176 458,226 454,271 451,308 447,337 444,358 441,373 437,375 434,380 431,384 428,380 425,387 421,391 418,392 415,396 412,398 409,400 405,402 402,397 399,396 396,393 393,391 390,389 386,388 383,391 380,384 377,391 374,398 371,395 368,397 364,393 361,389 358,389 355,389 352,383 349,388 346,389 343,385 339,385 336,379 333,376 330,384 327,385 324,388 321,384 318,381 315,384 312,389 308,382 305,379 302,382 299,383 296,379 293,383 290,385 287,385 284,382 281,384 278,382 275,376 271,374 269,380 265,378 262,378 259,373 256,367 253,368 250,375 247,377 244,379 241,382 238,378 235,375 232,375 229,378 226,378 223,380 220,382 217,380 214,379 211,382 208,382" fill="url(#s10)" stroke="url(#s10)" stroke-width=".7"/>
<polygon points="201,389 204,388 207,388 210,389 213,389 216,393 219,394 222,395 225,387 228,383 231,386 234,387 237,385 240,382 243,375 246,377 249,376 252,381 255,381 258,383 262,386 264,377 267,378 271,382 274,387 277,393 280,390 283,394 286,392 289,391 293,395 296,393 299,392 302,388 305,383 308,387 311,392 314,391 317,393 321,398 324,392 327,385 330,387 333,393 336,395 340,398 343,392 346,395 349,398 352,399 355,405 359,408 362,408 365,406 368,404 371,400 374,401 377,397 381,399 384,393 387,395 390,400 393,403 397,404 400,408 403,409 406,403 409,400 413,395 416,394 419,391 422,393 426,392 429,388 432,382 435,374 439,363 442,338 445,309 449,273 452,228 456,176 460,143 463,117 467,97 470,100 473,129 476,166 480,208 482,251 485,293 489,317 492,336 495,348 498,360 501,370 504,375 508,376 511,378 514,382 518,381 521,379 524,381 528,381 531,383 534,385 538,384 541,384 544,385 548,382 551,382 555,384 558,387 561,388 565,387 568,389 571,389 575,390 577,380 573,381 570,382 567,383 563,383 560,381 557,380 553,373 550,377 546,387 543,382 540,377 537,381 533,380 530,376 527,374 523,375 520,377 517,380 513,374 510,370 507,370 504,367 500,357 497,347 494,329 491,310 488,282 485,248 482,206 479,163 476,124 473,98 469,94 466,115 462,143 459,179 455,226 451,274 448,308 445,337 441,360 438,375 435,378 432,384 428,389 425,389 422,392 419,393 415,397 412,398 409,397 406,405 403,399 399,399 396,404 393,403 390,394 387,391 384,393 380,393 377,391 374,401 371,410 368,405 365,406 362,405 358,400 355,395 352,393 349,395 346,393 343,392 339,390 336,387 333,380 330,380 327,392 324,390 321,388 318,387 314,389 311,384 308,380 305,380 302,380 299,387 296,389 293,388 290,388 287,386 284,389 280,387 277,383 274,378 271,376 268,378 265,384 262,381 259,384 256,376 253,377 250,375 247,376 244,379 241,381 238,381 234,377 231,378 229,383 226,385 223,385 220,385 217,385 214,385 211,383 208,386 204,382" fill="url(#s11)" stroke="url(#s11)" stroke-width=".7"/>
<polygon points="197,398 200,393 203,392 206,396 209,394 212,394 215,395 218,390 221,387 224,383 227,391 231,397 234,395 236,390 239,380 242,385 246,391 249,388 252,387 255,389 258,389 261,384 264,386 267,387 270,391 274,395 277,399 280,395 283,395 286,393 289,398 292,396 295,397 298,392 302,394 305,396 308,396 311,397 314,394 317,395 321,398 324,397 327,395 330,394 333,399 336,402 340,404 343,403 346,403 349,403 352,409 355,409 359,409 362,409 365,408 368,401 371,400 375,402 378,401 381,399 384,401 387,401 391,406 394,409 397,411 400,411 403,409 407,405 410,397 413,392 416,397 420,394 423,396 426,390 429,382 433,375 436,363 439,339 443,312 446,274 450,226 453,176 457,140 461,113 464,92 468,100 471,129 474,167 477,214 480,258 483,299 486,320 489,338 492,353 496,364 499,373 502,379 505,381 509,384 512,390 515,386 519,384 522,384 526,384 529,388 532,389 536,391 539,395 542,395 546,390 549,387 553,388 556,391 559,395 563,396 566,391 569,395 573,398 575,390 571,389 568,389 565,387 561,388 558,387 555,384 551,382 548,382 544,385 541,384 538,384 534,385 531,383 528,381 524,381 521,379 518,381 514,382 511,378 508,376 504,375 501,370 498,360 495,348 492,336 489,317 485,293 482,251 480,208 476,166 473,129 470,100 467,97 463,117 460,143 456,176 452,228 449,273 445,309 442,338 439,363 435,374 432,382 429,388 426,392 422,393 419,391 416,394 413,395 409,400 406,403 403,409 400,408 397,404 393,403 390,400 387,395 384,393 381,399 377,397 374,401 371,400 368,404 365,406 362,408 359,408 355,405 352,399 349,398 346,395 343,392 340,398 336,395 333,393 330,387 327,385 324,392 321,398 317,393 314,391 311,392 308,387 305,383 302,388 299,392 296,393 293,395 289,391 286,392 283,394 280,390 277,393 274,387 271,382 267,378 264,377 262,386 258,383 255,381 252,381 249,376 246,377 243,375 240,382 237,385 234,387 231,386 228,383 225,387 222,395 219,394 216,393 213,389 210,389 207,388 204,388 201,389" fill="url(#s12)" stroke="url(#s12)" stroke-width=".7"/>
<polygon points="193,397 196,398 199,397 202,395 205,397 209,400 212,400 214,393 217,388 220,386 224,393 227,401 230,399 233,397 236,391 239,393 242,395 245,395 248,399 251,394 254,393 257,391 260,387 264,393 267,394 270,400 273,398 276,391 279,394 282,395 286,395 289,398 292,397 295,400 298,399 301,399 305,404 308,401 311,399 314,403 317,405 320,399 324,402 327,400 330,407 333,410 336,410 340,409 343,402 346,403 349,414 352,417 356,409 359,409 362,407 365,400 368,398 372,403 375,409 378,410 381,408 384,406 388,409 391,414 394,413 397,414 401,415 404,408 407,398 410,394 414,398 417,396 420,394 423,393 427,389 430,379 433,364 437,340 440,310 443,272 447,228 451,179 454,138 458,107 461,95 465,106 468,138 471,178 474,222 477,262 481,300 484,325 487,341 490,358 493,369 496,381 500,384 503,382 507,387 510,389 513,389 517,389 520,391 523,393 527,395 530,394 533,394 537,398 540,398 544,396 547,397 550,397 554,396 557,400 561,400 564,399 567,399 571,404 573,398 569,395 566,391 563,396 559,395 556,391 553,388 549,387 546,390 542,395 539,395 536,391 532,389 529,388 526,384 522,384 519,384 515,386 512,390 509,384 505,381 502,379 499,373 496,364 492,353 489,338 486,320 483,299 480,258 477,214 474,167 471,129 468,100 464,92 461,113 457,140 453,176 450,226 446,274 443,312 439,339 436,363 433,375 429,382 426,390 423,396 420,394 416,397 413,392 410,397 407,405 403,409 400,411 397,411 394,409 391,406 387,401 384,401 381,399 378,401 375,402 371,400 368,401 365,408 362,409 359,409 355,409 352,409 349,403 346,403 343,403 340,404 336,402 333,399 330,394 327,395 324,397 321,398 317,395 314,394 311,397 308,396 305,396 302,394 298,392 295,397 292,396 289,398 286,393 283,395 280,395 277,399 274,395 270,391 267,387 264,386 261,384 258,389 255,389 252,387 249,388 246,391 242,385 239,380 236,390 234,395 231,397 227,391 224,383 221,387 218,390 215,395 212,394 209,394 206,396 203,392 200,393 197,398" fill="url(#s13)" stroke="url(#s13)" stroke-width=".7"/>
<polygon points="189,395 192,399 195,403 198,402 201,400 205,400 208,400 211,397 213,393 216,389 220,397 223,402 226,407 229,399 232,389 235,389 238,399 242,402 245,405 248,399 251,394 254,393 257,398 260,401 263,403 267,404 270,401 273,398 276,399 279,402 282,399 285,402 289,404 292,406 295,405 298,409 301,411 304,406 308,404 311,405 314,411 317,411 320,408 324,408 327,409 330,416 333,413 336,409 340,407 343,408 346,411 349,414 352,413 356,412 359,407 362,406 365,408 369,412 372,415 375,417 378,416 381,408 385,415 388,421 391,417 394,411 398,419 401,418 404,399 407,396 411,396 414,400 417,402 421,397 424,391 427,379 431,361 434,338 437,306 441,271 444,227 448,182 452,140 455,107 459,96 462,110 465,142 469,185 472,229 475,272 478,306 481,329 484,349 488,363 491,373 494,381 497,385 501,385 504,392 507,399 511,397 514,393 518,394 521,393 524,396 528,396 531,400 535,402 538,404 541,401 545,399 548,403 552,405 555,402 559,403 562,403 565,406 569,411 571,404 567,399 564,399 561,400 557,400 554,396 550,397 547,397 544,396 540,398 537,398 533,394 530,394 527,395 523,393 520,391 517,389 513,389 510,389 507,387 503,382 500,384 496,381 493,369 490,358 487,341 484,325 481,300 477,262 474,222 471,178 468,138 465,106 461,95 458,107 454,138 451,179 447,228 443,272 440,310 437,340 433,364 430,379 427,389 423,393 420,394 417,396 414,398 410,394 407,398 404,408 401,415 397,414 394,413 391,414 388,409 384,406 381,408 378,410 375,409 372,403 368,398 365,400 362,407 359,409 356,409 352,417 349,414 346,403 343,402 340,409 336,410 333,410 330,407 327,400 324,402 320,399 317,405 314,403 311,399 308,401 305,404 301,399 298,399 295,400 292,397 289,398 286,395 282,395 279,394 276,391 273,398 270,400 267,394 264,393 260,387 257,391 254,393 251,394 248,399 245,395 242,395 239,393 236,391 233,397 230,399 227,401 224,393 220,386 217,388 214,393 212,400 209,400 205,397 202,395 199,397 196,398 193,397" fill="url(#s14)" stroke="url(#s14)" stroke-width=".7"/>
<polygon points="185,401 188,405 191,404 195,405 198,408 201,402 204,404 207,407 210,401 213,396 216,400 219,403 222,406 225,400 228,389 231,391 235,405 238,407 241,409 244,408 247,407 250,404 254,404 257,407 260,408 263,410 266,406 269,403 273,412 276,416 279,405 282,403 285,408 288,410 292,414 295,412 298,411 301,408 304,400 307,403 311,411 314,413 317,406 320,404 323,408 327,422 330,418 333,415 336,414 340,417 343,414 346,413 349,417 352,413 356,412 359,409 362,411 365,416 369,420 372,421 375,419 379,419 382,423 385,423 388,419 392,416 395,420 398,418 401,408 405,407 408,408 411,411 415,408 418,403 421,394 424,383 428,366 431,341 435,310 438,272 442,226 445,180 449,138 452,112 456,100 459,115 463,147 466,192 469,237 472,275 475,308 479,332 482,351 485,368 488,379 492,389 495,391 498,391 502,396 505,402 509,401 512,396 515,395 519,398 522,400 526,403 529,405 532,405 536,406 539,404 543,404 546,407 550,408 553,406 556,408 560,408 563,410 567,415 569,411 565,406 562,403 559,403 555,402 552,405 548,403 545,399 541,401 538,404 535,402 531,400 528,396 524,396 521,393 518,394 514,393 511,397 507,399 504,392 501,385 497,385 494,381 491,373 488,363 484,349 481,329 478,306 475,272 472,229 469,185 465,142 462,110 459,96 455,107 452,140 448,182 444,227 441,271 437,306 434,338 431,361 427,379 424,391 421,397 417,402 414,400 411,396 407,396 404,399 401,418 398,419 394,411 391,417 388,421 385,415 381,408 378,416 375,417 372,415 369,412 365,408 362,406 359,407 356,412 352,413 349,414 346,411 343,408 340,407 336,409 333,413 330,416 327,409 324,408 320,408 317,411 314,411 311,405 308,404 304,406 301,411 298,409 295,405 292,406 289,404 285,402 282,399 279,402 276,399 273,398 270,401 267,404 263,403 260,401 257,398 254,393 251,394 248,399 245,405 242,402 238,399 235,389 232,389 229,399 226,407 223,402 220,397 216,389 213,393 211,397 208,400 205,400 201,400 198,402 195,403 192,399 189,395" fill="url(#s15)" stroke="url(#s15)" stroke-width=".7"/>
<polygon points="181,410 184,408 187,407 191,409 194,413 197,405 200,407 203,410 206,409 209,401 212,403 215,405 218,404 221,403 224,399 228,402 231,405 234,409 237,407 240,409 244,412 247,413 250,411 253,410 256,410 259,412 263,416 266,409 269,411 272,410 275,408 278,407 282,414 285,415 288,414 291,413 294,415 298,413 301,409 304,413 307,415 311,418 314,412 317,405 320,411 323,419 327,414 330,417 333,418 336,423 340,426 343,423 346,422 349,415 352,411 356,409 359,414 362,417 366,422 369,423 372,423 375,419 379,428 382,439 385,426 389,422 392,417 395,414 398,414 402,413 405,412 408,409 412,408 415,404 418,397 422,386 425,369 428,343 432,311 435,272 439,228 442,181 446,139 450,110 453,106 457,126 460,161 463,206 466,248 470,285 473,317 476,340 479,356 483,376 486,387 489,396 493,398 496,399 499,402 503,408 506,402 510,400 513,402 516,404 520,407 523,408 527,409 530,411 534,413 537,411 541,409 544,412 547,413 551,414 554,412 558,409 561,412 565,417 567,415 563,410 560,408 556,408 553,406 550,408 546,407 543,404 539,404 536,406 532,405 529,405 526,403 522,400 519,398 515,395 512,396 509,401 505,402 502,396 498,391 495,391 492,389 488,379 485,368 482,351 479,332 475,308 472,275 469,237 466,192 463,147 459,115 456,100 452,112 449,138 445,180 442,226 438,272 435,310 431,341 428,366 424,383 421,394 418,403 415,408 411,411 408,408 405,407 401,408 398,418 395,420 392,416 388,419 385,423 382,423 379,419 375,419 372,421 369,420 365,416 362,411 359,409 356,412 352,413 349,417 346,413 343,414 340,417 336,414 333,415 330,418 327,422 323,408 320,404 317,406 314,413 311,411 307,403 304,400 301,408 298,411 295,412 292,414 288,410 285,408 282,403 279,405 276,416 273,412 269,403 266,406 263,410 260,408 257,407 254,404 250,404 247,407 244,408 241,409 238,407 235,405 231,391 228,389 225,400 222,406 219,403 216,400 213,396 210,401 207,407 204,404 201,402 198,408 195,405 191,404 188,405 185,401" fill="url(#s16)" stroke="url(#s16)" stroke-width=".7"/>
<polygon points="177,409 180,404 183,405 187,418 190,425 193,411 196,410 199,418 202,410 205,405 208,406 211,409 215,409 218,407 221,402 224,408 227,415 230,415 234,415 237,411 240,412 243,413 246,418 249,410 252,407 256,414 259,412 262,406 265,409 268,413 272,411 275,412 278,418 281,416 284,409 288,415 291,419 294,413 297,413 301,419 304,423 307,423 310,415 313,407 317,414 320,422 323,424 327,426 330,430 333,430 336,430 340,427 343,425 346,421 349,419 353,422 356,419 359,426 363,429 366,430 369,425 372,424 376,429 379,435 382,426 386,421 389,421 392,421 396,420 399,420 402,423 405,418 409,410 412,407 415,401 419,389 422,371 426,342 429,314 432,278 436,233 439,188 443,148 447,122 450,120 454,142 457,176 460,215 464,256 467,292 470,318 473,346 477,364 480,381 483,391 487,400 490,404 494,406 497,408 500,411 504,409 507,406 511,405 514,406 518,412 521,416 524,415 528,417 531,418 535,414 538,411 542,414 545,417 549,418 552,418 556,417 559,419 563,424 565,417 561,412 558,409 554,412 551,414 547,413 544,412 541,409 537,411 534,413 530,411 527,409 523,408 520,407 516,404 513,402 510,400 506,402 503,408 499,402 496,399 493,398 489,396 486,387 483,376 479,356 476,340 473,317 470,285 466,248 463,206 460,161 457,126 453,106 450,110 446,139 442,181 439,228 435,272 432,311 428,343 425,369 422,386 418,397 415,404 412,408 408,409 405,412 402,413 398,414 395,414 392,417 389,422 385,426 382,439 379,428 375,419 372,423 369,423 366,422 362,417 359,414 356,409 352,411 349,415 346,422 343,423 340,426 336,423 333,418 330,417 327,414 323,419 320,411 317,405 314,412 311,418 307,415 304,413 301,409 298,413 294,415 291,413 288,414 285,415 282,414 278,407 275,408 272,410 269,411 266,409 263,416 259,412 256,410 253,410 250,411 247,413 244,412 240,409 237,407 234,409 231,405 228,402 224,399 221,403 218,404 215,405 212,403 209,401 206,409 203,410 200,407 197,405 194,413 191,409 187,407 184,408 181,410" fill="url(#s17)" stroke="url(#s17)" stroke-width=".7"/>
<polygon points="173,420 177,420 180,421 183,426 186,427 189,419 192,418 195,415 198,409 201,405 204,411 208,417 211,410 214,411 217,403 220,409 224,419 227,417 230,414 233,413 236,412 239,418 243,419 246,413 249,417 252,420 255,416 258,413 262,414 265,415 268,414 271,419 275,421 278,417 281,415 284,417 287,420 291,422 294,428 297,423 300,418 304,423 307,416 310,414 313,417 317,422 320,430 323,432 327,436 330,436 333,434 336,435 340,430 343,430 346,424 349,421 353,421 356,430 359,433 363,431 366,429 369,433 373,431 376,434 379,433 383,426 386,427 389,424 393,423 396,423 399,420 403,422 406,421 409,417 413,409 416,397 419,375 423,348 426,317 430,282 433,234 437,187 440,151 444,130 447,130 451,151 454,182 458,225 461,270 464,305 468,335 471,357 474,372 477,386 481,396 484,403 488,408 491,412 494,414 498,411 501,414 505,415 508,413 512,412 515,421 519,422 522,423 526,421 529,423 533,420 536,418 540,419 543,422 547,422 550,423 554,424 557,425 560,428 563,424 559,419 556,417 552,418 549,418 545,417 542,414 538,411 535,414 531,418 528,417 524,415 521,416 518,412 514,406 511,405 507,406 504,409 500,411 497,408 494,406 490,404 487,400 483,391 480,381 477,364 473,346 470,318 467,292 464,256 460,215 457,176 454,142 450,120 447,122 443,148 439,188 436,233 432,278 429,314 426,342 422,371 419,389 415,401 412,407 409,410 405,418 402,423 399,420 396,420 392,421 389,421 386,421 382,426 379,435 376,429 372,424 369,425 366,430 363,429 359,426 356,419 353,422 349,419 346,421 343,425 340,427 336,430 333,430 330,430 327,426 323,424 320,422 317,414 313,407 310,415 307,423 304,423 301,419 297,413 294,413 291,419 288,415 284,409 281,416 278,418 275,412 272,411 268,413 265,409 262,406 259,412 256,414 252,407 249,410 246,418 243,413 240,412 237,411 234,415 230,415 227,415 224,408 221,402 218,407 215,409 211,409 208,406 205,405 202,410 199,418 196,410 193,411 190,425 187,418 183,405 180,404 177,409" fill="url(#s18)" stroke="url(#s18)" stroke-width=".7"/>
<polygon points="169,420 172,420 175,421 178,419 182,424 185,425 188,429 191,422 194,418 197,416 201,421 204,420 207,418 210,415 213,408 216,409 220,425 223,422 226,420 229,421 232,423 236,422 239,427 242,423 245,422 248,423 252,422 255,418 258,422 261,425 265,428 268,432 271,429 274,426 277,424 281,420 284,421 287,422 290,424 294,421 297,425 300,426 303,423 306,417 310,423 313,431 317,430 320,433 323,441 327,447 330,448 333,440 336,432 340,427 343,424 346,424 349,424 353,433 356,437 360,439 363,436 366,432 369,430 373,434 376,431 380,431 383,432 386,429 390,427 393,427 396,430 400,428 403,423 406,420 410,414 413,397 416,377 420,349 423,316 427,282 430,242 434,203 437,162 441,140 445,142 448,165 452,200 455,239 458,283 462,313 465,337 468,357 472,375 475,390 478,402 482,410 485,413 489,417 492,417 496,416 499,418 502,418 506,419 509,420 513,423 516,426 520,431 523,431 527,428 530,423 534,420 537,421 541,426 544,426 548,426 551,429 555,429 558,433 560,428 557,425 554,424 550,423 547,422 543,422 540,419 536,418 533,420 529,423 526,421 522,423 519,422 515,421 512,412 508,413 505,415 501,414 498,411 494,414 491,412 488,408 484,403 481,396 477,386 474,372 471,357 468,335 464,305 461,270 458,225 454,182 451,151 447,130 444,130 440,151 437,187 433,234 430,282 426,317 423,348 419,375 416,397 413,409 409,417 406,421 403,422 399,420 396,423 393,423 389,424 386,427 383,426 379,433 376,434 373,431 369,433 366,429 363,431 359,433 356,430 353,421 349,421 346,424 343,430 340,430 336,435 333,434 330,436 327,436 323,432 320,430 317,422 313,417 310,414 307,416 304,423 300,418 297,423 294,428 291,422 287,420 284,417 281,415 278,417 275,421 271,419 268,414 265,415 262,414 258,413 255,416 252,420 249,417 246,413 243,419 239,418 236,412 233,413 230,414 227,417 224,419 220,409 217,403 214,411 211,410 208,417 204,411 201,405 198,409 195,415 192,418 189,419 186,427 183,426 180,421 177,420 173,420" fill="url(#s19)" stroke="url(#s19)" stroke-width=".7"/>
<polygon points="165,426 168,423 171,422 174,422 178,425 181,427 184,426 187,428 190,423 193,422 196,421 199,417 203,419 206,419 209,417 212,421 216,432 219,428 222,425 225,426 228,424 231,421 235,425 238,421 241,430 245,433 248,434 251,424 254,426 257,426 261,433 264,437 267,433 271,433 274,432 277,425 280,425 283,426 287,427 290,428 293,428 297,436 300,430 303,422 306,429 310,438 313,434 316,434 320,446 323,445 327,441 330,439 333,435 336,431 340,429 343,424 346,424 350,435 353,443 356,445 360,441 363,435 366,432 370,426 373,430 376,432 380,440 383,436 386,431 390,429 393,434 397,430 400,425 403,421 407,412 410,398 413,379 417,352 420,317 424,285 427,245 431,209 434,171 438,150 442,152 445,176 449,213 452,250 455,285 459,321 462,347 466,370 469,385 472,397 476,407 479,412 483,418 486,423 489,426 493,425 496,424 500,425 503,427 507,428 510,429 514,429 517,433 521,433 524,431 528,432 532,433 535,434 539,435 542,435 546,434 549,433 553,434 556,436 558,433 555,429 551,429 548,426 544,426 541,426 537,421 534,420 530,423 527,428 523,431 520,431 516,426 513,423 509,420 506,419 502,418 499,418 496,416 492,417 489,417 485,413 482,410 478,402 475,390 472,375 468,357 465,337 462,313 458,283 455,239 452,200 448,165 445,142 441,140 437,162 434,203 430,242 427,282 423,316 420,349 416,377 413,397 410,414 406,420 403,423 400,428 396,430 393,427 390,427 386,429 383,432 380,431 376,431 373,434 369,430 366,432 363,436 360,439 356,437 353,433 349,424 346,424 343,424 340,427 336,432 333,440 330,448 327,447 323,441 320,433 317,430 313,431 310,423 306,417 303,423 300,426 297,425 294,421 290,424 287,422 284,421 281,420 277,424 274,426 271,429 268,432 265,428 261,425 258,422 255,418 252,422 248,423 245,422 242,423 239,427 236,422 232,423 229,421 226,420 223,422 220,425 216,409 213,408 210,415 207,418 204,420 201,421 197,416 194,418 191,422 188,429 185,425 182,424 178,419 175,421 172,420 169,420" fill="url(#s20)" stroke="url(#s20)" stroke-width=".7"/>
<polygon points="161,428 164,426 167,423 170,424 173,427 177,435 180,431 183,430 186,430 189,428 192,425 195,422 198,419 202,424 205,430 209,433 212,428 215,430 218,424 221,427 225,429 228,424 231,426 234,424 237,426 241,430 244,430 247,427 250,424 254,428 257,443 261,442 264,433 267,433 270,434 273,431 277,430 280,431 283,434 286,427 290,431 293,432 296,437 300,433 303,432 306,433 310,437 313,440 317,449 320,450 323,452 326,448 330,437 333,433 336,438 340,432 343,432 346,442 350,451 353,453 357,446 360,436 363,436 366,435 370,437 373,445 377,443 380,444 383,437 387,439 390,438 394,435 397,431 400,427 404,417 407,402 410,383 414,353 417,319 421,285 424,245 428,208 431,177 435,161 439,170 442,191 446,226 449,262 453,293 456,326 459,351 463,378 466,396 470,404 473,412 477,417 480,425 483,430 487,432 490,427 494,429 497,432 501,432 504,435 508,434 512,436 515,437 519,437 522,437 526,436 529,437 533,439 536,441 540,441 543,442 547,442 551,442 554,442 556,436 553,434 549,433 546,434 542,435 539,435 535,434 532,433 528,432 524,431 521,433 517,433 514,429 510,429 507,428 503,427 500,425 496,424 493,425 489,426 486,423 483,418 479,412 476,407 472,397 469,385 466,370 462,347 459,321 455,285 452,250 449,213 445,176 442,152 438,150 434,171 431,209 427,245 424,285 420,317 417,352 413,379 410,398 407,412 403,421 400,425 397,430 393,434 390,429 386,431 383,436 380,440 376,432 373,430 370,426 366,432 363,435 360,441 356,445 353,443 350,435 346,424 343,424 340,429 336,431 333,435 330,439 327,441 323,445 320,446 316,434 313,434 310,438 306,429 303,422 300,430 297,436 293,428 290,428 287,427 283,426 280,425 277,425 274,432 271,433 267,433 264,437 261,433 257,426 254,426 251,424 248,434 245,433 241,430 238,421 235,425 231,421 228,424 225,426 222,425 219,428 216,432 212,421 209,417 206,419 203,419 199,417 196,421 193,422 190,423 187,428 184,426 181,427 178,425 174,422 171,422 168,423 165,426" fill="url(#s21)" stroke="url(#s21)" stroke-width=".7"/>
<polygon points="156,430 159,423 162,424 166,430 169,432 172,433 175,430 179,431 182,429 185,434 188,430 191,429 194,425 197,421 201,425 204,430 208,431 211,430 214,425 217,429 220,430 224,431 227,430 230,426 233,425 237,436 240,435 243,433 247,433 250,436 253,440 257,437 260,435 263,433 266,435 270,436 273,432 276,437 280,438 283,434 286,433 289,435 293,437 296,437 299,437 303,435 306,439 310,446 313,454 317,458 320,453 323,445 326,437 330,441 333,444 336,436 340,438 343,455 347,458 350,458 353,456 357,442 360,439 363,436 367,443 370,446 374,447 377,446 380,442 384,438 387,439 391,437 394,436 397,428 401,418 404,402 407,380 411,354 414,320 418,287 421,251 425,214 428,184 432,170 436,180 439,205 443,233 446,269 450,304 453,334 457,362 460,379 464,397 467,409 470,418 474,425 477,431 481,437 484,437 488,434 491,437 495,436 498,440 502,438 506,438 509,440 513,441 516,443 520,445 523,444 527,444 530,443 534,446 537,450 541,450 545,450 548,447 552,445 554,442 551,442 547,442 543,442 540,441 536,441 533,439 529,437 526,436 522,437 519,437 515,437 512,436 508,434 504,435 501,432 497,432 494,429 490,427 487,432 483,430 480,425 477,417 473,412 470,404 466,396 463,378 459,351 456,326 453,293 449,262 446,226 442,191 439,170 435,161 431,177 428,208 424,245 421,285 417,319 414,353 410,383 407,402 404,417 400,427 397,431 394,435 390,438 387,439 383,437 380,444 377,443 373,445 370,437 366,435 363,436 360,436 357,446 353,453 350,451 346,442 343,432 340,432 336,438 333,433 330,437 326,448 323,452 320,450 317,449 313,440 310,437 306,433 303,432 300,433 296,437 293,432 290,431 286,427 283,434 280,431 277,430 273,431 270,434 267,433 264,433 261,442 257,443 254,428 250,424 247,427 244,430 241,430 237,426 234,424 231,426 228,424 225,429 221,427 218,424 215,430 212,428 209,433 205,430 202,424 198,419 195,422 192,425 189,428 186,430 183,430 180,431 177,435 173,427 170,424 167,423 164,426 161,428" fill="url(#s22)" stroke="url(#s22)" stroke-width=".7"/>
<polygon points="151,421 155,427 158,430 161,428 165,431 168,437 171,437 175,439 178,441 181,437 184,438 187,432 190,433 194,430 197,429 200,431 203,434 207,437 210,437 213,437 216,434 220,433 223,429 226,421 229,424 233,432 236,431 239,433 243,436 246,440 249,440 253,443 256,438 259,439 262,436 266,440 269,437 273,440 276,442 279,438 282,436 286,442 289,440 293,445 296,442 299,434 303,442 306,447 309,450 313,456 316,453 319,449 323,441 326,440 329,441 333,439 336,438 340,455 343,463 347,456 350,454 353,447 357,451 360,449 364,451 367,448 370,452 374,451 377,444 381,440 384,439 387,436 391,434 394,430 398,419 401,406 404,382 408,351 411,317 415,286 418,253 422,223 425,190 429,176 433,192 436,216 440,245 443,279 447,313 450,346 454,369 457,390 461,406 464,414 468,421 471,432 475,440 478,440 482,441 485,441 489,440 492,443 496,443 500,445 503,448 507,446 510,448 514,449 517,451 521,450 524,450 528,450 532,452 535,456 539,456 542,454 546,450 550,448 552,445 548,447 545,450 541,450 537,450 534,446 530,443 527,444 523,444 520,445 516,443 513,441 509,440 506,438 502,438 498,440 495,436 491,437 488,434 484,437 481,437 477,431 474,425 470,418 467,409 464,397 460,379 457,362 453,334 450,304 446,269 443,233 439,205 436,180 432,170 428,184 425,214 421,251 418,287 414,320 411,354 407,380 404,402 401,418 397,428 394,436 391,437 387,439 384,438 380,442 377,446 374,447 370,446 367,443 363,436 360,439 357,442 353,456 350,458 347,458 343,455 340,438 336,436 333,444 330,441 326,437 323,445 320,453 317,458 313,454 310,446 306,439 303,435 299,437 296,437 293,437 289,435 286,433 283,434 280,438 276,437 273,432 270,436 266,435 263,433 260,435 257,437 253,440 250,436 247,433 243,433 240,435 237,436 233,425 230,426 227,430 224,431 220,430 217,429 214,425 211,430 208,431 204,430 201,425 197,421 194,425 191,429 188,430 185,434 182,429 179,431 175,430 172,433 169,432 166,430 162,424 159,423 156,430" fill="url(#s23)" stroke="url(#s23)" stroke-width=".7"/>
<polygon points="147,427 150,430 154,428 157,432 160,433 164,439 167,443 171,449 174,449 177,440 180,440 183,436 186,434 189,430 193,433 196,435 199,433 202,434 206,440 209,438 212,434 216,436 219,430 222,422 225,426 229,434 232,437 235,438 239,441 242,443 246,444 249,443 252,441 255,440 259,436 262,441 266,446 269,445 272,441 275,434 278,432 282,439 286,445 289,448 292,442 295,436 299,442 302,447 306,456 309,458 313,456 316,451 319,445 322,440 326,437 329,443 333,450 336,451 340,456 343,461 347,461 350,451 353,456 357,456 360,456 364,451 367,451 371,452 374,441 377,443 381,447 384,443 388,436 391,430 395,419 398,405 401,385 405,357 408,322 412,286 415,253 419,225 422,195 426,183 430,202 433,224 437,256 441,290 444,324 448,355 451,382 454,400 458,410 462,421 465,428 469,435 472,442 476,447 479,446 483,444 486,446 490,450 493,453 497,454 500,457 504,457 508,455 511,457 515,457 518,456 522,458 526,457 529,459 533,462 536,461 540,456 544,456 547,456 550,448 546,450 542,454 539,456 535,456 532,452 528,450 524,450 521,450 517,451 514,449 510,448 507,446 503,448 500,445 496,443 492,443 489,440 485,441 482,441 478,440 475,440 471,432 468,421 464,414 461,406 457,390 454,369 450,346 447,313 443,279 440,245 436,216 433,192 429,176 425,190 422,223 418,253 415,286 411,317 408,351 404,382 401,406 398,419 394,430 391,434 387,436 384,439 381,440 377,444 374,451 370,452 367,448 364,451 360,449 357,451 353,447 350,454 347,456 343,463 340,455 336,438 333,439 329,441 326,440 323,441 319,449 316,453 313,456 309,450 306,447 303,442 299,434 296,442 293,445 289,440 286,442 282,436 279,438 276,442 273,440 269,437 266,440 262,436 259,439 256,438 253,443 249,440 246,440 243,436 239,433 236,431 233,432 229,424 226,421 223,429 220,433 216,434 213,437 210,437 207,437 203,434 200,431 197,429 194,430 190,433 187,432 184,438 181,437 178,441 175,439 171,437 168,437 165,431 161,428 158,430 155,427 151,421" fill="url(#s24)" stroke="url(#s24)" stroke-width=".7"/>
<polygon points="143,434 146,435 149,439 153,436 156,439 159,445 163,447 166,453 169,448 173,449 176,443 179,447 182,442 185,441 188,438 192,436 195,432 198,440 202,445 205,444 208,437 212,440 215,437 218,430 221,431 225,435 228,436 231,433 235,436 238,438 241,444 245,445 248,440 251,444 255,442 258,442 261,440 265,445 268,448 272,445 275,442 278,444 282,446 285,457 289,448 292,434 295,443 299,454 302,453 306,455 309,463 312,460 316,453 319,441 322,439 326,443 329,454 333,453 336,457 340,459 343,455 347,455 350,453 354,460 357,455 360,449 364,457 367,455 371,450 374,444 378,444 381,441 384,441 388,430 391,422 395,407 398,385 402,357 405,323 408,288 412,253 416,226 419,197 423,189 427,205 430,232 434,265 438,300 441,329 445,363 448,390 452,403 455,416 459,428 462,435 466,442 469,448 473,451 476,452 480,451 484,452 487,457 491,454 494,456 498,461 502,464 505,462 509,463 512,461 516,463 520,461 523,462 527,465 530,467 534,468 538,464 541,463 545,461 547,456 544,456 540,456 536,461 533,462 529,459 526,457 522,458 518,456 515,457 511,457 508,455 504,457 500,457 497,454 493,453 490,450 486,446 483,444 479,446 476,447 472,442 469,435 465,428 462,421 458,410 454,400 451,382 448,355 444,324 441,290 437,256 433,224 430,202 426,183 422,195 419,225 415,253 412,286 408,322 405,357 401,385 398,405 395,419 391,430 388,436 384,443 381,447 377,443 374,441 371,452 367,451 364,451 360,456 357,456 353,456 350,451 347,461 343,461 340,456 336,451 333,450 329,443 326,437 322,440 319,445 316,451 313,456 309,458 306,456 302,447 299,442 295,436 292,442 289,448 286,445 282,439 278,432 275,434 272,441 269,445 266,446 262,441 259,436 255,440 252,441 249,443 246,444 242,443 239,441 235,438 232,437 229,434 225,426 222,422 219,430 216,436 212,434 209,438 206,440 202,434 199,433 196,435 193,433 189,430 186,434 183,436 180,440 177,440 174,449 171,449 167,443 164,439 160,433 157,432 154,428 150,430 147,427" fill="url(#s25)" stroke="url(#s25)" stroke-width=".7"/>
<polygon points="138,438 142,438 145,437 148,438 151,442 155,444 158,451 162,453 165,453 168,448 171,446 174,443 178,446 181,443 184,445 187,442 191,441 194,444 198,448 201,444 204,445 207,446 211,445 213,426 217,428 220,436 224,438 227,438 230,437 234,438 237,441 241,444 244,442 247,442 251,440 254,444 257,441 261,453 265,456 268,448 271,443 274,447 278,449 281,451 285,445 288,437 291,445 295,450 298,452 302,457 305,459 309,455 312,447 315,443 319,438 322,449 326,458 329,463 333,458 336,454 340,457 343,461 347,459 350,456 353,452 357,454 360,452 364,454 367,456 371,454 374,447 378,446 381,443 385,434 388,422 392,409 395,386 398,357 402,324 405,285 409,252 412,226 416,205 420,198 424,216 427,240 431,274 435,307 438,339 442,371 445,401 449,412 452,422 456,434 459,441 463,449 467,456 470,458 474,457 477,453 481,459 485,464 488,462 492,465 495,463 499,464 503,468 506,468 510,465 514,466 517,471 521,468 524,469 528,474 532,473 535,472 539,467 543,465 545,461 541,463 538,464 534,468 530,467 527,465 523,462 520,461 516,463 512,461 509,463 505,462 502,464 498,461 494,456 491,454 487,457 484,452 480,451 476,452 473,451 469,448 466,442 462,435 459,428 455,416 452,403 448,390 445,363 441,329 438,300 434,265 430,232 427,205 423,189 419,197 416,226 412,253 408,288 405,323 402,357 398,385 395,407 391,422 388,430 384,441 381,441 378,444 374,444 371,450 367,455 364,457 360,449 357,455 354,460 350,453 347,455 343,455 340,459 336,457 333,453 329,454 326,443 322,439 319,441 316,453 312,460 309,463 306,455 302,453 299,454 295,443 292,434 289,448 285,457 282,446 278,444 275,442 272,445 268,448 265,445 261,440 258,442 255,442 251,444 248,440 245,445 241,444 238,438 235,436 231,433 228,436 225,435 221,431 218,430 215,437 212,440 208,437 205,444 202,445 198,440 195,432 192,436 188,438 185,441 182,442 179,447 176,443 173,449 169,448 166,453 163,447 159,445 156,439 153,436 149,439 146,435 143,434" fill="url(#s26)" stroke="url(#s26)" stroke-width=".7"/>
<polygon points="133,432 137,435 140,438 144,442 147,448 150,450 154,452 157,445 160,444 163,445 166,441 170,441 173,442 176,442 180,441 183,443 187,450 190,453 193,449 197,450 200,447 203,453 207,449 209,434 213,436 216,438 219,437 223,440 226,432 229,435 233,439 236,439 240,437 243,443 247,446 250,448 254,450 257,457 261,457 264,454 267,448 271,449 274,448 277,441 281,446 284,445 288,450 291,452 295,456 298,459 302,463 305,457 308,448 312,446 315,448 319,460 322,466 326,466 329,463 333,461 336,460 340,463 343,455 346,451 350,452 354,454 357,459 361,460 364,461 368,454 371,448 374,443 378,444 381,437 385,427 388,406 392,387 395,360 399,326 402,286 406,256 409,230 413,211 417,210 420,223 424,248 428,280 432,314 435,345 439,378 442,404 446,424 450,432 453,440 457,446 460,453 464,459 467,464 471,461 475,457 478,463 482,469 486,469 489,469 493,468 497,467 500,469 504,470 507,473 511,472 515,474 518,476 522,479 526,479 529,476 533,478 537,473 541,472 543,465 539,467 535,472 532,473 528,474 524,469 521,468 517,471 514,466 510,465 506,468 503,468 499,464 495,463 492,465 488,462 485,464 481,459 477,453 474,457 470,458 467,456 463,449 459,441 456,434 452,422 449,412 445,401 442,371 438,339 435,307 431,274 427,240 424,216 420,198 416,205 412,226 409,252 405,285 402,324 398,357 395,386 392,409 388,422 385,434 381,443 378,446 374,447 371,454 367,456 364,454 360,452 357,454 353,452 350,456 347,459 343,461 340,457 336,454 333,458 329,463 326,458 322,449 319,438 315,443 312,447 309,455 305,459 302,457 298,452 295,450 291,445 288,437 285,445 281,451 278,449 274,447 271,443 268,448 265,456 261,453 257,441 254,444 251,440 247,442 244,442 241,444 237,441 234,438 230,437 227,438 224,438 220,436 217,428 213,426 211,445 207,446 204,445 201,444 198,448 194,444 191,441 187,442 184,445 181,443 178,446 174,443 171,446 168,448 165,453 162,453 158,451 155,444 151,442 148,438 145,437 142,438 138,438" fill="url(#s27)" stroke="url(#s27)" stroke-width=".7"/>
<polygon points="129,446 132,445 136,445 139,443 142,442 145,442 149,444 152,450 156,450 159,445 162,447 166,451 169,444 172,445 175,444 179,448 182,455 186,453 189,457 192,454 196,451 199,451 202,451 205,446 209,441 212,442 215,438 219,440 222,440 225,442 229,447 232,445 236,442 239,449 243,455 246,458 250,454 253,455 256,451 260,453 263,451 267,451 270,452 273,446 277,449 281,458 284,454 287,455 291,456 294,457 298,465 301,459 305,452 308,455 312,454 315,462 319,472 322,466 326,462 329,457 333,457 336,458 340,464 343,462 347,458 350,452 354,460 357,465 361,467 364,460 368,444 371,441 375,443 378,437 382,426 385,406 388,380 392,351 395,318 399,282 402,251 406,226 410,212 413,218 417,231 421,259 425,293 428,327 432,363 436,393 439,419 443,432 447,445 450,450 454,453 457,461 461,465 465,466 468,471 472,467 476,473 479,475 483,475 487,477 490,475 494,474 498,474 501,475 505,481 509,479 512,478 516,480 520,478 523,481 527,481 531,480 535,476 538,473 541,472 537,473 533,478 529,476 526,479 522,479 518,476 515,474 511,472 507,473 504,470 500,469 497,467 493,468 489,469 486,469 482,469 478,463 475,457 471,461 467,464 464,459 460,453 457,446 453,440 450,432 446,424 442,404 439,378 435,345 432,314 428,280 424,248 420,223 417,210 413,211 409,230 406,256 402,286 399,326 395,360 392,387 388,406 385,427 381,437 378,444 374,443 371,448 368,454 364,461 361,460 357,459 354,454 350,452 346,451 343,455 340,463 336,460 333,461 329,463 326,466 322,466 319,460 315,448 312,446 308,448 305,457 302,463 298,459 295,456 291,452 288,450 284,445 281,446 277,441 274,448 271,449 267,448 264,454 261,457 257,457 254,450 250,448 247,446 243,443 240,437 236,439 233,439 229,435 226,432 223,440 219,437 216,438 213,436 209,434 207,449 203,453 200,447 197,450 193,449 190,453 187,450 183,443 180,441 176,442 173,442 170,441 166,441 163,445 160,444 157,445 154,452 150,450 147,448 144,442 140,438 137,435 133,432" fill="url(#s28)" stroke="url(#s28)" stroke-width=".7"/>
<polygon points="125,450 128,455 131,452 134,445 137,443 141,449 144,451 148,452 151,449 154,445 157,447 161,451 164,449 167,445 171,453 175,458 178,460 182,465 185,462 188,459 191,456 195,458 198,457 201,444 205,450 208,454 211,450 214,441 218,441 221,444 225,450 228,448 232,448 235,451 239,462 242,460 246,458 249,460 252,456 256,455 259,455 263,454 266,452 270,454 273,459 277,464 280,458 284,462 287,459 290,458 294,464 298,464 301,461 304,461 308,459 312,472 315,480 319,473 322,469 326,465 329,462 333,463 336,462 340,471 343,467 347,464 350,462 354,462 357,467 361,463 364,452 368,449 371,449 375,437 378,421 382,403 385,380 389,350 392,315 395,278 399,247 403,229 406,217 410,222 414,242 418,270 422,302 425,338 429,370 433,401 436,425 440,443 444,454 447,460 451,464 455,469 458,472 462,476 466,478 469,481 473,478 477,479 480,478 484,482 488,481 491,480 495,483 499,483 502,488 506,481 510,480 513,482 517,481 521,486 525,487 528,489 532,484 536,476 538,473 535,476 531,480 527,481 523,481 520,478 516,480 512,478 509,479 505,481 501,475 498,474 494,474 490,475 487,477 483,475 479,475 476,473 472,467 468,471 465,466 461,465 457,461 454,453 450,450 447,445 443,432 439,419 436,393 432,363 428,327 425,293 421,259 417,231 413,218 410,212 406,226 402,251 399,282 395,318 392,351 388,380 385,406 382,426 378,437 375,443 371,441 368,444 364,460 361,467 357,465 354,460 350,452 347,458 343,462 340,464 336,458 333,457 329,457 326,462 322,466 319,472 315,462 312,454 308,455 305,452 301,459 298,465 294,457 291,456 287,455 284,454 281,458 277,449 273,446 270,452 267,451 263,451 260,453 256,451 253,455 250,454 246,458 243,455 239,449 236,442 232,445 229,447 225,442 222,440 219,440 215,438 212,442 209,441 205,446 202,451 199,451 196,451 192,454 189,457 186,453 182,455 179,448 175,444 172,445 169,444 166,451 162,447 159,445 156,450 152,450 149,444 145,442 142,442 139,443 136,445 132,445 129,446" fill="url(#s29)" stroke="url(#s29)" stroke-width=".7"/>
<polygon points="120,456 123,459 127,463 130,456 133,452 136,451 140,455 143,457 146,452 149,449 153,450 156,455 160,450 163,452 167,458 170,463 174,464 177,460 180,456 183,457 187,457 190,457 193,454 197,455 200,456 204,463 207,456 210,449 214,448 217,452 221,455 224,456 228,454 231,457 235,460 238,464 242,463 245,466 248,461 252,470 255,465 259,463 262,457 266,459 269,457 273,468 276,459 280,459 283,461 287,464 290,469 294,475 298,481 301,469 304,463 308,475 312,477 315,476 318,470 322,470 326,471 329,471 333,473 336,470 340,471 343,471 347,469 350,471 354,470 357,464 361,458 364,456 368,452 371,439 375,423 378,404 382,378 385,347 389,315 392,280 396,252 399,232 403,223 407,232 411,252 415,285 419,320 422,352 426,380 430,409 433,435 437,450 441,458 444,465 448,470 452,476 455,478 459,478 463,483 466,490 470,486 474,485 477,486 481,484 485,486 489,489 492,488 496,490 500,492 503,488 507,484 511,488 515,490 518,487 522,491 526,494 530,492 533,486 536,476 532,484 528,489 525,487 521,486 517,481 513,482 510,480 506,481 502,488 499,483 495,483 491,480 488,481 484,482 480,478 477,479 473,478 469,481 466,478 462,476 458,472 455,469 451,464 447,460 444,454 440,443 436,425 433,401 429,370 425,338 422,302 418,270 414,242 410,222 406,217 403,229 399,247 395,278 392,315 389,350 385,380 382,403 378,421 375,437 371,449 368,449 364,452 361,463 357,467 354,462 350,462 347,464 343,467 340,471 336,462 333,463 329,462 326,465 322,469 319,473 315,480 312,472 308,459 304,461 301,461 298,464 294,464 290,458 287,459 284,462 280,458 277,464 273,459 270,454 266,452 263,454 259,455 256,455 252,456 249,460 246,458 242,460 239,462 235,451 232,448 228,448 225,450 221,444 218,441 214,441 211,450 208,454 205,450 201,444 198,457 195,458 191,456 188,459 185,462 182,465 178,460 175,458 171,453 167,445 164,449 161,451 157,447 154,445 151,449 148,452 144,451 141,449 137,443 134,445 131,452 128,455 125,450" fill="url(#s30)" stroke="url(#s30)" stroke-width=".7"/>
<polygon points="115,461 119,464 122,465 125,456 128,456 131,453 135,454 138,459 142,457 145,449 148,452 152,456 155,456 158,455 162,454 165,461 169,467 172,463 176,461 179,465 183,467 186,465 189,462 192,453 196,460 200,476 203,467 206,452 209,455 213,457 217,462 220,458 223,461 227,460 230,462 234,467 237,465 241,459 244,462 248,465 251,466 255,464 258,464 262,462 265,460 269,457 272,463 276,467 279,467 283,468 287,478 290,484 294,480 297,475 300,470 304,475 308,479 311,477 315,470 318,472 322,477 325,475 329,475 333,475 336,480 340,481 343,470 347,468 350,471 354,465 357,461 361,460 365,459 368,443 372,428 375,408 378,386 382,354 385,321 389,285 392,254 396,237 400,230 404,239 408,262 411,293 415,330 419,363 423,394 427,420 430,442 434,453 438,457 441,469 445,478 449,483 452,487 456,485 460,490 464,493 467,490 471,490 475,493 478,493 482,490 486,490 490,497 493,494 497,497 501,493 505,492 508,494 512,497 516,496 520,497 523,499 527,501 531,499 533,486 530,492 526,494 522,491 518,487 515,490 511,488 507,484 503,488 500,492 496,490 492,488 489,489 485,486 481,484 477,486 474,485 470,486 466,490 463,483 459,478 455,478 452,476 448,470 444,465 441,458 437,450 433,435 430,409 426,380 422,352 419,320 415,285 411,252 407,232 403,223 399,232 396,252 392,280 389,315 385,347 382,378 378,404 375,423 371,439 368,452 364,456 361,458 357,464 354,470 350,471 347,469 343,471 340,471 336,470 333,473 329,471 326,471 322,470 318,470 315,476 312,477 308,475 304,463 301,469 298,481 294,475 290,469 287,464 283,461 280,459 276,459 273,468 269,457 266,459 262,457 259,463 255,465 252,470 248,461 245,466 242,463 238,464 235,460 231,457 228,454 224,456 221,455 217,452 214,448 210,449 207,456 204,463 200,456 197,455 193,454 190,457 187,457 183,457 180,456 177,460 174,464 170,463 167,458 163,452 160,450 156,455 153,450 149,449 146,452 143,457 140,455 136,451 133,452 130,456 127,463 123,459 120,456" fill="url(#s31)" stroke="url(#s31)" stroke-width=".7"/>
<polygon points="110,467 114,467 117,469 120,464 123,459 127,459 130,460 134,467 137,466 140,461 144,464 147,465 151,463 154,457 157,459 161,461 164,464 168,465 171,465 175,468 178,470 181,466 185,463 188,460 192,464 195,474 198,461 201,448 205,456 209,464 212,466 216,467 219,462 223,470 226,473 230,472 233,467 237,465 240,464 244,471 247,471 251,465 254,464 258,465 261,468 265,471 268,471 272,476 275,473 279,472 283,481 286,485 290,483 293,484 297,482 300,484 304,486 308,485 311,477 315,476 318,481 322,480 325,476 329,478 333,480 336,483 340,483 343,477 347,477 350,475 354,471 358,466 361,456 365,446 368,432 372,412 375,389 378,356 382,323 385,289 389,262 393,244 396,239 400,248 404,272 408,303 412,340 416,371 420,401 424,429 427,452 431,459 435,467 438,476 442,482 446,486 450,494 453,501 457,502 461,498 464,497 468,497 472,500 476,499 479,497 483,498 487,498 491,500 494,498 498,494 502,498 506,502 509,504 513,502 517,502 521,505 525,506 528,508 531,499 527,501 523,499 520,497 516,496 512,497 508,494 505,492 501,493 497,497 493,494 490,497 486,490 482,490 478,493 475,493 471,490 467,490 464,493 460,490 456,485 452,487 449,483 445,478 441,469 438,457 434,453 430,442 427,420 423,394 419,363 415,330 411,293 408,262 404,239 400,230 396,237 392,254 389,285 385,321 382,354 378,386 375,408 372,428 368,443 365,459 361,460 357,461 354,465 350,471 347,468 343,470 340,481 336,480 333,475 329,475 325,475 322,477 318,472 315,470 311,477 308,479 304,475 300,470 297,475 294,480 290,484 287,478 283,468 279,467 276,467 272,463 269,457 265,460 262,462 258,464 255,464 251,466 248,465 244,462 241,459 237,465 234,467 230,462 227,460 223,461 220,458 217,462 213,457 209,455 206,452 203,467 200,476 196,460 192,453 189,462 186,465 183,467 179,465 176,461 172,463 169,467 165,461 162,454 158,455 155,456 152,456 148,452 145,449 142,457 138,459 135,454 131,453 128,456 125,456 122,465 119,464 115,461" fill="url(#s32)" stroke="url(#s32)" stroke-width=".7"/>
<polygon points="106,473 109,475 112,474 115,464 118,459 122,458 126,467 129,474 132,469 135,460 139,467 143,469 146,471 149,468 153,466 156,468 160,466 163,470 167,474 170,471 173,470 177,468 180,468 184,472 187,473 191,477 194,467 197,463 201,468 205,474 208,474 211,470 215,467 218,469 222,472 225,470 229,475 232,469 236,467 240,477 243,477 247,471 250,465 253,466 257,468 261,482 264,481 268,485 272,482 275,480 279,485 282,488 286,489 289,483 293,478 297,488 300,489 304,484 307,483 311,485 315,490 318,489 322,485 325,477 329,485 333,490 336,490 340,490 344,498 347,490 350,478 354,469 358,463 361,453 365,435 368,411 371,385 375,357 378,324 382,292 385,265 389,250 393,251 397,262 401,282 405,313 409,342 413,378 417,411 420,433 424,450 428,466 432,478 435,484 439,490 443,494 447,498 450,503 454,503 458,502 462,501 465,502 469,507 473,507 477,507 480,505 484,506 488,504 492,502 496,498 499,500 503,505 507,511 511,513 514,512 518,511 522,515 526,516 528,508 525,506 521,505 517,502 513,502 509,504 506,502 502,498 498,494 494,498 491,500 487,498 483,498 479,497 476,499 472,500 468,497 464,497 461,498 457,502 453,501 450,494 446,486 442,482 438,476 435,467 431,459 427,452 424,429 420,401 416,371 412,340 408,303 404,272 400,248 396,239 393,244 389,262 385,289 382,323 378,356 375,389 372,412 368,432 365,446 361,456 358,466 354,471 350,475 347,477 343,477 340,483 336,483 333,480 329,478 325,476 322,480 318,481 315,476 311,477 308,485 304,486 300,484 297,482 293,484 290,483 286,485 283,481 279,472 275,473 272,476 268,471 265,471 261,468 258,465 254,464 251,465 247,471 244,471 240,464 237,465 233,467 230,472 226,473 223,470 219,462 216,467 212,466 209,464 205,456 201,448 198,461 195,474 192,464 188,460 185,463 181,466 178,470 175,468 171,465 168,465 164,464 161,461 157,459 154,457 151,463 147,465 144,464 140,461 137,466 134,467 130,460 127,459 123,459 120,464 117,469 114,467 110,467" fill="url(#s33)" stroke="url(#s33)" stroke-width=".7"/>
<polygon points="101,479 104,482 108,480 111,475 114,465 117,467 121,471 125,480 128,476 131,467 134,471 138,484 141,475 145,472 148,475 152,475 155,475 159,475 162,473 165,472 169,474 172,476 176,475 179,477 183,477 186,478 190,474 193,466 196,470 200,469 204,473 207,478 210,470 214,474 218,477 221,475 225,473 228,464 231,464 235,478 239,484 242,480 246,475 249,469 253,476 257,481 260,485 264,491 268,489 271,487 275,496 279,499 282,496 286,491 289,487 293,495 296,492 300,490 303,488 307,487 311,493 314,496 318,491 322,488 325,494 329,499 333,499 336,502 340,498 343,495 347,482 350,476 354,467 358,457 361,443 364,413 368,388 371,363 375,331 378,298 382,272 386,258 390,259 394,273 398,290 402,318 406,354 409,388 413,418 417,444 421,460 425,473 429,483 432,491 436,497 440,500 444,501 447,506 451,510 455,512 459,510 462,508 466,508 470,510 474,509 478,513 481,515 485,513 489,508 493,507 497,510 500,520 504,523 508,519 512,516 516,516 520,517 523,521 526,516 522,515 518,511 514,512 511,513 507,511 503,505 499,500 496,498 492,502 488,504 484,506 480,505 477,507 473,507 469,507 465,502 462,501 458,502 454,503 450,503 447,498 443,494 439,490 435,484 432,478 428,466 424,450 420,433 417,411 413,378 409,342 405,313 401,282 397,262 393,251 389,250 385,265 382,292 378,324 375,357 371,385 368,411 365,435 361,453 358,463 354,469 350,478 347,490 344,498 340,490 336,490 333,490 329,485 325,477 322,485 318,489 315,490 311,485 307,483 304,484 300,489 297,488 293,478 289,483 286,489 282,488 279,485 275,480 272,482 268,485 264,481 261,482 257,468 253,466 250,465 247,471 243,477 240,477 236,467 232,469 229,475 225,470 222,472 218,469 215,467 211,470 208,474 205,474 201,468 197,463 194,467 191,477 187,473 184,472 180,468 177,468 173,470 170,471 167,474 163,470 160,466 156,468 153,466 149,468 146,471 143,469 139,467 135,460 132,469 129,474 126,467 122,458 118,459 115,464 112,474 109,475 106,473" fill="url(#s34)" stroke="url(#s34)" stroke-width=".7"/>
<polygon points="96,486 99,481 102,476 106,478 109,480 113,480 116,484 120,487 123,480 126,471 130,481 134,490 137,483 140,481 144,482 147,482 150,478 154,476 157,474 161,475 164,476 168,475 171,481 175,478 178,480 181,473 185,471 188,467 192,473 196,479 199,484 203,481 206,477 210,480 214,488 217,483 220,476 224,475 227,469 231,481 235,479 238,479 242,477 245,478 249,485 253,494 256,493 260,493 263,490 267,492 271,498 274,498 278,495 281,493 285,491 289,495 293,500 296,492 300,491 303,497 307,502 311,506 314,499 318,484 321,495 325,501 329,493 332,493 336,499 340,491 343,483 347,475 350,473 354,461 358,446 361,418 364,389 368,363 371,335 375,308 379,282 382,264 386,267 390,280 394,297 398,325 402,356 406,391 410,424 414,447 418,467 422,478 425,492 429,497 433,502 437,510 440,511 444,511 448,514 452,519 456,514 459,516 463,516 467,518 471,522 475,522 478,520 482,519 486,514 490,515 494,519 498,527 501,528 505,526 509,524 513,520 517,522 521,524 523,521 520,517 516,516 512,516 508,519 504,523 500,520 497,510 493,507 489,508 485,513 481,515 478,513 474,509 470,510 466,508 462,508 459,510 455,512 451,510 447,506 444,501 440,500 436,497 432,491 429,483 425,473 421,460 417,444 413,418 409,388 406,354 402,318 398,290 394,273 390,259 386,258 382,272 378,298 375,331 371,363 368,388 364,413 361,443 358,457 354,467 350,476 347,482 343,495 340,498 336,502 333,499 329,499 325,494 322,488 318,491 314,496 311,493 307,487 303,488 300,490 296,492 293,495 289,487 286,491 282,496 279,499 275,496 271,487 268,489 264,491 260,485 257,481 253,476 249,469 246,475 242,480 239,484 235,478 231,464 228,464 225,473 221,475 218,477 214,474 210,470 207,478 204,473 200,469 196,470 193,466 190,474 186,478 183,477 179,477 176,475 172,476 169,474 165,472 162,473 159,475 155,475 152,475 148,475 145,472 141,475 138,484 134,471 131,467 128,476 125,480 121,471 117,467 114,465 111,475 108,480 104,482 101,479" fill="url(#s35)" stroke="url(#s35)" stroke-width=".7"/>
<polygon points="93,482 96,483 99,481 103,484 106,483 109,480 113,481 116,478 120,481 124,486 127,486 130,481 134,487 137,488 141,484 144,485 148,486 151,483 154,480 158,480 161,478 165,481 169,486 172,489 176,488 179,482 182,480 186,477 189,477 193,483 196,483 200,478 203,477 207,481 211,493 214,490 218,482 221,475 224,472 228,481 232,485 236,485 239,480 243,479 246,488 250,502 254,493 257,486 261,495 265,493 268,492 272,493 275,495 279,495 283,495 286,503 290,500 294,497 297,500 301,502 305,505 308,502 312,497 315,490 319,493 323,494 326,498 330,496 334,491 337,488 341,489 345,479 348,472 352,463 355,450 359,423 362,396 366,370 369,341 373,312 376,287 380,268 384,269 388,283 392,301 396,332 400,367 404,395 408,429 412,450 416,469 420,483 423,494 427,500 431,509 435,512 439,514 442,514 446,519 450,525 454,524 458,521 461,519 465,519 469,524 473,526 477,522 481,521 484,518 488,518 492,520 496,528 500,532 504,530 508,529 511,526 515,528 519,528 521,524 517,522 513,520 509,524 505,526 501,528 498,527 494,519 490,515 486,514 482,519 478,520 475,522 471,522 467,518 463,516 459,516 456,514 452,519 448,514 444,511 440,511 437,510 433,502 429,497 425,492 422,478 418,467 414,447 410,424 406,391 402,356 398,325 394,297 390,280 386,267 382,264 379,282 375,308 371,335 368,363 364,389 361,418 358,446 354,461 350,473 347,475 343,483 340,491 336,499 332,493 329,493 325,501 321,495 318,484 314,499 311,506 307,502 303,497 300,491 296,492 293,500 289,495 285,491 281,493 278,495 274,498 271,498 267,492 263,490 260,493 256,493 253,494 249,485 245,478 242,477 238,479 235,479 231,481 227,469 224,475 220,476 217,483 214,488 210,480 206,477 203,481 199,484 196,479 192,473 188,467 185,471 181,473 178,480 175,478 171,481 168,475 164,476 161,475 157,474 154,476 150,478 147,482 144,482 140,481 137,483 134,490 130,481 126,471 123,480 120,487 116,484 113,480 109,480 106,478 102,476 99,481 96,486" fill="url(#s36)" stroke="url(#s36)" stroke-width=".7"/>
</g>
<polyline points="361,153 365.9,565.9" fill="none" stroke="#222" stroke-width="1.5" stroke-dasharray="5,4"/>
<polyline points="376.4,117.9 469,34.6" fill="none" stroke="#222" stroke-width="1.5" stroke-dasharray="5,4"/>
<polyline points="410.9,156.3 412.1,571.7" fill="none" stroke="#222" stroke-width="1.5" stroke-dasharray="5,4"/>
<polyline points="425.2,120.9 510,36.6" fill="none" stroke="#222" stroke-width="1.5" stroke-dasharray="5,4"/>
<polyline points="376.4,117.9 360.8,132 410.8,135.1 425.2,120.9" fill="none" stroke="#e8650f" stroke-width="2"/>
<polyline points="360.8,132 361,153" fill="none" stroke="#e8650f" stroke-width="2"/>
<polyline points="410.8,135.1 410.9,156.3" fill="none" stroke="#e8650f" stroke-width="2"/>
<polyline points="69.3,113.5 95.6,532 519.5,585.1 593.6,409" fill="none" stroke="#000" stroke-width="2.2"/>
<polyline points="95.6,532 90.4,537.8" fill="none" stroke="#000" stroke-width="2"/>
<polyline points="90.4,449.1 85,454.5" fill="none" stroke="#000" stroke-width="2"/>
<polyline points="85,363.6 79.5,368.4" fill="none" stroke="#000" stroke-width="2"/>
<polyline points="79.5,275.2 73.8,279.6" fill="none" stroke="#000" stroke-width="2"/>
<polyline points="73.8,184 68,187.8" fill="none" stroke="#000" stroke-width="2"/>
<polyline points="171.1,541.5 166.2,547.4" fill="none" stroke="#000" stroke-width="2"/>
<polyline points="259.1,552.5 254.7,558.6" fill="none" stroke="#000" stroke-width="2"/>
<polyline points="349.4,563.8 345.5,570" fill="none" stroke="#000" stroke-width="2"/>
<polyline points="442,575.4 438.8,581.8" fill="none" stroke="#000" stroke-width="2"/>
<polyline points="127.9,536.1 125,539.4" fill="none" stroke="#000" stroke-width="2"/>
<polyline points="214.8,547 212.2,550.3" fill="none" stroke="#000" stroke-width="2"/>
<polyline points="303.9,558.1 301.6,561.6" fill="none" stroke="#000" stroke-width="2"/>
<polyline points="395.4,569.6 393.4,573.1" fill="none" stroke="#000" stroke-width="2"/>
<polyline points="489.3,581.3 487.7,585" fill="none" stroke="#000" stroke-width="2"/>
<polyline points="526.1,569.4 537.2,570.8" fill="none" stroke="#000" stroke-width="2"/>
<polyline points="540.5,535.3 551.2,536.5" fill="none" stroke="#000" stroke-width="2"/>
<polyline points="553.9,503.5 564.2,504.7" fill="none" stroke="#000" stroke-width="2"/>
<polyline points="566.3,473.9 576.4,475" fill="none" stroke="#000" stroke-width="2"/>
<polyline points="578,446.2 587.7,447.3" fill="none" stroke="#000" stroke-width="2"/>
<polyline points="588.9,420.3 598.3,421.3" fill="none" stroke="#000" stroke-width="2"/>
<polyline points="533.5,552 539.6,552.8" fill="none" stroke="#000" stroke-width="2"/>
<polyline points="547.3,519.1 553.2,519.8" fill="none" stroke="#000" stroke-width="2"/>
<polyline points="560.2,488.5 565.9,489.1" fill="none" stroke="#000" stroke-width="2"/>
<polyline points="572.2,459.8 577.8,460.4" fill="none" stroke="#000" stroke-width="2"/>
<polyline points="583.5,433.1 588.9,433.6" fill="none" stroke="#000" stroke-width="2"/>
<g stroke="#d9d9d9" stroke-width="1" fill="none">
<polyline points="95.4,1149.1 232.9,989.2 584.2,1022.6" fill="none" stroke="#d9d9d9" stroke-width="1"/>
<polyline points="88.4,1050.4 229.6,905.4 587.3,935.1" fill="none" stroke="#d9d9d9" stroke-width="1"/>
<polyline points="81,947.4 226.2,818.6 590.5,844.3" fill="none" stroke="#d9d9d9" stroke-width="1"/>
<polyline points="73.4,839.6 222.6,728.5 593.9,750" fill="none" stroke="#d9d9d9" stroke-width="1"/>
<polyline points="84.7,775.2 111.9,1176 523.7,1227" fill="none" stroke="#d9d9d9" stroke-width="1"/>
<polyline points="113.5,755.8 137.5,1144.7 536.1,1192" fill="none" stroke="#d9d9d9" stroke-width="1"/>
<polyline points="140.3,737.8 161.5,1115.4 547.7,1159.5" fill="none" stroke="#d9d9d9" stroke-width="1"/>
<polyline points="165.2,720.9 183.9,1087.9 558.6,1129.1" fill="none" stroke="#d9d9d9" stroke-width="1"/>
<polyline points="188.5,705.2 205,1062.2 568.7,1100.7" fill="none" stroke="#d9d9d9" stroke-width="1"/>
<polyline points="210.4,690.5 224.8,1037.9 578.2,1074" fill="none" stroke="#d9d9d9" stroke-width="1"/>
<polyline points="180.3,1202.8 303.1,1033.1 294.5,687.3" fill="none" stroke="#d9d9d9" stroke-width="1"/>
<polyline points="269,1214 377.1,1040.5 374.1,691.4" fill="none" stroke="#d9d9d9" stroke-width="1"/>
<polyline points="359.9,1225.5 452.8,1048.1 455.5,695.6" fill="none" stroke="#d9d9d9" stroke-width="1"/>
<polyline points="453.2,1237.3 530.1,1055.9 538.7,699.8" fill="none" stroke="#d9d9d9" stroke-width="1"/>
</g>
<polyline points="69.5,785.4 220.9,683.5 595.6,702.8 582.8,1061.2" fill="none" stroke="#5e5650" stroke-width="1.3"/>
<polyline points="220.9,683.5 234.4,1026.2" fill="none" stroke="#5e5650" stroke-width="1.3"/>
<polyline points="98.5,1192.5 234.4,1026.2 582.8,1061.2" fill="none" stroke="#5e5650" stroke-width="1.3"/>
<polyline points="430.9,694.3 429.9,1045.8" fill="none" stroke="#e8650f" stroke-width="2" stroke-dasharray="7,5"/>
<polyline points="332.4,1222 429.9,1045.8" fill="none" stroke="#e8650f" stroke-width="2" stroke-dasharray="7,5"/>
<polyline points="472,696.4 468.1,1049.7" fill="none" stroke="#e8650f" stroke-width="2" stroke-dasharray="7,5"/>
<polyline points="378.4,1227.9 468.1,1049.7" fill="none" stroke="#e8650f" stroke-width="2" stroke-dasharray="7,5"/>
<g>
<polygon points="228,943 231,946 234,949 237,948 240,949 242,946 246,949 248,947 251,950 254,947 257,949 260,946 263,950 266,950 269,949 272,950 275,949 278,950 281,948 284,948 287,949 290,947 293,949 296,947 299,947 302,949 305,945 308,943 311,942 314,947 317,940 320,942 323,945 326,939 329,933 332,928 335,924 338,909 340,900 343,888 346,870 349,854 352,840 355,819 358,804 361,795 364,795 367,803 370,821 374,834 377,861 380,881 384,895 387,913 390,927 393,937 396,940 399,949 403,950 406,952 409,946 412,942 415,933 418,923 421,906 424,881 428,855 431,829 434,797 437,767 441,738 444,719 448,722 451,729 454,754 457,786 460,821 463,859 466,893 468,924 471,953 474,965 477,982 480,998 483,1009 486,1013 489,1021 492,1023 495,1030 499,1029 502,1029 505,1035 508,1037 511,1036 514,1040 517,1040 520,1040 524,1042 527,1041 530,1041 533,1041 536,1043 539,1047 542,1046 546,1038 549,1041 552,1039 555,1051 558,1050 562,1042 565,1049 568,1047 571,1048 574,1049 577,1047 581,1049 582,1046 579,1043 576,1042 573,1040 569,1040 566,1037 563,1038 560,1041 557,1042 554,1037 550,1041 547,1040 544,1042 541,1040 538,1033 535,1040 532,1034 528,1038 525,1035 522,1037 519,1036 516,1034 513,1035 510,1027 507,1031 504,1026 500,1028 497,1023 494,1020 491,1018 488,1006 485,1005 482,994 479,983 476,962 473,948 471,920 468,890 465,858 462,822 459,783 456,746 453,725 450,721 447,716 443,735 440,761 436,794 433,826 430,851 427,876 424,897 420,918 417,923 414,935 411,939 408,945 405,949 402,947 399,937 396,932 393,927 389,909 386,893 383,879 380,858 376,834 373,814 370,800 367,789 363,791 360,801 357,814 355,834 352,851 349,868 346,885 343,900 340,907 337,918 335,927 332,932 329,934 326,941 323,937 320,938 317,942 314,939 311,939 308,943 305,946 302,944 299,945 296,942 293,944 290,946 287,943 284,948 281,944 278,947 275,946 272,943 269,947 266,945 263,943 260,944 257,943 254,945 251,942 249,943 246,946 243,945 240,947 237,944 234,942 231,938" fill="url(#s37)" stroke="url(#s37)" stroke-width=".7"/>
<polygon points="224,946 227,949 230,949 234,955 236,949 239,953 242,952 245,955 248,955 251,949 254,952 257,951 260,952 263,955 266,950 269,951 272,956 275,951 278,954 281,954 284,951 287,950 290,950 293,950 296,949 299,951 302,951 305,948 308,947 311,952 314,950 317,946 320,947 323,943 326,938 329,930 332,921 335,916 338,903 341,890 343,874 346,857 349,840 352,819 355,809 358,795 361,797 364,804 368,823 371,835 374,860 378,884 381,894 384,920 388,931 391,939 394,946 397,952 400,956 403,953 406,953 409,946 413,938 416,924 419,906 422,884 425,859 428,833 432,802 435,768 439,746 442,725 445,727 448,729 452,755 455,790 458,826 461,863 463,897 466,926 469,955 472,972 475,991 478,1004 481,1011 484,1018 487,1026 490,1028 494,1031 497,1034 500,1032 503,1036 506,1041 509,1041 512,1044 515,1041 519,1044 522,1045 525,1047 528,1048 531,1044 535,1039 537,1050 541,1051 544,1041 547,1049 550,1048 553,1054 557,1049 560,1050 563,1055 566,1053 569,1055 573,1048 576,1051 579,1053 581,1049 577,1047 574,1049 571,1048 568,1047 565,1049 562,1042 558,1050 555,1051 552,1039 549,1041 546,1038 542,1046 539,1047 536,1043 533,1041 530,1041 527,1041 524,1042 520,1040 517,1040 514,1040 511,1036 508,1037 505,1035 502,1029 499,1029 495,1030 492,1023 489,1021 486,1013 483,1009 480,998 477,982 474,965 471,953 468,924 466,893 463,859 460,821 457,786 454,754 451,729 448,722 444,719 441,738 437,767 434,797 431,829 428,855 424,881 421,906 418,923 415,933 412,942 409,946 406,952 403,950 399,949 396,940 393,937 390,927 387,913 384,895 380,881 377,861 374,834 370,821 367,803 364,795 361,795 358,804 355,819 352,840 349,854 346,870 343,888 340,900 338,909 335,924 332,928 329,933 326,939 323,945 320,942 317,940 314,947 311,942 308,943 305,945 302,949 299,947 296,947 293,949 290,947 287,949 284,948 281,948 278,950 275,949 272,950 269,949 266,950 263,950 260,946 257,949 254,947 251,950 248,947 246,949 242,946 240,949 237,948 234,949 231,946 228,943" fill="url(#s38)" stroke="url(#s38)" stroke-width=".7"/>
<polygon points="221,955 224,953 227,956 230,955 233,955 236,954 239,956 242,956 245,956 248,954 251,958 254,957 257,955 260,955 263,957 266,957 269,960 272,956 275,955 278,957 281,956 284,956 287,956 290,952 293,954 296,954 299,953 302,953 305,952 308,953 311,951 314,951 317,952 320,949 323,939 326,937 329,930 332,920 335,909 338,898 341,881 343,860 346,844 349,827 352,812 355,796 358,800 362,807 365,822 368,841 372,864 375,885 379,904 382,922 385,934 388,944 391,953 395,956 398,957 401,958 404,954 407,949 410,942 413,929 416,911 420,887 423,865 426,840 429,807 433,776 436,751 440,728 443,728 446,734 449,755 452,792 455,828 458,866 461,900 464,934 467,958 470,976 473,993 476,1010 479,1016 482,1024 485,1031 488,1033 492,1035 495,1040 498,1033 501,1041 504,1047 507,1044 510,1046 514,1048 517,1047 520,1049 523,1050 526,1053 529,1049 533,1049 536,1053 539,1049 542,1048 545,1052 549,1055 552,1055 555,1048 558,1057 561,1057 565,1053 568,1052 571,1053 574,1051 578,1055 579,1053 576,1051 573,1048 569,1055 566,1053 563,1055 560,1050 557,1049 553,1054 550,1048 547,1049 544,1041 541,1051 537,1050 535,1039 531,1044 528,1048 525,1047 522,1045 519,1044 515,1041 512,1044 509,1041 506,1041 503,1036 500,1032 497,1034 494,1031 490,1028 487,1026 484,1018 481,1011 478,1004 475,991 472,972 469,955 466,926 463,897 461,863 458,826 455,790 452,755 448,729 445,727 442,725 439,746 435,768 432,802 428,833 425,859 422,884 419,906 416,924 413,938 409,946 406,953 403,953 400,956 397,952 394,946 391,939 388,931 384,920 381,894 378,884 374,860 371,835 368,823 364,804 361,797 358,795 355,809 352,819 349,840 346,857 343,874 341,890 338,903 335,916 332,921 329,930 326,938 323,943 320,947 317,946 314,950 311,952 308,947 305,948 302,951 299,951 296,949 293,950 290,950 287,950 284,951 281,954 278,954 275,951 272,956 269,951 266,950 263,955 260,952 257,951 254,952 251,949 248,955 245,955 242,952 239,953 236,949 234,955 230,949 227,949 224,946" fill="url(#s39)" stroke="url(#s39)" stroke-width=".7"/>
<polygon points="218,959 221,958 224,957 227,957 230,956 233,957 236,962 239,963 242,960 245,957 248,964 251,962 254,957 257,953 260,959 263,961 266,960 269,964 272,955 275,959 278,958 281,959 284,957 287,959 290,956 293,959 296,958 299,958 302,958 305,953 308,960 311,957 314,951 318,954 320,948 323,940 326,934 329,923 332,917 335,897 338,883 341,864 344,850 347,832 349,814 353,804 356,803 359,812 362,823 366,847 369,869 373,890 376,908 379,926 382,935 386,946 389,954 392,959 395,962 398,964 401,961 405,952 408,945 411,936 414,916 417,895 420,868 424,844 427,811 430,782 434,752 437,734 440,733 444,737 447,761 450,794 453,833 456,868 459,903 462,934 465,961 468,979 471,997 474,1009 477,1017 480,1028 483,1031 486,1036 490,1042 493,1044 496,1039 499,1045 502,1049 505,1051 509,1049 512,1053 515,1051 518,1052 521,1053 524,1056 528,1056 531,1045 534,1045 537,1055 541,1054 544,1060 547,1056 550,1059 553,1058 557,1060 560,1060 563,1062 566,1056 570,1059 573,1056 576,1064 578,1055 574,1051 571,1053 568,1052 565,1053 561,1057 558,1057 555,1048 552,1055 549,1055 545,1052 542,1048 539,1049 536,1053 533,1049 529,1049 526,1053 523,1050 520,1049 517,1047 514,1048 510,1046 507,1044 504,1047 501,1041 498,1033 495,1040 492,1035 488,1033 485,1031 482,1024 479,1016 476,1010 473,993 470,976 467,958 464,934 461,900 458,866 455,828 452,792 449,755 446,734 443,728 440,728 436,751 433,776 429,807 426,840 423,865 420,887 416,911 413,929 410,942 407,949 404,954 401,958 398,957 395,956 391,953 388,944 385,934 382,922 379,904 375,885 372,864 368,841 365,822 362,807 358,800 355,796 352,812 349,827 346,844 343,860 341,881 338,898 335,909 332,920 329,930 326,937 323,939 320,949 317,952 314,951 311,951 308,953 305,952 302,953 299,953 296,954 293,954 290,952 287,956 284,956 281,956 278,957 275,955 272,956 269,960 266,957 263,957 260,955 257,955 254,957 251,958 248,954 245,956 242,956 239,956 236,954 233,955 230,955 227,956 224,953 221,955" fill="url(#s40)" stroke="url(#s40)" stroke-width=".7"/>
<polygon points="215,962 218,963 221,962 224,959 227,960 230,961 233,962 236,965 239,965 242,964 245,967 248,962 251,959 254,963 257,960 260,966 263,966 266,963 269,963 272,961 275,963 278,966 281,959 284,961 287,961 290,962 293,961 296,962 299,961 302,956 305,960 308,956 311,955 315,956 318,950 321,945 324,939 326,926 329,918 332,905 335,888 338,872 341,852 344,836 347,823 350,807 353,812 356,813 360,830 363,853 367,872 370,894 373,913 377,931 380,940 383,952 386,957 390,961 393,965 396,967 399,966 402,958 405,946 408,944 412,921 415,900 418,874 421,846 425,814 428,782 431,757 435,737 438,733 441,740 445,764 448,794 451,837 454,870 457,907 460,936 463,966 466,983 469,1002 472,1018 475,1019 478,1034 481,1037 484,1040 488,1043 491,1044 494,1049 497,1051 500,1053 503,1054 507,1054 510,1054 513,1059 516,1057 519,1057 523,1060 526,1060 529,1053 532,1062 535,1061 539,1053 542,1062 545,1062 548,1065 552,1065 555,1058 558,1063 561,1068 565,1065 568,1063 571,1064 574,1069 576,1064 573,1056 570,1059 566,1056 563,1062 560,1060 557,1060 553,1058 550,1059 547,1056 544,1060 541,1054 537,1055 534,1045 531,1045 528,1056 524,1056 521,1053 518,1052 515,1051 512,1053 509,1049 505,1051 502,1049 499,1045 496,1039 493,1044 490,1042 486,1036 483,1031 480,1028 477,1017 474,1009 471,997 468,979 465,961 462,934 459,903 456,868 453,833 450,794 447,761 444,737 440,733 437,734 434,752 430,782 427,811 424,844 420,868 417,895 414,916 411,936 408,945 405,952 401,961 398,964 395,962 392,959 389,954 386,946 382,935 379,926 376,908 373,890 369,869 366,847 362,823 359,812 356,803 353,804 349,814 347,832 344,850 341,864 338,883 335,897 332,917 329,923 326,934 323,940 320,948 318,954 314,951 311,957 308,960 305,953 302,958 299,958 296,958 293,959 290,956 287,959 284,957 281,959 278,958 275,959 272,955 269,964 266,960 263,961 260,959 257,953 254,957 251,962 248,964 245,957 242,960 239,963 236,962 233,957 230,956 227,957 224,957 221,958 218,959" fill="url(#s41)" stroke="url(#s41)" stroke-width=".7"/>
<polygon points="211,962 214,964 217,965 220,962 223,965 226,963 229,962 232,966 235,965 239,968 242,969 244,966 248,968 251,968 254,966 257,967 260,967 263,967 266,965 269,965 272,969 275,965 278,965 281,967 284,964 287,962 290,967 293,967 296,963 299,964 302,959 305,960 309,961 312,957 315,953 318,953 321,941 324,930 327,924 329,910 332,896 335,876 338,862 341,843 344,824 347,812 350,814 353,818 357,834 360,855 364,875 367,902 371,918 374,932 377,941 381,955 384,965 387,969 390,969 393,970 397,968 400,962 403,955 406,947 409,926 412,904 416,875 419,850 422,821 426,789 429,763 432,739 436,737 439,744 442,770 445,800 449,838 452,875 455,910 458,944 461,968 464,986 467,1004 470,1019 473,1024 476,1034 479,1038 482,1043 486,1047 489,1049 492,1051 495,1055 498,1059 501,1058 505,1058 508,1056 511,1058 514,1060 518,1062 521,1066 524,1061 527,1056 531,1061 534,1062 537,1065 540,1064 543,1065 547,1061 550,1069 553,1065 556,1069 560,1068 563,1067 566,1068 570,1062 573,1070 574,1069 571,1064 568,1063 565,1065 561,1068 558,1063 555,1058 552,1065 548,1065 545,1062 542,1062 539,1053 535,1061 532,1062 529,1053 526,1060 523,1060 519,1057 516,1057 513,1059 510,1054 507,1054 503,1054 500,1053 497,1051 494,1049 491,1044 488,1043 484,1040 481,1037 478,1034 475,1019 472,1018 469,1002 466,983 463,966 460,936 457,907 454,870 451,837 448,794 445,764 441,740 438,733 435,737 431,757 428,782 425,814 421,846 418,874 415,900 412,921 408,944 405,946 402,958 399,966 396,967 393,965 390,961 386,957 383,952 380,940 377,931 373,913 370,894 367,872 363,853 360,830 356,813 353,812 350,807 347,823 344,836 341,852 338,872 335,888 332,905 329,918 326,926 324,939 321,945 318,950 315,956 311,955 308,956 305,960 302,956 299,961 296,962 293,961 290,962 287,961 284,961 281,959 278,966 275,963 272,961 269,963 266,963 263,966 260,966 257,960 254,963 251,959 248,962 245,967 242,964 239,965 236,965 233,962 230,961 227,960 224,959 221,962 218,963 215,962" fill="url(#s42)" stroke="url(#s42)" stroke-width=".7"/>
<polygon points="208,968 211,966 214,968 217,965 220,969 223,965 226,972 229,969 232,969 235,971 238,975 241,973 244,975 247,970 250,969 253,969 257,971 260,970 263,969 266,969 269,971 272,970 275,969 278,971 281,968 284,967 287,970 290,970 293,967 296,968 299,963 303,965 306,964 309,959 312,955 315,958 318,948 321,936 324,927 327,914 329,899 332,883 335,866 338,845 341,831 344,815 347,820 351,821 354,835 358,859 361,877 365,899 368,920 371,936 375,945 378,962 381,968 384,971 388,974 391,974 394,972 397,967 400,960 404,953 407,934 410,912 413,887 416,858 420,825 423,794 426,768 430,745 433,740 437,744 440,771 443,796 446,840 449,874 452,912 455,948 458,971 462,991 465,1007 468,1019 471,1030 474,1038 477,1044 480,1046 484,1051 487,1053 490,1055 493,1058 496,1058 500,1062 503,1060 506,1061 509,1065 512,1064 516,1065 519,1071 522,1066 525,1066 529,1064 532,1067 535,1067 538,1071 542,1071 545,1065 548,1075 551,1076 555,1073 558,1074 561,1072 565,1067 568,1069 571,1067 573,1070 570,1062 566,1068 563,1067 560,1068 556,1069 553,1065 550,1069 547,1061 543,1065 540,1064 537,1065 534,1062 531,1061 527,1056 524,1061 521,1066 518,1062 514,1060 511,1058 508,1056 505,1058 501,1058 498,1059 495,1055 492,1051 489,1049 486,1047 482,1043 479,1038 476,1034 473,1024 470,1019 467,1004 464,986 461,968 458,944 455,910 452,875 449,838 445,800 442,770 439,744 436,737 432,739 429,763 426,789 422,821 419,850 416,875 412,904 409,926 406,947 403,955 400,962 397,968 393,970 390,969 387,969 384,965 381,955 377,941 374,932 371,918 367,902 364,875 360,855 357,834 353,818 350,814 347,812 344,824 341,843 338,862 335,876 332,896 329,910 327,924 324,930 321,941 318,953 315,953 312,957 309,961 305,960 302,959 299,964 296,963 293,967 290,967 287,962 284,964 281,967 278,965 275,965 272,969 269,965 266,965 263,967 260,967 257,967 254,966 251,968 248,968 244,966 242,969 239,968 235,965 232,966 229,962 226,963 223,965 220,962 217,965 214,964 211,962" fill="url(#s43)" stroke="url(#s43)" stroke-width=".7"/>
<polygon points="205,973 207,971 211,975 213,970 217,970 220,972 223,973 226,974 229,974 232,976 235,976 238,978 241,975 244,974 247,972 250,974 253,976 256,973 259,973 263,973 266,979 269,975 272,975 275,973 278,973 281,972 284,972 287,975 290,972 293,970 297,972 300,970 303,972 306,962 309,959 312,962 315,956 318,941 321,930 324,918 327,906 329,887 332,870 335,850 338,838 341,821 344,821 348,822 351,838 355,858 358,878 362,904 365,922 369,938 372,954 375,961 379,972 382,972 385,978 388,981 391,977 395,971 398,964 401,957 404,942 407,921 411,894 414,865 417,830 421,801 424,776 427,751 431,742 434,749 437,771 441,796 444,838 447,878 450,912 453,946 456,969 459,995 463,1007 466,1024 469,1035 472,1041 475,1050 478,1055 481,1057 485,1060 488,1063 491,1063 494,1062 498,1066 501,1065 504,1067 507,1066 511,1071 514,1071 517,1073 520,1069 524,1072 527,1072 530,1074 533,1077 537,1077 540,1076 543,1077 546,1078 550,1084 553,1079 556,1081 560,1077 563,1079 566,1081 569,1083 571,1067 568,1069 565,1067 561,1072 558,1074 555,1073 551,1076 548,1075 545,1065 542,1071 538,1071 535,1067 532,1067 529,1064 525,1066 522,1066 519,1071 516,1065 512,1064 509,1065 506,1061 503,1060 500,1062 496,1058 493,1058 490,1055 487,1053 484,1051 480,1046 477,1044 474,1038 471,1030 468,1019 465,1007 462,991 458,971 455,948 452,912 449,874 446,840 443,796 440,771 437,744 433,740 430,745 426,768 423,794 420,825 416,858 413,887 410,912 407,934 404,953 400,960 397,967 394,972 391,974 388,974 384,971 381,968 378,962 375,945 371,936 368,920 365,899 361,877 358,859 354,835 351,821 347,820 344,815 341,831 338,845 335,866 332,883 329,899 327,914 324,927 321,936 318,948 315,958 312,955 309,959 306,964 303,965 299,963 296,968 293,967 290,970 287,970 284,967 281,968 278,971 275,969 272,970 269,971 266,969 263,969 260,970 257,971 253,969 250,969 247,970 244,975 241,973 238,975 235,971 232,969 229,969 226,972 223,965 220,969 217,965 214,968 211,966 208,968" fill="url(#s44)" stroke="url(#s44)" stroke-width=".7"/>
<polygon points="201,977 204,977 207,977 210,973 213,975 216,975 219,974 223,980 226,980 229,983 232,979 235,980 238,974 241,976 244,978 247,975 250,977 253,976 256,975 259,980 262,976 266,978 269,977 272,978 275,978 278,976 281,979 284,978 287,974 290,975 293,976 296,971 300,971 303,970 306,966 309,960 312,957 315,947 318,940 321,923 324,912 327,894 329,876 332,855 335,837 338,824 342,819 345,826 348,840 352,862 355,876 359,904 362,921 366,941 369,959 373,965 376,974 379,978 382,980 386,987 389,982 392,973 395,972 398,960 402,947 405,924 408,901 411,873 415,836 418,811 421,781 425,757 428,748 432,750 435,772 438,800 442,838 445,878 448,914 451,950 454,972 457,997 460,1013 463,1028 467,1039 470,1044 473,1053 476,1057 479,1061 483,1065 486,1067 489,1068 492,1067 496,1071 499,1071 502,1072 505,1070 509,1076 512,1078 515,1074 518,1074 522,1077 525,1074 528,1078 532,1080 535,1080 538,1080 541,1078 545,1082 548,1085 551,1083 555,1083 558,1082 561,1084 564,1087 568,1084 569,1083 566,1081 563,1079 560,1077 556,1081 553,1079 550,1084 546,1078 543,1077 540,1076 537,1077 533,1077 530,1074 527,1072 524,1072 520,1069 517,1073 514,1071 511,1071 507,1066 504,1067 501,1065 498,1066 494,1062 491,1063 488,1063 485,1060 481,1057 478,1055 475,1050 472,1041 469,1035 466,1024 463,1007 459,995 456,969 453,946 450,912 447,878 444,838 441,796 437,771 434,749 431,742 427,751 424,776 421,801 417,830 414,865 411,894 407,921 404,942 401,957 398,964 395,971 391,977 388,981 385,978 382,972 379,972 375,961 372,954 369,938 365,922 362,904 358,878 355,858 351,838 348,822 344,821 341,821 338,838 335,850 332,870 329,887 327,906 324,918 321,930 318,941 315,956 312,962 309,959 306,962 303,972 300,970 297,972 293,970 290,972 287,975 284,972 281,972 278,973 275,973 272,975 269,975 266,979 263,973 259,973 256,973 253,976 250,974 247,972 244,974 241,975 238,978 235,976 232,976 229,974 226,974 223,973 220,972 217,970 213,970 211,975 207,971 205,973" fill="url(#s45)" stroke="url(#s45)" stroke-width=".7"/>
<polygon points="197,978 201,979 204,981 207,977 210,976 213,979 216,976 219,980 222,984 225,984 228,982 231,985 234,982 237,981 241,981 244,982 247,978 250,983 253,977 256,983 259,983 262,981 265,980 269,982 272,981 275,984 278,979 281,983 284,981 287,981 290,980 294,978 297,977 300,972 303,972 306,965 309,963 312,957 315,942 318,932 321,915 324,897 327,883 329,858 332,844 335,830 339,826 342,829 346,848 349,865 353,883 356,911 360,931 363,946 367,958 370,968 373,979 377,984 380,988 383,990 386,987 389,983 393,977 396,965 399,954 402,925 406,903 409,875 412,843 415,816 419,785 422,758 426,754 429,753 433,773 436,806 439,840 442,883 446,917 449,956 452,976 455,1001 458,1018 461,1030 464,1042 468,1050 471,1059 474,1062 477,1063 480,1068 484,1071 487,1065 490,1076 493,1076 497,1074 500,1077 503,1073 507,1083 510,1081 513,1080 516,1081 520,1080 523,1083 526,1082 530,1082 533,1084 536,1085 540,1084 543,1091 546,1088 550,1089 553,1089 556,1088 559,1091 563,1096 566,1086 568,1084 564,1087 561,1084 558,1082 555,1083 551,1083 548,1085 545,1082 541,1078 538,1080 535,1080 532,1080 528,1078 525,1074 522,1077 518,1074 515,1074 512,1078 509,1076 505,1070 502,1072 499,1071 496,1071 492,1067 489,1068 486,1067 483,1065 479,1061 476,1057 473,1053 470,1044 467,1039 463,1028 460,1013 457,997 454,972 451,950 448,914 445,878 442,838 438,800 435,772 432,750 428,748 425,757 421,781 418,811 415,836 411,873 408,901 405,924 402,947 398,960 395,972 392,973 389,982 386,987 382,980 379,978 376,974 373,965 369,959 366,941 362,921 359,904 355,876 352,862 348,840 345,826 342,819 338,824 335,837 332,855 329,876 327,894 324,912 321,923 318,940 315,947 312,957 309,960 306,966 303,970 300,971 296,971 293,976 290,975 287,974 284,978 281,979 278,976 275,978 272,978 269,977 266,978 262,976 259,980 256,975 253,976 250,977 247,975 244,978 241,976 238,974 235,980 232,979 229,983 226,980 223,980 219,974 216,975 213,975 210,973 207,977 204,977 201,977" fill="url(#s46)" stroke="url(#s46)" stroke-width=".7"/>
<polygon points="194,984 197,984 200,981 203,980 206,984 209,983 212,978 216,987 219,987 222,986 225,985 228,986 231,987 234,984 237,987 240,986 243,985 247,986 250,983 253,985 256,985 259,985 262,986 265,984 269,986 272,983 275,985 278,990 281,982 284,984 287,986 291,985 294,982 297,977 300,975 303,969 306,965 309,959 312,948 315,936 318,920 321,904 324,890 326,862 329,849 332,836 336,829 339,836 343,853 346,872 350,887 354,919 357,934 360,952 364,960 367,975 371,980 374,995 377,993 380,992 384,990 387,985 390,983 393,969 397,952 400,932 403,912 406,881 410,851 413,820 416,789 420,764 423,754 427,751 430,779 433,810 437,845 440,885 443,922 446,957 449,979 453,1006 456,1025 459,1036 462,1046 465,1054 469,1062 472,1064 475,1067 478,1068 482,1070 485,1069 488,1077 491,1079 495,1079 498,1083 501,1082 505,1085 508,1084 511,1081 515,1087 518,1085 521,1087 525,1086 528,1086 531,1086 534,1091 538,1086 541,1097 544,1093 548,1095 551,1089 555,1093 558,1095 561,1094 565,1094 566,1086 563,1096 559,1091 556,1088 553,1089 550,1089 546,1088 543,1091 540,1084 536,1085 533,1084 530,1082 526,1082 523,1083 520,1080 516,1081 513,1080 510,1081 507,1083 503,1073 500,1077 497,1074 493,1076 490,1076 487,1065 484,1071 480,1068 477,1063 474,1062 471,1059 468,1050 464,1042 461,1030 458,1018 455,1001 452,976 449,956 446,917 442,883 439,840 436,806 433,773 429,753 426,754 422,758 419,785 415,816 412,843 409,875 406,903 402,925 399,954 396,965 393,977 389,983 386,987 383,990 380,988 377,984 373,979 370,968 367,958 363,946 360,931 356,911 353,883 349,865 346,848 342,829 339,826 335,830 332,844 329,858 327,883 324,897 321,915 318,932 315,942 312,957 309,963 306,965 303,972 300,972 297,977 294,978 290,980 287,981 284,981 281,983 278,979 275,984 272,981 269,982 265,980 262,981 259,983 256,983 253,977 250,983 247,978 244,982 241,981 237,981 234,982 231,985 228,982 225,984 222,984 219,980 216,976 213,979 210,976 207,977 204,981 201,979 197,978" fill="url(#s47)" stroke="url(#s47)" stroke-width=".7"/>
<polygon points="190,986 194,989 197,989 200,988 203,988 206,988 209,985 212,989 215,990 218,989 221,990 225,991 228,991 231,987 234,991 237,991 240,992 243,989 246,987 250,991 253,992 256,989 259,986 262,989 265,985 268,987 272,989 275,988 278,991 281,989 284,990 287,989 291,986 293,979 297,979 300,973 303,968 306,962 309,952 312,946 315,925 318,908 321,889 323,869 326,853 329,837 333,836 336,837 340,859 343,876 347,893 351,922 354,937 358,956 361,968 364,977 368,985 371,995 374,998 378,996 381,996 384,990 388,991 391,974 394,960 397,941 400,917 404,888 407,855 410,823 414,795 417,769 421,757 424,757 428,787 431,814 434,852 438,889 441,923 444,961 447,983 450,1008 454,1026 457,1042 460,1050 463,1060 466,1066 470,1071 473,1072 476,1072 480,1076 483,1074 486,1083 489,1083 493,1083 496,1089 499,1086 503,1091 506,1094 509,1090 513,1085 516,1091 519,1090 523,1091 526,1087 529,1094 533,1094 536,1093 539,1098 543,1094 546,1093 549,1097 553,1098 556,1100 559,1100 563,1099 565,1094 561,1094 558,1095 555,1093 551,1089 548,1095 544,1093 541,1097 538,1086 534,1091 531,1086 528,1086 525,1086 521,1087 518,1085 515,1087 511,1081 508,1084 505,1085 501,1082 498,1083 495,1079 491,1079 488,1077 485,1069 482,1070 478,1068 475,1067 472,1064 469,1062 465,1054 462,1046 459,1036 456,1025 453,1006 449,979 446,957 443,922 440,885 437,845 433,810 430,779 427,751 423,754 420,764 416,789 413,820 410,851 406,881 403,912 400,932 397,952 393,969 390,983 387,985 384,990 380,992 377,993 374,995 371,980 367,975 364,960 360,952 357,934 354,919 350,887 346,872 343,853 339,836 336,829 332,836 329,849 326,862 324,890 321,904 318,920 315,936 312,948 309,959 306,965 303,969 300,975 297,977 294,982 291,985 287,986 284,984 281,982 278,990 275,985 272,983 269,986 265,984 262,986 259,985 256,985 253,985 250,983 247,986 243,985 240,986 237,987 234,984 231,987 228,986 225,985 222,986 219,987 216,987 212,978 209,983 206,984 203,980 200,981 197,984 194,984" fill="url(#s48)" stroke="url(#s48)" stroke-width=".7"/>
<polygon points="187,990 190,990 193,990 196,987 199,991 202,991 205,990 208,991 212,994 215,996 218,993 221,994 224,1000 227,993 231,995 234,997 237,996 240,993 243,990 246,997 249,991 252,992 256,993 259,993 262,991 265,993 268,992 272,993 275,994 278,991 281,994 284,989 287,991 290,988 294,983 297,974 300,976 303,967 306,959 309,947 312,932 315,914 318,896 320,875 323,859 327,847 330,843 333,847 337,866 340,879 344,895 348,924 351,943 355,960 358,975 362,984 365,992 368,998 372,997 375,1000 378,1000 382,997 385,993 388,978 391,965 395,946 398,922 401,890 404,861 408,831 411,799 414,772 418,763 421,760 425,788 428,817 432,858 435,895 438,933 442,967 445,991 448,1012 451,1032 454,1045 458,1055 461,1065 464,1070 467,1076 471,1079 474,1076 477,1082 481,1081 484,1086 487,1088 491,1088 494,1090 497,1089 501,1098 504,1093 507,1095 511,1093 514,1096 517,1094 521,1100 524,1097 527,1096 531,1100 534,1098 537,1100 541,1100 544,1103 548,1101 551,1102 554,1105 558,1101 561,1102 563,1099 559,1100 556,1100 553,1098 549,1097 546,1093 543,1094 539,1098 536,1093 533,1094 529,1094 526,1087 523,1091 519,1090 516,1091 513,1085 509,1090 506,1094 503,1091 499,1086 496,1089 493,1083 489,1083 486,1083 483,1074 480,1076 476,1072 473,1072 470,1071 466,1066 463,1060 460,1050 457,1042 454,1026 450,1008 447,983 444,961 441,923 438,889 434,852 431,814 428,787 424,757 421,757 417,769 414,795 410,823 407,855 404,888 400,917 397,941 394,960 391,974 388,991 384,990 381,996 378,996 374,998 371,995 368,985 364,977 361,968 358,956 354,937 351,922 347,893 343,876 340,859 336,837 333,836 329,837 326,853 323,869 321,889 318,908 315,925 312,946 309,952 306,962 303,968 300,973 297,979 293,979 291,986 287,989 284,990 281,989 278,991 275,988 272,989 268,987 265,985 262,989 259,986 256,989 253,992 250,991 246,987 243,989 240,992 237,991 234,991 231,987 228,991 225,991 221,990 218,989 215,990 212,989 209,985 206,988 203,988 200,988 197,989 194,989 190,986" fill="url(#s49)" stroke="url(#s49)" stroke-width=".7"/>
<polygon points="183,994 186,998 189,995 193,997 196,996 199,997 202,996 205,998 208,999 211,995 214,998 217,995 221,1001 224,997 227,1001 230,1003 233,1001 237,999 240,996 243,998 246,999 249,998 252,997 256,1001 259,998 262,996 265,995 268,999 271,996 275,994 278,999 281,993 284,995 287,992 290,987 294,983 297,978 300,971 303,963 306,952 309,934 312,919 314,901 317,878 320,863 323,851 327,850 330,851 334,868 337,884 341,903 345,929 348,948 352,964 355,974 359,989 362,997 366,1003 369,1004 372,1004 376,1005 379,1000 382,994 385,982 389,968 392,952 395,927 398,897 402,866 405,834 408,802 412,780 415,767 419,769 422,793 426,826 429,862 433,896 436,939 439,971 442,995 446,1019 449,1034 452,1052 455,1059 459,1069 462,1075 465,1079 469,1081 472,1084 475,1090 479,1084 482,1093 485,1093 489,1091 492,1096 495,1093 499,1101 502,1100 505,1100 509,1098 512,1099 515,1099 519,1099 522,1101 526,1099 529,1101 532,1104 536,1107 539,1105 542,1107 546,1106 549,1108 553,1107 556,1107 559,1107 561,1102 558,1101 554,1105 551,1102 548,1101 544,1103 541,1100 537,1100 534,1098 531,1100 527,1096 524,1097 521,1100 517,1094 514,1096 511,1093 507,1095 504,1093 501,1098 497,1089 494,1090 491,1088 487,1088 484,1086 481,1081 477,1082 474,1076 471,1079 467,1076 464,1070 461,1065 458,1055 454,1045 451,1032 448,1012 445,991 442,967 438,933 435,895 432,858 428,817 425,788 421,760 418,763 414,772 411,799 408,831 404,861 401,890 398,922 395,946 391,965 388,978 385,993 382,997 378,1000 375,1000 372,997 368,998 365,992 362,984 358,975 355,960 351,943 348,924 344,895 340,879 337,866 333,847 330,843 327,847 323,859 320,875 318,896 315,914 312,932 309,947 306,959 303,967 300,976 297,974 294,983 290,988 287,991 284,989 281,994 278,991 275,994 272,993 268,992 265,993 262,991 259,993 256,993 252,992 249,991 246,997 243,990 240,993 237,996 234,997 231,995 227,993 224,1000 221,994 218,993 215,996 212,994 208,991 205,990 202,991 199,991 196,987 193,990 190,990 187,990" fill="url(#s50)" stroke="url(#s50)" stroke-width=".7"/>
<polygon points="179,1000 183,1000 186,1000 189,1001 192,1000 195,996 198,1000 202,1003 205,1005 208,1003 211,1001 214,1002 217,1005 220,1003 224,1006 227,1001 230,1007 233,1002 236,1001 239,1002 243,1004 246,1001 249,1001 252,1001 255,1003 259,1001 262,998 265,998 268,1000 271,999 275,999 278,998 281,1002 284,994 287,994 290,988 294,983 297,975 300,963 303,953 305,938 308,923 311,902 314,881 317,868 320,856 324,849 327,854 331,868 334,890 338,906 342,932 346,953 349,970 353,981 356,991 360,1003 363,1006 366,1007 370,1010 373,1012 376,1004 379,1001 383,985 386,972 389,956 392,931 396,901 399,870 402,837 406,808 409,784 413,771 416,772 420,793 423,832 427,869 430,908 433,944 437,973 440,1005 443,1028 447,1037 450,1056 453,1068 456,1072 460,1081 463,1083 466,1086 470,1088 473,1091 476,1094 480,1097 483,1098 486,1102 490,1101 493,1101 496,1105 500,1107 503,1108 507,1100 510,1104 513,1103 517,1107 520,1104 524,1103 527,1106 530,1108 534,1108 537,1113 540,1114 544,1112 547,1111 551,1110 554,1110 558,1112 559,1107 556,1107 553,1107 549,1108 546,1106 542,1107 539,1105 536,1107 532,1104 529,1101 526,1099 522,1101 519,1099 515,1099 512,1099 509,1098 505,1100 502,1100 499,1101 495,1093 492,1096 489,1091 485,1093 482,1093 479,1084 475,1090 472,1084 469,1081 465,1079 462,1075 459,1069 455,1059 452,1052 449,1034 446,1019 442,995 439,971 436,939 433,896 429,862 426,826 422,793 419,769 415,767 412,780 408,802 405,834 402,866 398,897 395,927 392,952 389,968 385,982 382,994 379,1000 376,1005 372,1004 369,1004 366,1003 362,997 359,989 355,974 352,964 348,948 345,929 341,903 337,884 334,868 330,851 327,850 323,851 320,863 317,878 314,901 312,919 309,934 306,952 303,963 300,971 297,978 294,983 290,987 287,992 284,995 281,993 278,999 275,994 271,996 268,999 265,995 262,996 259,998 256,1001 252,997 249,998 246,999 243,998 240,996 237,999 233,1001 230,1003 227,1001 224,997 221,1001 217,995 214,998 211,995 208,999 205,998 202,996 199,997 196,996 193,997 189,995 186,998 183,994" fill="url(#s51)" stroke="url(#s51)" stroke-width=".7"/>
<polygon points="176,1002 179,1003 182,1004 185,1005 188,1006 191,1004 195,1007 198,1004 201,1012 204,1006 207,1002 211,1009 214,1006 217,1008 220,1007 223,1004 226,1007 230,1005 233,1006 236,1007 239,1005 242,1008 245,1002 249,1007 252,1007 255,1002 258,1006 262,1004 265,1006 268,1004 271,1004 275,1003 278,1004 281,994 284,997 287,991 290,987 293,979 296,968 299,960 302,943 305,927 308,906 311,890 314,875 317,864 321,859 324,863 328,875 331,895 335,915 339,938 343,957 346,976 350,985 353,997 357,1008 360,1011 363,1012 367,1014 370,1014 373,1005 377,1004 380,991 383,978 386,962 390,935 393,908 396,877 400,845 403,812 406,790 410,779 414,776 417,805 421,841 424,875 427,914 431,951 434,976 438,1012 441,1033 444,1046 447,1060 451,1074 454,1078 457,1084 461,1091 464,1092 467,1090 471,1095 474,1095 477,1103 481,1103 484,1107 488,1107 491,1105 494,1112 498,1107 501,1113 505,1108 508,1108 511,1105 515,1111 518,1112 522,1111 525,1109 528,1113 532,1114 535,1115 539,1113 542,1111 546,1116 549,1115 553,1115 556,1116 558,1112 554,1110 551,1110 547,1111 544,1112 540,1114 537,1113 534,1108 530,1108 527,1106 524,1103 520,1104 517,1107 513,1103 510,1104 507,1100 503,1108 500,1107 496,1105 493,1101 490,1101 486,1102 483,1098 480,1097 476,1094 473,1091 470,1088 466,1086 463,1083 460,1081 456,1072 453,1068 450,1056 447,1037 443,1028 440,1005 437,973 433,944 430,908 427,869 423,832 420,793 416,772 413,771 409,784 406,808 402,837 399,870 396,901 392,931 389,956 386,972 383,985 379,1001 376,1004 373,1012 370,1010 366,1007 363,1006 360,1003 356,991 353,981 349,970 346,953 342,932 338,906 334,890 331,868 327,854 324,849 320,856 317,868 314,881 311,902 308,923 305,938 303,953 300,963 297,975 294,983 290,988 287,994 284,994 281,1002 278,998 275,999 271,999 268,1000 265,998 262,998 259,1001 255,1003 252,1001 249,1001 246,1001 243,1004 239,1002 236,1001 233,1002 230,1007 227,1001 224,1006 220,1003 217,1005 214,1002 211,1001 208,1003 205,1005 202,1003 198,1000 195,996 192,1000 189,1001 186,1000 183,1000 179,1000" fill="url(#s52)" stroke="url(#s52)" stroke-width=".7"/>
<polygon points="172,1010 175,1008 178,1007 181,1007 185,1010 188,1010 191,1014 194,1008 197,1012 201,1011 204,1008 207,1010 210,1010 213,1012 216,1011 220,1009 223,1009 226,1010 229,1012 232,1006 236,1009 239,1008 242,1009 245,1010 249,1013 252,1010 255,1009 258,1005 262,1009 265,1006 268,1012 271,1003 274,1007 278,1002 281,1001 284,996 287,992 290,982 293,971 296,965 299,946 302,932 305,913 308,894 311,879 314,871 317,865 321,868 325,884 328,899 332,922 336,945 340,964 343,981 347,996 350,1003 354,1015 357,1017 361,1020 364,1019 367,1019 371,1009 374,1011 377,997 380,986 384,963 387,940 390,910 394,886 397,845 400,816 404,794 407,787 411,783 414,807 418,850 421,881 425,920 428,955 432,985 435,1016 438,1036 442,1054 445,1063 448,1079 452,1082 455,1089 458,1097 462,1095 465,1096 469,1100 472,1101 475,1105 479,1110 482,1108 485,1109 489,1108 492,1113 496,1111 499,1114 503,1112 506,1112 509,1115 513,1118 516,1114 520,1116 523,1117 527,1117 530,1118 533,1120 537,1120 540,1120 544,1118 547,1123 551,1121 554,1121 556,1116 553,1115 549,1115 546,1116 542,1111 539,1113 535,1115 532,1114 528,1113 525,1109 522,1111 518,1112 515,1111 511,1105 508,1108 505,1108 501,1113 498,1107 494,1112 491,1105 488,1107 484,1107 481,1103 477,1103 474,1095 471,1095 467,1090 464,1092 461,1091 457,1084 454,1078 451,1074 447,1060 444,1046 441,1033 438,1012 434,976 431,951 427,914 424,875 421,841 417,805 414,776 410,779 406,790 403,812 400,845 396,877 393,908 390,935 386,962 383,978 380,991 377,1004 373,1005 370,1014 367,1014 363,1012 360,1011 357,1008 353,997 350,985 346,976 343,957 339,938 335,915 331,895 328,875 324,863 321,859 317,864 314,875 311,890 308,906 305,927 302,943 299,960 296,968 293,979 290,987 287,991 284,997 281,994 278,1004 275,1003 271,1004 268,1004 265,1006 262,1004 258,1006 255,1002 252,1007 249,1007 245,1002 242,1008 239,1005 236,1007 233,1006 230,1005 226,1007 223,1004 220,1007 217,1008 214,1006 211,1009 207,1002 204,1006 201,1012 198,1004 195,1007 191,1004 188,1006 185,1005 182,1004 179,1003 176,1002" fill="url(#s53)" stroke="url(#s53)" stroke-width=".7"/>
<polygon points="168,1015 171,1012 174,1011 178,1012 181,1014 184,1010 187,1014 190,1011 194,1015 197,1016 200,1009 203,1015 206,1014 210,1017 213,1017 216,1015 219,1015 223,1019 226,1015 229,1011 232,1013 235,1010 239,1017 242,1017 245,1017 248,1013 252,1014 255,1012 258,1014 261,1010 265,1012 268,1010 271,1012 274,1004 277,1004 281,1001 284,995 287,991 290,978 293,969 296,954 299,937 302,919 305,902 308,885 311,876 314,871 318,874 322,889 325,907 329,929 333,949 337,968 340,991 344,1000 347,1008 351,1019 354,1021 358,1024 361,1027 364,1024 368,1018 371,1010 374,1003 378,988 381,970 384,949 387,917 391,882 394,851 397,821 401,798 404,788 408,789 412,813 415,851 419,888 422,928 426,960 429,996 433,1021 436,1041 439,1059 443,1066 446,1085 449,1088 453,1095 456,1102 460,1100 463,1103 466,1106 470,1109 473,1109 476,1114 480,1111 483,1110 487,1112 490,1118 494,1119 497,1117 500,1116 504,1119 507,1123 511,1118 514,1119 518,1119 521,1123 525,1125 528,1124 531,1124 535,1125 538,1126 542,1123 545,1127 549,1125 552,1127 554,1121 551,1121 547,1123 544,1118 540,1120 537,1120 533,1120 530,1118 527,1117 523,1117 520,1116 516,1114 513,1118 509,1115 506,1112 503,1112 499,1114 496,1111 492,1113 489,1108 485,1109 482,1108 479,1110 475,1105 472,1101 469,1100 465,1096 462,1095 458,1097 455,1089 452,1082 448,1079 445,1063 442,1054 438,1036 435,1016 432,985 428,955 425,920 421,881 418,850 414,807 411,783 407,787 404,794 400,816 397,845 394,886 390,910 387,940 384,963 380,986 377,997 374,1011 371,1009 367,1019 364,1019 361,1020 357,1017 354,1015 350,1003 347,996 343,981 340,964 336,945 332,922 328,899 325,884 321,868 317,865 314,871 311,879 308,894 305,913 302,932 299,946 296,965 293,971 290,982 287,992 284,996 281,1001 278,1002 274,1007 271,1003 268,1012 265,1006 262,1009 258,1005 255,1009 252,1010 249,1013 245,1010 242,1009 239,1008 236,1009 232,1006 229,1012 226,1010 223,1009 220,1009 216,1011 213,1012 210,1010 207,1010 204,1008 201,1011 197,1012 194,1008 191,1014 188,1010 185,1010 181,1007 178,1007 175,1008 172,1010" fill="url(#s54)" stroke="url(#s54)" stroke-width=".7"/>
<polygon points="164,1016 167,1015 171,1015 174,1019 177,1018 180,1014 183,1016 187,1017 190,1019 193,1019 196,1015 199,1017 203,1019 206,1020 209,1024 213,1020 216,1020 219,1022 222,1018 225,1019 229,1024 232,1016 235,1022 239,1022 242,1021 245,1017 248,1018 252,1019 255,1021 258,1019 261,1016 264,1015 268,1016 271,1013 274,1012 277,1007 280,998 284,998 287,979 290,975 293,958 296,940 299,925 302,904 305,893 308,881 311,872 315,879 318,894 322,911 326,934 330,950 334,976 337,993 341,1006 344,1014 348,1024 351,1030 355,1026 358,1031 362,1027 365,1024 368,1019 372,1008 375,996 378,975 381,953 385,919 388,892 391,856 395,824 398,805 402,792 405,796 409,821 413,852 416,896 420,932 423,968 427,999 430,1024 433,1049 437,1066 440,1076 444,1089 447,1094 450,1103 454,1108 457,1104 461,1111 464,1109 467,1114 471,1117 474,1114 478,1114 481,1120 485,1117 488,1121 491,1123 495,1122 498,1125 502,1124 505,1129 509,1126 512,1128 516,1126 519,1131 523,1125 526,1126 530,1128 533,1131 537,1130 540,1130 543,1132 547,1130 550,1134 552,1127 549,1125 545,1127 542,1123 538,1126 535,1125 531,1124 528,1124 525,1125 521,1123 518,1119 514,1119 511,1118 507,1123 504,1119 500,1116 497,1117 494,1119 490,1118 487,1112 483,1110 480,1111 476,1114 473,1109 470,1109 466,1106 463,1103 460,1100 456,1102 453,1095 449,1088 446,1085 443,1066 439,1059 436,1041 433,1021 429,996 426,960 422,928 419,888 415,851 412,813 408,789 404,788 401,798 397,821 394,851 391,882 387,917 384,949 381,970 378,988 374,1003 371,1010 368,1018 364,1024 361,1027 358,1024 354,1021 351,1019 347,1008 344,1000 340,991 337,968 333,949 329,929 325,907 322,889 318,874 314,871 311,876 308,885 305,902 302,919 299,937 296,954 293,969 290,978 287,991 284,995 281,1001 277,1004 274,1004 271,1012 268,1010 265,1012 261,1010 258,1014 255,1012 252,1014 248,1013 245,1017 242,1017 239,1017 235,1010 232,1013 229,1011 226,1015 223,1019 219,1015 216,1015 213,1017 210,1017 206,1014 203,1015 200,1009 197,1016 194,1015 190,1011 187,1014 184,1010 181,1014 178,1012 174,1011 171,1012 168,1015" fill="url(#s55)" stroke="url(#s55)" stroke-width=".7"/>
<polygon points="160,1021 163,1019 167,1021 170,1022 173,1021 176,1021 180,1023 183,1023 186,1025 189,1024 193,1023 196,1022 199,1022 202,1022 206,1026 209,1027 212,1024 215,1026 218,1022 222,1027 225,1027 228,1021 232,1029 235,1026 238,1022 241,1022 245,1022 248,1026 251,1025 255,1022 258,1023 261,1021 264,1018 268,1015 271,1016 274,1011 277,999 280,998 283,988 287,982 289,964 292,944 295,929 298,910 301,890 305,886 308,880 311,882 315,900 319,919 323,942 327,961 331,982 334,996 338,1010 341,1019 345,1030 349,1036 352,1033 355,1037 359,1031 362,1030 365,1023 369,1013 372,1003 375,980 379,956 382,928 385,895 388,862 392,827 395,813 399,799 403,807 406,830 410,861 413,902 417,941 421,979 424,1006 427,1036 431,1055 434,1070 438,1082 441,1094 445,1100 448,1108 451,1113 455,1111 458,1117 462,1115 465,1119 469,1118 472,1119 476,1118 479,1122 482,1119 486,1121 489,1127 493,1125 496,1128 500,1132 503,1128 507,1131 510,1133 514,1131 517,1133 521,1133 524,1131 528,1135 531,1135 535,1131 538,1138 542,1130 545,1136 549,1140 550,1134 547,1130 543,1132 540,1130 537,1130 533,1131 530,1128 526,1126 523,1125 519,1131 516,1126 512,1128 509,1126 505,1129 502,1124 498,1125 495,1122 491,1123 488,1121 485,1117 481,1120 478,1114 474,1114 471,1117 467,1114 464,1109 461,1111 457,1104 454,1108 450,1103 447,1094 444,1089 440,1076 437,1066 433,1049 430,1024 427,999 423,968 420,932 416,896 413,852 409,821 405,796 402,792 398,805 395,824 391,856 388,892 385,919 381,953 378,975 375,996 372,1008 368,1019 365,1024 362,1027 358,1031 355,1026 351,1030 348,1024 344,1014 341,1006 337,993 334,976 330,950 326,934 322,911 318,894 315,879 311,872 308,881 305,893 302,904 299,925 296,940 293,958 290,975 287,979 284,998 280,998 277,1007 274,1012 271,1013 268,1016 264,1015 261,1016 258,1019 255,1021 252,1019 248,1018 245,1017 242,1021 239,1022 235,1022 232,1016 229,1024 225,1019 222,1018 219,1022 216,1020 213,1020 209,1024 206,1020 203,1019 199,1017 196,1015 193,1019 190,1019 187,1017 183,1016 180,1014 177,1018 174,1019 171,1015 167,1015 164,1016" fill="url(#s56)" stroke="url(#s56)" stroke-width=".7"/>
<polygon points="156,1023 159,1023 163,1022 166,1028 169,1026 173,1027 176,1027 179,1026 182,1030 186,1027 189,1026 192,1023 195,1023 199,1026 202,1031 205,1028 208,1028 212,1032 215,1027 218,1029 222,1032 225,1027 228,1031 231,1031 235,1028 238,1026 241,1029 245,1032 248,1032 251,1025 254,1027 258,1028 261,1023 264,1020 267,1018 271,1015 274,1006 277,1002 280,995 283,983 286,965 289,949 292,927 295,914 298,899 301,887 305,884 308,890 312,907 316,926 320,947 324,968 327,984 331,1002 335,1020 339,1029 342,1036 346,1039 349,1039 352,1043 356,1035 359,1036 362,1029 366,1017 369,1004 372,980 376,963 379,933 382,902 386,864 389,837 392,815 396,805 400,817 403,842 407,868 411,911 414,953 418,984 421,1014 425,1043 428,1058 432,1081 435,1088 439,1096 442,1105 446,1112 449,1117 452,1116 456,1123 459,1121 463,1122 466,1120 470,1125 473,1122 477,1128 480,1128 484,1128 487,1128 491,1131 494,1134 498,1134 501,1134 505,1134 508,1140 512,1133 515,1137 519,1136 522,1136 526,1139 529,1141 533,1141 536,1140 540,1141 543,1142 547,1143 549,1140 545,1136 542,1130 538,1138 535,1131 531,1135 528,1135 524,1131 521,1133 517,1133 514,1131 510,1133 507,1131 503,1128 500,1132 496,1128 493,1125 489,1127 486,1121 482,1119 479,1122 476,1118 472,1119 469,1118 465,1119 462,1115 458,1117 455,1111 451,1113 448,1108 445,1100 441,1094 438,1082 434,1070 431,1055 427,1036 424,1006 421,979 417,941 413,902 410,861 406,830 403,807 399,799 395,813 392,827 388,862 385,895 382,928 379,956 375,980 372,1003 369,1013 365,1023 362,1030 359,1031 355,1037 352,1033 349,1036 345,1030 341,1019 338,1010 334,996 331,982 327,961 323,942 319,919 315,900 311,882 308,880 305,886 301,890 298,910 295,929 292,944 289,964 287,982 283,988 280,998 277,999 274,1011 271,1016 268,1015 264,1018 261,1021 258,1023 255,1022 251,1025 248,1026 245,1022 241,1022 238,1022 235,1026 232,1029 228,1021 225,1027 222,1027 218,1022 215,1026 212,1024 209,1027 206,1026 202,1022 199,1022 196,1022 193,1023 189,1024 186,1025 183,1023 180,1023 176,1021 173,1021 170,1022 167,1021 163,1019 160,1021" fill="url(#s57)" stroke="url(#s57)" stroke-width=".7"/>
<polygon points="152,1030 155,1026 159,1024 162,1030 166,1033 169,1030 172,1029 175,1033 178,1032 182,1033 185,1030 188,1025 192,1032 195,1030 198,1036 201,1033 205,1033 208,1030 211,1031 215,1033 218,1033 221,1034 224,1033 228,1035 231,1033 234,1031 238,1034 241,1034 244,1035 247,1027 251,1028 254,1030 258,1030 261,1026 264,1021 267,1020 270,1009 274,1005 277,999 280,987 283,968 286,955 289,936 292,919 295,906 298,893 301,888 305,898 309,912 313,928 317,951 321,974 324,993 328,1008 332,1021 335,1031 339,1040 343,1044 346,1045 349,1044 353,1043 356,1039 360,1034 363,1021 366,1012 369,983 373,966 376,937 379,906 383,871 386,844 390,823 393,817 397,827 401,847 404,879 408,920 412,963 415,991 419,1024 422,1050 426,1062 429,1086 433,1093 436,1104 440,1113 443,1118 447,1123 450,1122 453,1123 457,1125 460,1127 464,1125 467,1128 471,1133 474,1134 478,1132 481,1134 485,1135 488,1137 492,1137 495,1139 499,1139 502,1141 506,1141 510,1138 513,1144 517,1141 520,1143 524,1147 527,1146 531,1145 534,1146 538,1148 541,1146 545,1144 547,1143 543,1142 540,1141 536,1140 533,1141 529,1141 526,1139 522,1136 519,1136 515,1137 512,1133 508,1140 505,1134 501,1134 498,1134 494,1134 491,1131 487,1128 484,1128 480,1128 477,1128 473,1122 470,1125 466,1120 463,1122 459,1121 456,1123 452,1116 449,1117 446,1112 442,1105 439,1096 435,1088 432,1081 428,1058 425,1043 421,1014 418,984 414,953 411,911 407,868 403,842 400,817 396,805 392,815 389,837 386,864 382,902 379,933 376,963 372,980 369,1004 366,1017 362,1029 359,1036 356,1035 352,1043 349,1039 346,1039 342,1036 339,1029 335,1020 331,1002 327,984 324,968 320,947 316,926 312,907 308,890 305,884 301,887 298,899 295,914 292,927 289,949 286,965 283,983 280,995 277,1002 274,1006 271,1015 267,1018 264,1020 261,1023 258,1028 254,1027 251,1025 248,1032 245,1032 241,1029 238,1026 235,1028 231,1031 228,1031 225,1027 222,1032 218,1029 215,1027 212,1032 208,1028 205,1028 202,1031 199,1026 195,1023 192,1023 189,1026 186,1027 182,1030 179,1026 176,1027 173,1027 169,1026 166,1028 163,1022 159,1023 156,1023" fill="url(#s58)" stroke="url(#s58)" stroke-width=".7"/>
<polygon points="148,1031 152,1032 155,1035 158,1036 162,1039 165,1039 168,1037 171,1036 175,1038 178,1033 181,1033 184,1035 188,1036 191,1037 194,1036 198,1035 201,1035 204,1035 207,1036 211,1037 214,1039 217,1034 221,1037 224,1039 228,1041 231,1035 234,1035 237,1037 241,1036 244,1035 247,1035 251,1035 254,1033 257,1031 260,1026 264,1026 267,1017 270,1009 273,1003 276,994 279,976 282,960 285,939 288,922 291,904 295,900 298,896 302,905 306,919 309,935 313,959 317,982 321,997 325,1020 329,1029 332,1038 336,1046 339,1051 343,1051 346,1051 350,1049 353,1045 357,1044 360,1027 363,1012 367,994 370,971 373,944 376,910 380,879 383,854 387,826 390,822 394,833 398,857 402,889 405,929 409,970 413,998 416,1032 420,1056 423,1072 427,1090 430,1098 434,1108 437,1115 441,1123 444,1124 448,1128 451,1128 455,1129 458,1131 462,1129 465,1138 469,1136 472,1138 476,1142 479,1139 483,1139 486,1143 490,1144 493,1143 497,1145 500,1146 504,1144 507,1143 511,1149 515,1145 518,1151 522,1147 525,1146 529,1148 532,1150 536,1154 539,1153 543,1150 545,1144 541,1146 538,1148 534,1146 531,1145 527,1146 524,1147 520,1143 517,1141 513,1144 510,1138 506,1141 502,1141 499,1139 495,1139 492,1137 488,1137 485,1135 481,1134 478,1132 474,1134 471,1133 467,1128 464,1125 460,1127 457,1125 453,1123 450,1122 447,1123 443,1118 440,1113 436,1104 433,1093 429,1086 426,1062 422,1050 419,1024 415,991 412,963 408,920 404,879 401,847 397,827 393,817 390,823 386,844 383,871 379,906 376,937 373,966 369,983 366,1012 363,1021 360,1034 356,1039 353,1043 349,1044 346,1045 343,1044 339,1040 335,1031 332,1021 328,1008 324,993 321,974 317,951 313,928 309,912 305,898 301,888 298,893 295,906 292,919 289,936 286,955 283,968 280,987 277,999 274,1005 270,1009 267,1020 264,1021 261,1026 258,1030 254,1030 251,1028 247,1027 244,1035 241,1034 238,1034 234,1031 231,1033 228,1035 224,1033 221,1034 218,1033 215,1033 211,1031 208,1030 205,1033 201,1033 198,1036 195,1030 192,1032 188,1025 185,1030 182,1033 178,1032 175,1033 172,1029 169,1030 166,1033 162,1030 159,1024 155,1026 152,1030" fill="url(#s59)" stroke="url(#s59)" stroke-width=".7"/>
<polygon points="144,1034 147,1037 151,1040 154,1040 157,1040 161,1039 164,1039 167,1039 171,1042 174,1039 177,1042 180,1038 184,1040 187,1041 190,1041 194,1041 197,1043 200,1041 204,1037 207,1039 210,1044 214,1044 217,1041 220,1044 224,1041 227,1035 230,1039 234,1041 237,1040 241,1042 244,1042 247,1038 250,1038 254,1039 257,1030 260,1033 263,1020 267,1014 270,1006 273,993 276,984 279,963 282,946 285,928 288,908 291,906 295,901 298,909 302,924 306,940 310,967 314,985 318,1000 322,1021 326,1038 329,1043 333,1049 336,1051 340,1055 343,1056 347,1055 350,1049 354,1049 357,1033 360,1015 364,997 367,975 370,953 373,917 377,888 380,858 384,837 387,829 391,838 395,863 399,897 402,936 406,975 410,1008 413,1039 417,1059 421,1080 424,1096 428,1106 431,1113 435,1121 438,1132 442,1130 445,1132 449,1134 452,1136 456,1136 459,1134 463,1140 466,1140 470,1142 473,1150 477,1144 480,1145 484,1146 487,1145 491,1148 495,1145 498,1148 502,1151 505,1153 509,1154 512,1152 516,1153 520,1152 523,1154 527,1155 530,1156 534,1161 537,1160 541,1157 543,1150 539,1153 536,1154 532,1150 529,1148 525,1146 522,1147 518,1151 515,1145 511,1149 507,1143 504,1144 500,1146 497,1145 493,1143 490,1144 486,1143 483,1139 479,1139 476,1142 472,1138 469,1136 465,1138 462,1129 458,1131 455,1129 451,1128 448,1128 444,1124 441,1123 437,1115 434,1108 430,1098 427,1090 423,1072 420,1056 416,1032 413,998 409,970 405,929 402,889 398,857 394,833 390,822 387,826 383,854 380,879 376,910 373,944 370,971 367,994 363,1012 360,1027 357,1044 353,1045 350,1049 346,1051 343,1051 339,1051 336,1046 332,1038 329,1029 325,1020 321,997 317,982 313,959 309,935 306,919 302,905 298,896 295,900 291,904 288,922 285,939 282,960 279,976 276,994 273,1003 270,1009 267,1017 264,1026 260,1026 257,1031 254,1033 251,1035 247,1035 244,1035 241,1036 237,1037 234,1035 231,1035 228,1041 224,1039 221,1037 217,1034 214,1039 211,1037 207,1036 204,1035 201,1035 198,1035 194,1036 191,1037 188,1036 184,1035 181,1033 178,1033 175,1038 171,1036 168,1037 165,1039 162,1039 158,1036 155,1035 152,1032 148,1031" fill="url(#s60)" stroke="url(#s60)" stroke-width=".7"/>
<polygon points="140,1036 143,1040 147,1044 150,1040 153,1045 157,1044 160,1043 163,1041 167,1044 170,1046 173,1046 177,1046 180,1045 183,1046 187,1045 190,1046 193,1046 197,1046 200,1048 203,1045 207,1051 210,1052 213,1047 217,1049 220,1046 223,1041 227,1043 230,1046 233,1046 237,1045 240,1046 244,1043 247,1044 250,1041 254,1040 257,1037 260,1026 263,1019 266,1009 269,993 272,982 275,967 278,949 281,932 284,914 288,906 291,911 295,917 299,929 303,949 307,974 311,990 315,1012 319,1029 322,1039 326,1049 330,1053 333,1053 337,1061 340,1055 344,1058 347,1055 351,1051 354,1037 357,1023 361,1002 364,982 367,951 370,921 374,895 377,861 381,844 384,836 388,848 392,872 396,905 400,945 403,984 407,1015 411,1045 414,1067 418,1090 421,1102 425,1114 429,1120 432,1124 436,1131 439,1133 443,1139 446,1136 450,1144 453,1139 457,1141 460,1145 464,1145 467,1148 471,1151 475,1150 478,1152 482,1151 485,1150 489,1152 492,1152 496,1154 499,1157 503,1156 507,1161 510,1160 514,1157 517,1159 521,1163 525,1161 528,1161 532,1161 535,1166 539,1160 541,1157 537,1160 534,1161 530,1156 527,1155 523,1154 520,1152 516,1153 512,1152 509,1154 505,1153 502,1151 498,1148 495,1145 491,1148 487,1145 484,1146 480,1145 477,1144 473,1150 470,1142 466,1140 463,1140 459,1134 456,1136 452,1136 449,1134 445,1132 442,1130 438,1132 435,1121 431,1113 428,1106 424,1096 421,1080 417,1059 413,1039 410,1008 406,975 402,936 399,897 395,863 391,838 387,829 384,837 380,858 377,888 373,917 370,953 367,975 364,997 360,1015 357,1033 354,1049 350,1049 347,1055 343,1056 340,1055 336,1051 333,1049 329,1043 326,1038 322,1021 318,1000 314,985 310,967 306,940 302,924 298,909 295,901 291,906 288,908 285,928 282,946 279,963 276,984 273,993 270,1006 267,1014 263,1020 260,1033 257,1030 254,1039 250,1038 247,1038 244,1042 241,1042 237,1040 234,1041 230,1039 227,1035 224,1041 220,1044 217,1041 214,1044 210,1044 207,1039 204,1037 200,1041 197,1043 194,1041 190,1041 187,1041 184,1040 180,1038 177,1042 174,1039 171,1042 167,1039 164,1039 161,1039 157,1040 154,1040 151,1040 147,1037 144,1034" fill="url(#s61)" stroke="url(#s61)" stroke-width=".7"/>
<polygon points="136,1041 139,1046 143,1048 146,1045 149,1051 153,1049 156,1047 159,1046 163,1050 166,1054 169,1052 173,1051 176,1049 179,1044 183,1051 186,1049 189,1050 193,1050 196,1050 199,1049 203,1052 206,1057 209,1050 213,1053 216,1051 220,1049 223,1052 226,1050 230,1049 233,1049 237,1052 240,1051 243,1045 247,1046 250,1047 253,1043 256,1034 260,1027 263,1015 266,1003 269,987 272,968 275,953 278,938 281,919 284,912 288,915 292,923 295,937 299,953 304,981 308,999 312,1020 315,1035 319,1044 323,1054 327,1059 330,1061 334,1067 337,1060 341,1062 344,1062 348,1059 351,1040 354,1027 357,1008 361,986 364,956 367,928 371,895 374,862 378,848 381,842 385,854 389,880 393,914 397,956 401,994 404,1020 408,1050 412,1073 415,1096 419,1106 422,1118 426,1124 429,1134 433,1139 437,1140 440,1144 444,1142 447,1147 451,1146 454,1149 458,1151 461,1150 465,1151 469,1157 472,1156 476,1156 479,1155 483,1158 487,1158 490,1155 494,1160 497,1166 501,1159 504,1164 508,1168 512,1165 515,1164 519,1165 523,1169 526,1166 530,1167 533,1169 537,1168 539,1160 535,1166 532,1161 528,1161 525,1161 521,1163 517,1159 514,1157 510,1160 507,1161 503,1156 499,1157 496,1154 492,1152 489,1152 485,1150 482,1151 478,1152 475,1150 471,1151 467,1148 464,1145 460,1145 457,1141 453,1139 450,1144 446,1136 443,1139 439,1133 436,1131 432,1124 429,1120 425,1114 421,1102 418,1090 414,1067 411,1045 407,1015 403,984 400,945 396,905 392,872 388,848 384,836 381,844 377,861 374,895 370,921 367,951 364,982 361,1002 357,1023 354,1037 351,1051 347,1055 344,1058 340,1055 337,1061 333,1053 330,1053 326,1049 322,1039 319,1029 315,1012 311,990 307,974 303,949 299,929 295,917 291,911 288,906 284,914 281,932 278,949 275,967 272,982 269,993 266,1009 263,1019 260,1026 257,1037 254,1040 250,1041 247,1044 244,1043 240,1046 237,1045 233,1046 230,1046 227,1043 223,1041 220,1046 217,1049 213,1047 210,1052 207,1051 203,1045 200,1048 197,1046 193,1046 190,1046 187,1045 183,1046 180,1045 177,1046 173,1046 170,1046 167,1044 163,1041 160,1043 157,1044 153,1045 150,1040 147,1044 143,1040 140,1036" fill="url(#s62)" stroke="url(#s62)" stroke-width=".7"/>
<polygon points="132,1050 135,1049 139,1055 142,1054 145,1053 148,1053 152,1056 155,1054 158,1052 162,1057 165,1054 169,1055 172,1049 175,1051 179,1053 182,1053 185,1056 189,1053 192,1056 196,1056 199,1056 202,1059 206,1053 209,1060 212,1056 216,1057 219,1055 223,1055 226,1055 229,1050 233,1057 236,1057 239,1048 243,1049 246,1051 250,1048 253,1038 256,1033 259,1021 262,1008 265,991 268,974 271,957 274,940 277,923 281,920 284,917 288,926 292,941 296,963 300,985 304,1008 308,1023 312,1041 316,1055 320,1061 323,1066 327,1070 330,1071 334,1070 337,1067 341,1066 344,1059 348,1044 351,1029 354,1010 358,988 361,961 364,931 368,899 371,865 375,847 378,848 382,863 386,886 390,923 394,966 398,1002 401,1029 405,1064 409,1082 412,1101 416,1111 420,1121 423,1132 427,1134 430,1140 434,1145 437,1156 441,1148 445,1151 448,1152 452,1157 455,1156 459,1157 463,1153 466,1163 470,1162 473,1161 477,1162 481,1163 484,1167 488,1165 491,1165 495,1169 499,1166 502,1173 506,1168 510,1169 513,1169 517,1169 520,1177 524,1168 528,1174 531,1173 535,1171 537,1168 533,1169 530,1167 526,1166 523,1169 519,1165 515,1164 512,1165 508,1168 504,1164 501,1159 497,1166 494,1160 490,1155 487,1158 483,1158 479,1155 476,1156 472,1156 469,1157 465,1151 461,1150 458,1151 454,1149 451,1146 447,1147 444,1142 440,1144 437,1140 433,1139 429,1134 426,1124 422,1118 419,1106 415,1096 412,1073 408,1050 404,1020 401,994 397,956 393,914 389,880 385,854 381,842 378,848 374,862 371,895 367,928 364,956 361,986 357,1008 354,1027 351,1040 348,1059 344,1062 341,1062 337,1060 334,1067 330,1061 327,1059 323,1054 319,1044 315,1035 312,1020 308,999 304,981 299,953 295,937 292,923 288,915 284,912 281,919 278,938 275,953 272,968 269,987 266,1003 263,1015 260,1027 256,1034 253,1043 250,1047 247,1046 243,1045 240,1051 237,1052 233,1049 230,1049 226,1050 223,1052 220,1049 216,1051 213,1053 209,1050 206,1057 203,1052 199,1049 196,1050 193,1050 189,1050 186,1049 183,1051 179,1044 176,1049 173,1051 169,1052 166,1054 163,1050 159,1046 156,1047 153,1049 149,1051 146,1045 143,1048 139,1046 136,1041" fill="url(#s63)" stroke="url(#s63)" stroke-width=".7"/>
<polygon points="127,1056 131,1054 134,1057 138,1059 141,1057 144,1058 148,1057 151,1061 154,1059 158,1059 161,1058 165,1062 168,1057 171,1059 175,1061 178,1059 181,1059 185,1057 188,1060 191,1053 195,1059 199,1067 202,1055 205,1061 209,1059 212,1063 215,1061 219,1063 222,1059 226,1062 229,1059 232,1059 236,1053 239,1053 243,1050 246,1046 249,1040 252,1037 256,1026 259,1012 262,997 264,977 267,961 271,945 274,929 277,924 281,921 285,934 289,951 293,977 297,996 301,1016 305,1031 309,1049 313,1058 316,1068 320,1074 324,1074 327,1079 331,1075 334,1077 338,1071 341,1064 344,1045 348,1035 351,1013 354,989 358,964 361,929 364,901 368,874 371,855 375,854 379,871 383,895 387,932 391,975 395,1011 399,1043 402,1073 406,1095 410,1108 413,1122 417,1137 421,1138 424,1144 428,1146 431,1151 435,1156 439,1155 442,1157 446,1162 449,1161 453,1161 457,1161 460,1165 464,1166 467,1169 471,1168 475,1166 478,1169 482,1168 486,1166 489,1170 493,1177 497,1171 500,1176 504,1173 507,1172 511,1173 515,1177 518,1180 522,1175 526,1182 529,1177 533,1179 535,1171 531,1173 528,1174 524,1168 520,1177 517,1169 513,1169 510,1169 506,1168 502,1173 499,1166 495,1169 491,1165 488,1165 484,1167 481,1163 477,1162 473,1161 470,1162 466,1163 463,1153 459,1157 455,1156 452,1157 448,1152 445,1151 441,1148 437,1156 434,1145 430,1140 427,1134 423,1132 420,1121 416,1111 412,1101 409,1082 405,1064 401,1029 398,1002 394,966 390,923 386,886 382,863 378,848 375,847 371,865 368,899 364,931 361,961 358,988 354,1010 351,1029 348,1044 344,1059 341,1066 337,1067 334,1070 330,1071 327,1070 323,1066 320,1061 316,1055 312,1041 308,1023 304,1008 300,985 296,963 292,941 288,926 284,917 281,920 277,923 274,940 271,957 268,974 265,991 262,1008 259,1021 256,1033 253,1038 250,1048 246,1051 243,1049 239,1048 236,1057 233,1057 229,1050 226,1055 223,1055 219,1055 216,1057 212,1056 209,1060 206,1053 202,1059 199,1056 196,1056 192,1056 189,1053 185,1056 182,1053 179,1053 175,1051 172,1049 169,1055 165,1054 162,1057 158,1052 155,1054 152,1056 148,1053 145,1053 142,1054 139,1055 135,1049 132,1050" fill="url(#s64)" stroke="url(#s64)" stroke-width=".7"/>
<polygon points="123,1059 126,1059 130,1063 133,1062 136,1058 140,1063 143,1060 147,1067 150,1060 154,1063 157,1065 160,1063 164,1063 167,1066 171,1065 174,1063 177,1066 181,1067 184,1064 187,1060 191,1067 194,1066 198,1065 201,1069 205,1063 208,1064 212,1069 215,1066 218,1063 222,1062 225,1064 229,1064 232,1058 235,1058 239,1054 242,1049 245,1045 249,1041 252,1027 255,1013 258,1000 261,981 264,963 267,943 270,935 273,925 277,933 281,941 285,962 289,984 294,1007 298,1022 302,1039 306,1054 309,1063 313,1073 317,1078 320,1083 324,1082 328,1081 331,1080 335,1076 338,1065 341,1051 345,1037 348,1018 351,993 355,964 358,935 361,904 365,877 368,857 372,861 376,881 380,904 384,946 388,987 392,1016 396,1056 400,1084 403,1105 407,1117 411,1126 414,1137 418,1144 421,1153 425,1151 429,1157 432,1162 436,1161 440,1163 443,1167 447,1170 450,1168 454,1165 458,1169 461,1170 465,1175 469,1174 472,1172 476,1172 480,1174 483,1176 487,1178 491,1178 494,1178 498,1180 502,1179 505,1177 509,1177 513,1181 516,1184 520,1183 524,1182 527,1183 531,1181 533,1179 529,1177 526,1182 522,1175 518,1180 515,1177 511,1173 507,1172 504,1173 500,1176 497,1171 493,1177 489,1170 486,1166 482,1168 478,1169 475,1166 471,1168 467,1169 464,1166 460,1165 457,1161 453,1161 449,1161 446,1162 442,1157 439,1155 435,1156 431,1151 428,1146 424,1144 421,1138 417,1137 413,1122 410,1108 406,1095 402,1073 399,1043 395,1011 391,975 387,932 383,895 379,871 375,854 371,855 368,874 364,901 361,929 358,964 354,989 351,1013 348,1035 344,1045 341,1064 338,1071 334,1077 331,1075 327,1079 324,1074 320,1074 316,1068 313,1058 309,1049 305,1031 301,1016 297,996 293,977 289,951 285,934 281,921 277,924 274,929 271,945 267,961 264,977 262,997 259,1012 256,1026 252,1037 249,1040 246,1046 243,1050 239,1053 236,1053 232,1059 229,1059 226,1062 222,1059 219,1063 215,1061 212,1063 209,1059 205,1061 202,1055 199,1067 195,1059 191,1053 188,1060 185,1057 181,1059 178,1059 175,1061 171,1059 168,1057 165,1062 161,1058 158,1059 154,1059 151,1061 148,1057 144,1058 141,1057 138,1059 134,1057 131,1054 127,1056" fill="url(#s65)" stroke="url(#s65)" stroke-width=".7"/>
<polygon points="119,1064 122,1065 126,1068 129,1065 132,1067 136,1067 139,1068 143,1070 146,1070 149,1068 153,1069 156,1068 159,1067 163,1067 166,1069 170,1070 173,1068 177,1067 180,1071 184,1070 187,1073 191,1072 194,1069 197,1071 201,1071 204,1072 208,1074 211,1071 215,1071 218,1068 221,1067 225,1067 228,1065 232,1064 235,1060 238,1054 242,1052 245,1043 248,1028 251,1018 254,1004 257,980 260,967 263,948 266,938 270,931 274,938 278,950 282,968 286,994 290,1014 294,1032 298,1047 302,1062 306,1071 310,1078 313,1083 317,1086 321,1088 324,1088 328,1081 331,1076 335,1072 338,1057 342,1044 345,1021 348,994 351,966 355,928 358,905 361,875 365,863 369,868 373,893 377,917 381,957 385,997 389,1033 393,1067 397,1086 400,1109 404,1122 408,1134 411,1147 415,1149 419,1156 422,1156 426,1162 430,1165 433,1164 437,1168 441,1172 444,1171 448,1176 452,1168 455,1175 459,1175 463,1177 466,1177 470,1177 474,1179 477,1176 481,1184 485,1182 488,1181 492,1182 496,1187 499,1183 503,1184 507,1186 510,1185 514,1190 518,1189 522,1182 525,1187 529,1189 531,1181 527,1183 524,1182 520,1183 516,1184 513,1181 509,1177 505,1177 502,1179 498,1180 494,1178 491,1178 487,1178 483,1176 480,1174 476,1172 472,1172 469,1174 465,1175 461,1170 458,1169 454,1165 450,1168 447,1170 443,1167 440,1163 436,1161 432,1162 429,1157 425,1151 421,1153 418,1144 414,1137 411,1126 407,1117 403,1105 400,1084 396,1056 392,1016 388,987 384,946 380,904 376,881 372,861 368,857 365,877 361,904 358,935 355,964 351,993 348,1018 345,1037 341,1051 338,1065 335,1076 331,1080 328,1081 324,1082 320,1083 317,1078 313,1073 309,1063 306,1054 302,1039 298,1022 294,1007 289,984 285,962 281,941 277,933 273,925 270,935 267,943 264,963 261,981 258,1000 255,1013 252,1027 249,1041 245,1045 242,1049 239,1054 235,1058 232,1058 229,1064 225,1064 222,1062 218,1063 215,1066 212,1069 208,1064 205,1063 201,1069 198,1065 194,1066 191,1067 187,1060 184,1064 181,1067 177,1066 174,1063 171,1065 167,1066 164,1063 160,1063 157,1065 154,1063 150,1060 147,1067 143,1060 140,1063 136,1058 133,1062 130,1063 126,1059 123,1059" fill="url(#s66)" stroke="url(#s66)" stroke-width=".7"/>
<polygon points="114,1068 118,1067 121,1069 125,1070 128,1067 131,1072 135,1072 138,1073 142,1074 145,1072 149,1074 152,1071 155,1070 159,1072 162,1076 166,1074 169,1074 173,1074 176,1076 179,1073 183,1077 186,1074 190,1076 193,1074 197,1076 200,1073 204,1073 207,1074 211,1074 214,1074 217,1072 221,1069 224,1068 228,1070 231,1066 235,1061 238,1057 241,1049 244,1033 247,1024 250,1010 253,989 256,969 259,954 262,940 266,937 270,941 274,956 278,970 282,996 287,1019 291,1039 295,1055 299,1067 303,1076 306,1085 310,1087 314,1091 318,1098 321,1094 325,1090 328,1082 332,1078 335,1065 338,1047 342,1023 345,999 348,966 351,935 355,903 358,876 362,870 366,873 370,896 374,924 378,969 382,1004 386,1043 390,1067 394,1095 398,1118 401,1129 405,1138 409,1152 412,1157 416,1162 420,1163 423,1172 427,1172 431,1175 434,1171 438,1174 442,1175 445,1181 449,1176 453,1178 456,1183 460,1181 464,1183 467,1185 471,1185 475,1180 479,1186 482,1188 486,1182 490,1186 493,1195 497,1190 501,1190 504,1192 508,1189 512,1190 516,1193 519,1193 523,1193 527,1195 529,1189 525,1187 522,1182 518,1189 514,1190 510,1185 507,1186 503,1184 499,1183 496,1187 492,1182 488,1181 485,1182 481,1184 477,1176 474,1179 470,1177 466,1177 463,1177 459,1175 455,1175 452,1168 448,1176 444,1171 441,1172 437,1168 433,1164 430,1165 426,1162 422,1156 419,1156 415,1149 411,1147 408,1134 404,1122 400,1109 397,1086 393,1067 389,1033 385,997 381,957 377,917 373,893 369,868 365,863 361,875 358,905 355,928 351,966 348,994 345,1021 342,1044 338,1057 335,1072 331,1076 328,1081 324,1088 321,1088 317,1086 313,1083 310,1078 306,1071 302,1062 298,1047 294,1032 290,1014 286,994 282,968 278,950 274,938 270,931 266,938 263,948 260,967 257,980 254,1004 251,1018 248,1028 245,1043 242,1052 238,1054 235,1060 232,1064 228,1065 225,1067 221,1067 218,1068 215,1071 211,1071 208,1074 204,1072 201,1071 197,1071 194,1069 191,1072 187,1073 184,1070 180,1071 177,1067 173,1068 170,1070 166,1069 163,1067 159,1067 156,1068 153,1069 149,1068 146,1070 143,1070 139,1068 136,1067 132,1067 129,1065 126,1068 122,1065 119,1064" fill="url(#s67)" stroke="url(#s67)" stroke-width=".7"/>
<polygon points="110,1074 113,1074 117,1074 120,1076 124,1076 127,1076 130,1077 134,1078 138,1080 141,1076 144,1079 148,1077 151,1078 154,1076 158,1082 162,1082 165,1077 168,1079 172,1079 175,1080 179,1083 182,1079 186,1082 189,1081 193,1079 196,1079 200,1076 203,1077 207,1082 210,1077 214,1080 217,1074 220,1071 224,1070 227,1071 231,1064 234,1056 237,1056 240,1037 244,1029 246,1010 249,993 252,973 255,958 259,940 262,940 266,944 270,959 275,980 279,1000 283,1024 287,1043 291,1058 295,1072 299,1080 303,1089 307,1090 310,1097 314,1098 318,1100 321,1094 325,1087 328,1078 332,1068 335,1052 338,1029 341,1002 345,972 348,942 351,907 355,883 359,871 363,881 367,902 371,934 375,974 379,1011 383,1045 387,1078 391,1101 395,1123 398,1138 402,1146 406,1158 410,1163 413,1170 417,1169 421,1178 424,1178 428,1181 432,1178 435,1178 439,1181 443,1184 446,1185 450,1185 454,1187 457,1190 461,1189 465,1193 469,1192 472,1187 476,1191 480,1197 484,1194 487,1197 491,1201 495,1198 499,1194 502,1197 506,1195 510,1199 514,1197 517,1197 521,1201 525,1198 527,1195 523,1193 519,1193 516,1193 512,1190 508,1189 504,1192 501,1190 497,1190 493,1195 490,1186 486,1182 482,1188 479,1186 475,1180 471,1185 467,1185 464,1183 460,1181 456,1183 453,1178 449,1176 445,1181 442,1175 438,1174 434,1171 431,1175 427,1172 423,1172 420,1163 416,1162 412,1157 409,1152 405,1138 401,1129 398,1118 394,1095 390,1067 386,1043 382,1004 378,969 374,924 370,896 366,873 362,870 358,876 355,903 351,935 348,966 345,999 342,1023 338,1047 335,1065 332,1078 328,1082 325,1090 321,1094 318,1098 314,1091 310,1087 306,1085 303,1076 299,1067 295,1055 291,1039 287,1019 282,996 278,970 274,956 270,941 266,937 262,940 259,954 256,969 253,989 250,1010 247,1024 244,1033 241,1049 238,1057 235,1061 231,1066 228,1070 224,1068 221,1069 217,1072 214,1074 211,1074 207,1074 204,1073 200,1073 197,1076 193,1074 190,1076 186,1074 183,1077 179,1073 176,1076 173,1074 169,1074 166,1074 162,1076 159,1072 155,1070 152,1071 149,1074 145,1072 142,1074 138,1073 135,1072 131,1072 128,1067 125,1070 121,1069 118,1067 114,1068" fill="url(#s68)" stroke="url(#s68)" stroke-width=".7"/>
<polygon points="105,1079 109,1078 112,1079 116,1080 119,1082 123,1086 126,1080 129,1080 133,1084 136,1083 140,1083 143,1082 147,1083 150,1083 154,1085 157,1083 161,1088 164,1083 168,1087 171,1085 175,1084 178,1086 182,1087 185,1088 189,1087 192,1083 195,1079 199,1081 203,1086 206,1084 210,1081 213,1080 217,1080 220,1078 224,1079 227,1070 230,1064 233,1055 237,1046 240,1033 242,1012 246,997 248,977 252,967 255,952 258,944 262,947 266,964 271,987 275,1005 280,1030 284,1048 288,1064 292,1078 296,1089 300,1095 303,1101 307,1103 311,1105 314,1102 318,1101 321,1093 325,1084 328,1071 332,1056 335,1030 338,1007 341,975 345,944 348,911 352,887 355,874 359,878 363,904 368,939 372,980 376,1019 380,1051 384,1087 388,1111 392,1130 396,1145 399,1158 403,1166 407,1168 410,1174 414,1173 418,1184 422,1185 425,1184 429,1182 433,1188 436,1192 440,1194 444,1191 448,1192 451,1190 455,1194 459,1195 462,1196 466,1195 470,1193 474,1195 477,1199 481,1197 485,1201 489,1205 492,1202 496,1199 500,1205 504,1202 508,1202 511,1203 515,1209 519,1208 523,1205 525,1198 521,1201 517,1197 514,1197 510,1199 506,1195 502,1197 499,1194 495,1198 491,1201 487,1197 484,1194 480,1197 476,1191 472,1187 469,1192 465,1193 461,1189 457,1190 454,1187 450,1185 446,1185 443,1184 439,1181 435,1178 432,1178 428,1181 424,1178 421,1178 417,1169 413,1170 410,1163 406,1158 402,1146 398,1138 395,1123 391,1101 387,1078 383,1045 379,1011 375,974 371,934 367,902 363,881 359,871 355,883 351,907 348,942 345,972 341,1002 338,1029 335,1052 332,1068 328,1078 325,1087 321,1094 318,1100 314,1098 310,1097 307,1090 303,1089 299,1080 295,1072 291,1058 287,1043 283,1024 279,1000 275,980 270,959 266,944 262,940 259,940 255,958 252,973 249,993 246,1010 244,1029 240,1037 237,1056 234,1056 231,1064 227,1071 224,1070 220,1071 217,1074 214,1080 210,1077 207,1082 203,1077 200,1076 196,1079 193,1079 189,1081 186,1082 182,1079 179,1083 175,1080 172,1079 168,1079 165,1077 162,1082 158,1082 154,1076 151,1078 148,1077 144,1079 141,1076 138,1080 134,1078 130,1077 127,1076 124,1076 120,1076 117,1074 113,1074 110,1074" fill="url(#s69)" stroke="url(#s69)" stroke-width=".7"/>
<polygon points="101,1086 104,1081 108,1085 111,1084 115,1088 118,1087 122,1090 125,1086 129,1090 132,1083 135,1086 139,1085 142,1086 146,1088 149,1090 153,1087 156,1090 160,1091 164,1092 167,1093 170,1089 174,1092 178,1091 181,1089 185,1093 188,1089 191,1087 195,1085 199,1091 202,1089 205,1085 209,1087 213,1087 216,1082 220,1082 223,1072 226,1062 230,1065 233,1048 236,1035 239,1020 242,1002 244,978 248,967 251,954 254,948 258,947 263,970 267,997 271,1010 276,1036 280,1056 284,1071 288,1086 292,1094 296,1103 300,1107 304,1109 307,1110 311,1108 314,1109 318,1094 321,1091 325,1075 328,1062 332,1039 335,1012 338,979 341,948 345,914 348,894 352,883 356,882 360,909 364,946 369,986 373,1024 377,1059 381,1093 385,1116 389,1135 393,1148 396,1164 400,1167 404,1172 408,1179 411,1181 415,1182 419,1187 422,1187 426,1192 430,1197 434,1194 437,1196 441,1197 445,1195 449,1196 452,1198 456,1201 460,1199 464,1202 467,1203 471,1203 475,1209 479,1200 483,1203 486,1206 490,1207 494,1207 498,1209 501,1207 505,1208 509,1211 513,1211 517,1212 521,1207 523,1205 519,1208 515,1209 511,1203 508,1202 504,1202 500,1205 496,1199 492,1202 489,1205 485,1201 481,1197 477,1199 474,1195 470,1193 466,1195 462,1196 459,1195 455,1194 451,1190 448,1192 444,1191 440,1194 436,1192 433,1188 429,1182 425,1184 422,1185 418,1184 414,1173 410,1174 407,1168 403,1166 399,1158 396,1145 392,1130 388,1111 384,1087 380,1051 376,1019 372,980 368,939 363,904 359,878 355,874 352,887 348,911 345,944 341,975 338,1007 335,1030 332,1056 328,1071 325,1084 321,1093 318,1101 314,1102 311,1105 307,1103 303,1101 300,1095 296,1089 292,1078 288,1064 284,1048 280,1030 275,1005 271,987 266,964 262,947 258,944 255,952 252,967 248,977 246,997 242,1012 240,1033 237,1046 233,1055 230,1064 227,1070 224,1079 220,1078 217,1080 213,1080 210,1081 206,1084 203,1086 199,1081 195,1079 192,1083 189,1087 185,1088 182,1087 178,1086 175,1084 171,1085 168,1087 164,1083 161,1088 157,1083 154,1085 150,1083 147,1083 143,1082 140,1083 136,1083 133,1084 129,1080 126,1080 123,1086 119,1082 116,1080 112,1079 109,1078 105,1079" fill="url(#s70)" stroke="url(#s70)" stroke-width=".7"/>
<polygon points="96,1090 100,1089 103,1094 107,1094 110,1092 114,1091 117,1093 121,1094 124,1092 127,1087 131,1092 135,1096 138,1092 141,1093 145,1094 149,1093 152,1094 156,1097 159,1094 163,1096 166,1094 170,1098 173,1099 177,1091 180,1098 184,1094 187,1092 191,1094 194,1094 198,1092 201,1086 205,1093 209,1090 212,1086 215,1082 219,1072 222,1072 226,1070 229,1055 232,1040 235,1025 238,1006 241,988 244,969 247,961 251,952 254,952 259,974 263,998 268,1017 272,1039 276,1062 280,1072 285,1090 289,1097 293,1109 296,1112 300,1113 304,1116 307,1111 311,1110 314,1104 318,1099 321,1081 325,1066 328,1042 331,1019 335,983 338,952 341,918 345,900 349,889 352,888 357,916 361,950 365,992 370,1029 374,1063 378,1100 382,1120 386,1143 390,1152 393,1168 397,1172 401,1177 405,1183 408,1186 412,1187 416,1192 420,1193 423,1191 427,1198 431,1200 435,1200 438,1206 442,1205 446,1204 450,1204 454,1211 457,1206 461,1208 465,1209 469,1207 472,1210 476,1207 480,1212 484,1212 488,1214 491,1214 495,1212 499,1212 503,1215 507,1215 511,1217 514,1221 518,1216 521,1207 517,1212 513,1211 509,1211 505,1208 501,1207 498,1209 494,1207 490,1207 486,1206 483,1203 479,1200 475,1209 471,1203 467,1203 464,1202 460,1199 456,1201 452,1198 449,1196 445,1195 441,1197 437,1196 434,1194 430,1197 426,1192 422,1187 419,1187 415,1182 411,1181 408,1179 404,1172 400,1167 396,1164 393,1148 389,1135 385,1116 381,1093 377,1059 373,1024 369,986 364,946 360,909 356,882 352,883 348,894 345,914 341,948 338,979 335,1012 332,1039 328,1062 325,1075 321,1091 318,1094 314,1109 311,1108 307,1110 304,1109 300,1107 296,1103 292,1094 288,1086 284,1071 280,1056 276,1036 271,1010 267,997 263,970 258,947 254,948 251,954 248,967 244,978 242,1002 239,1020 236,1035 233,1048 230,1065 226,1062 223,1072 220,1082 216,1082 213,1087 209,1087 205,1085 202,1089 199,1091 195,1085 191,1087 188,1089 185,1093 181,1089 178,1091 174,1092 170,1089 167,1093 164,1092 160,1091 156,1090 153,1087 149,1090 146,1088 142,1086 139,1085 135,1086 132,1083 129,1090 125,1086 122,1090 118,1087 115,1088 111,1084 108,1085 104,1081 101,1086" fill="url(#s71)" stroke="url(#s71)" stroke-width=".7"/>
<polygon points="92,1096 95,1096 99,1097 102,1096 106,1097 109,1094 113,1098 116,1097 120,1097 123,1097 127,1097 130,1101 133,1094 137,1096 141,1100 144,1102 148,1102 151,1101 155,1097 158,1102 162,1098 165,1101 169,1101 172,1097 176,1102 180,1100 183,1099 187,1102 190,1101 194,1099 197,1098 201,1097 205,1099 208,1090 211,1086 215,1080 218,1077 222,1076 225,1059 228,1043 231,1030 234,1014 237,994 240,973 243,966 247,956 250,956 255,979 260,1004 264,1020 268,1046 273,1068 277,1085 281,1093 285,1106 289,1118 293,1119 296,1120 300,1120 304,1114 307,1114 311,1109 315,1104 318,1086 321,1072 325,1042 328,1019 331,984 334,953 338,924 341,903 345,884 349,895 353,920 358,958 362,998 366,1036 371,1076 375,1106 379,1126 383,1148 387,1162 390,1177 394,1182 398,1190 402,1193 406,1193 409,1196 413,1198 417,1199 421,1200 424,1203 428,1204 432,1206 436,1210 440,1209 443,1209 447,1211 451,1211 455,1209 459,1213 462,1217 466,1215 470,1215 474,1214 478,1220 481,1219 485,1220 489,1219 493,1221 497,1219 501,1219 504,1223 508,1225 512,1222 516,1222 518,1216 514,1221 511,1217 507,1215 503,1215 499,1212 495,1212 491,1214 488,1214 484,1212 480,1212 476,1207 472,1210 469,1207 465,1209 461,1208 457,1206 454,1211 450,1204 446,1204 442,1205 438,1206 435,1200 431,1200 427,1198 423,1191 420,1193 416,1192 412,1187 408,1186 405,1183 401,1177 397,1172 393,1168 390,1152 386,1143 382,1120 378,1100 374,1063 370,1029 365,992 361,950 357,916 352,888 349,889 345,900 341,918 338,952 335,983 331,1019 328,1042 325,1066 321,1081 318,1099 314,1104 311,1110 307,1111 304,1116 300,1113 296,1112 293,1109 289,1097 285,1090 280,1072 276,1062 272,1039 268,1017 263,998 259,974 254,952 251,952 247,961 244,969 241,988 238,1006 235,1025 232,1040 229,1055 226,1070 222,1072 219,1072 215,1082 212,1086 209,1090 205,1093 201,1086 198,1092 194,1094 191,1094 187,1092 184,1094 180,1098 177,1091 173,1099 170,1098 166,1094 163,1096 159,1094 156,1097 152,1094 149,1093 145,1094 141,1093 138,1092 135,1096 131,1092 127,1087 124,1092 121,1094 117,1093 114,1091 110,1092 107,1094 103,1094 100,1089 96,1090" fill="url(#s72)" stroke="url(#s72)" stroke-width=".7"/>
</g>
<polyline points="532.0,1067.2 533.8,1061.5 535.5,1061.2 537.3,1055.4 539.1,1048.9 540.7,1050.6 542.4,1045.8 544.1,1042.5" fill="none" stroke="#05080f" stroke-width="2.2"/>
<polyline points="535.2,1067.3 537.0,1065.2 538.9,1053.0 540.5,1053.9 542.3,1048.4 544.1,1041.4 545.8,1038.1 547.3,1040.5" fill="none" stroke="#05080f" stroke-width="2.3"/>
<polyline points="540.2,1063.9 541.9,1061.8 543.6,1059.9 545.4,1052.5 547.1,1049.4 548.9,1041.2 550.4,1041.0" fill="none" stroke="#05080f" stroke-width="1.9"/>
<polyline points="546.9,1056.4 548.6,1054.6 550.3,1048.1 552.1,1039.0 553.7,1037.2" fill="none" stroke="#05080f" stroke-width="1.8"/>
<polyline points="545.1,1065.1 546.9,1060.9 548.3,1065.5 550.1,1058.8 551.8,1054.6 553.3,1054.4 554.9,1051.2 556.7,1041.6" fill="none" stroke="#05080f" stroke-width="1.4"/>
<polyline points="546.4,1078.4 548.1,1075.4 549.9,1069.3 551.6,1065.1 553.4,1057.6 555.2,1048.0 556.7,1049.2 558.2,1049.8 559.9,1041.2" fill="none" stroke="#05080f" stroke-width="2.1"/>
<polyline points="553.3,1064.6 555.0,1058.3 556.5,1060.3 558.1,1056.8 559.8,1050.0 561.6,1042.4 563.2,1038.5" fill="none" stroke="#05080f" stroke-width="1.4"/>
<polyline points="559.8,1059.7 561.4,1056.6 562.9,1055.3 564.6,1048.7 566.4,1036.7" fill="none" stroke="#05080f" stroke-width="1.5"/>
<polyline points="559.7,1068.4 561.3,1067.6 562.9,1061.6 564.7,1053.5 566.2,1053.3 567.8,1046.5 569.5,1040.1" fill="none" stroke="#05080f" stroke-width="1.6"/>
<polyline points="564.6,1065.2 566.4,1056.4 568.0,1052.1 569.3,1055.2 571.0,1047.8 572.6,1040.4" fill="none" stroke="#05080f" stroke-width="1.9"/>
<polyline points="567.9,1063.3 569.5,1059.0 571.2,1053.4 572.7,1048.4 574.1,1048.8 575.8,1042.0" fill="none" stroke="#05080f" stroke-width="1.5"/>
<polyline points="568.1,1068.5 569.8,1062.3 571.2,1063.9 572.9,1055.8 574.5,1050.8 575.9,1051.2 577.4,1047.4 578.9,1043.4" fill="none" stroke="#05080f" stroke-width="1.5"/>
<polyline points="571.4,1067.3 572.8,1069.6 574.3,1069.2 575.9,1063.8 577.6,1054.8 579.0,1053.2 580.5,1049.4 582.0,1046.0" fill="none" stroke="#05080f" stroke-width="1.4"/>
<polyline points="324.7,823.2 332.4,1222" fill="none" stroke="#222" stroke-width="1.5" stroke-dasharray="5,4"/>
<polyline points="339.7,786.9 430.9,694.3" fill="none" stroke="#222" stroke-width="1.5" stroke-dasharray="5,4"/>
<polyline points="374.8,826.7 378.4,1227.9" fill="none" stroke="#222" stroke-width="1.5" stroke-dasharray="5,4"/>
<polyline points="388.7,790.1 472,696.4" fill="none" stroke="#222" stroke-width="1.5" stroke-dasharray="5,4"/>
<polyline points="339.7,786.9 324.3,802.6 374.6,806 388.7,790.1" fill="none" stroke="#e8650f" stroke-width="2"/>
<polyline points="324.3,802.6 324.7,823.2" fill="none" stroke="#e8650f" stroke-width="2"/>
<polyline points="374.6,806 374.8,826.7" fill="none" stroke="#e8650f" stroke-width="2"/>
<polyline points="69.5,785.4 98.5,1192.5 517.1,1245.4 582.8,1061.2" fill="none" stroke="#000" stroke-width="2.2"/>
<polyline points="95.4,1149.1 90.3,1155" fill="none" stroke="#000" stroke-width="2"/>
<polyline points="88.4,1050.4 83.2,1055.8" fill="none" stroke="#000" stroke-width="2"/>
<polyline points="81,947.4 75.7,952.1" fill="none" stroke="#000" stroke-width="2"/>
<polyline points="73.4,839.6 67.8,843.8" fill="none" stroke="#000" stroke-width="2"/>
<polyline points="180.3,1202.8 175.8,1209" fill="none" stroke="#000" stroke-width="2"/>
<polyline points="269,1214 265,1220.4" fill="none" stroke="#000" stroke-width="2"/>
<polyline points="359.9,1225.5 356.5,1232.1" fill="none" stroke="#000" stroke-width="2"/>
<polyline points="453.2,1237.3 450.4,1244" fill="none" stroke="#000" stroke-width="2"/>
<polyline points="136.8,1197.3 134.1,1200.8" fill="none" stroke="#000" stroke-width="2"/>
<polyline points="224.4,1208.4 222,1212" fill="none" stroke="#000" stroke-width="2"/>
<polyline points="314.1,1219.7 312.1,1223.4" fill="none" stroke="#000" stroke-width="2"/>
<polyline points="406.3,1231.4 404.5,1235.1" fill="none" stroke="#000" stroke-width="2"/>
<polyline points="500.8,1243.3 499.4,1247.2" fill="none" stroke="#000" stroke-width="2"/>
<polyline points="523.7,1227 534.6,1228.4" fill="none" stroke="#000" stroke-width="2"/>
<polyline points="536.1,1192 546.7,1193.3" fill="none" stroke="#000" stroke-width="2"/>
<polyline points="547.7,1159.5 557.9,1160.7" fill="none" stroke="#000" stroke-width="2"/>
<polyline points="558.6,1129.1 568.4,1130.2" fill="none" stroke="#000" stroke-width="2"/>
<polyline points="568.7,1100.7 578.3,1101.7" fill="none" stroke="#000" stroke-width="2"/>
<polyline points="578.2,1074 587.5,1074.9" fill="none" stroke="#000" stroke-width="2"/>
<polyline points="530,1209.2 536,1209.9" fill="none" stroke="#000" stroke-width="2"/>
<polyline points="542,1175.5 547.8,1176.2" fill="none" stroke="#000" stroke-width="2"/>
<polyline points="553.2,1144 558.9,1144.7" fill="none" stroke="#000" stroke-width="2"/>
<polyline points="563.7,1114.6 569.2,1115.2" fill="none" stroke="#000" stroke-width="2"/>
<polyline points="573.5,1087.1 578.8,1087.7" fill="none" stroke="#000" stroke-width="2"/>
<polyline points="582.7,1061.3 587.9,1061.8" fill="none" stroke="#000" stroke-width="2"/>
<text x="0" y="14.4" font-size="40" fill="#000" text-anchor="middle" font-family='"Liberation Sans", sans-serif' transform="matrix(0.4565,-0.5027,0.0603,0.9062,77.91,556.96)">28k</text>
<text x="0" y="14.4" font-size="40" fill="#000" text-anchor="middle" font-family='"Liberation Sans", sans-serif' transform="matrix(0.4683,-0.4653,0.0626,0.9369,71.11,472.79)">32k</text>
<text x="0" y="14.4" font-size="40" fill="#000" text-anchor="middle" font-family='"Liberation Sans", sans-serif' transform="matrix(0.4792,-0.4243,0.0646,0.9677,65.30,385.86)">36k</text>
<text x="0" y="14.4" font-size="40" fill="#000" text-anchor="middle" font-family='"Liberation Sans", sans-serif' transform="matrix(0.4898,-0.3777,0.0666,1.0003,60.05,291.81)">40k</text>
<text x="0" y="14.4" font-size="40" fill="#000" text-anchor="middle" font-family='"Liberation Sans", sans-serif' transform="matrix(0.5022,-0.3294,0.0690,1.0353,53.52,196.83)">44k</text>
<text x="0" y="14.4" font-size="40" fill="#000" text-anchor="middle" font-family='"Liberation Sans", sans-serif' transform="matrix(0.4676,-0.5691,0.9363,0.1205,153.61,562.74)">944</text>
<text x="0" y="14.4" font-size="40" fill="#000" text-anchor="middle" font-family='"Liberation Sans", sans-serif' transform="matrix(0.4185,-0.5837,0.9612,0.1237,243.43,574.30)">939</text>
<text x="0" y="14.4" font-size="40" fill="#000" text-anchor="middle" font-family='"Liberation Sans", sans-serif' transform="matrix(0.3665,-0.5990,0.9872,0.1271,335.67,586.17)">934</text>
<text x="0" y="14.4" font-size="40" fill="#000" text-anchor="middle" font-family='"Liberation Sans", sans-serif' transform="matrix(0.3116,-0.6148,1.0143,0.1305,430.42,598.36)">929</text>
<text x="0" y="0" font-size="40" fill="#000" text-anchor="middle" font-family='"Liberation Sans", sans-serif' transform="matrix(0.9991,0.1346,-0.4975,0.6311,152.66,603.55)">Binding</text>
<text x="0" y="0" font-size="40" fill="#000" text-anchor="middle" font-family='"Liberation Sans", sans-serif' transform="matrix(1.0413,0.1403,-0.4145,0.6569,294.40,622.65)">energy</text>
<text x="0" y="0" font-size="40" fill="#000" text-anchor="middle" font-family='"Liberation Sans", sans-serif' transform="matrix(1.0766,0.1451,-0.3433,0.6785,410.90,638.35)">(eV)</text>
<text x="0" y="14.4" font-size="40" fill="#000" font-family='"Liberation Sans", sans-serif' transform="matrix(0.9802,0.1205,-0.1905,0.4715,541.26,571.28)">0</text>
<text x="0" y="14.4" font-size="40" fill="#e8650f" font-family='"Liberation Sans", sans-serif' transform="matrix(0.9464,0.1116,-0.1769,0.4379,555.10,537.00)">0</text>
<text x="0" y="14.4" font-size="40" fill="#e8650f" font-family='"Liberation Sans", sans-serif' transform="matrix(0.9149,0.1036,-0.1647,0.4078,567.98,505.12)">10</text>
<text x="0" y="14.4" font-size="40" fill="#e8650f" font-family='"Liberation Sans", sans-serif' transform="matrix(0.8855,0.0965,-0.1538,0.3807,579.99,475.40)">20</text>
<text x="0" y="14.4" font-size="40" fill="#e8650f" font-family='"Liberation Sans", sans-serif' transform="matrix(0.8578,0.0900,-0.1439,0.3562,591.21,447.62)">30</text>
<text x="0" y="14.4" font-size="40" fill="#000" font-family='"Liberation Sans", sans-serif' transform="matrix(0.8318,0.0842,-0.1349,0.3340,601.72,421.61)">30</text>
<text x="0" y="0" font-size="40" fill="#000" text-anchor="middle" font-family='"Liberation Sans", sans-serif' transform="matrix(0.1392,-0.4484,1.0239,0.1208,636.93,547.41)">Illumination</text>
<text x="0" y="0" font-size="40" fill="#000" text-anchor="middle" font-family='"Liberation Sans", sans-serif' transform="matrix(0.1198,-0.3859,0.9525,0.1034,657.61,480.83)">time</text>
<text x="0" y="0" font-size="40" fill="#000" text-anchor="middle" font-family='"Liberation Sans", sans-serif' transform="matrix(0.1093,-0.3519,0.9111,0.0939,669.56,442.34)">(min)</text>
<text x="0" y="0" font-size="40" fill="#000" text-anchor="middle" font-family='"Liberation Sans", sans-serif' transform="matrix(0.0752,1.0252,-0.5226,0.4387,29.01,376.96)">Counts</text>
<text x="0" y="14.4" font-size="40" fill="#000" text-anchor="middle" font-family='"Liberation Sans", sans-serif' transform="matrix(0.4361,-0.5064,0.0671,0.8908,78.24,1167.83)">40k</text>
<text x="0" y="14.4" font-size="40" fill="#000" text-anchor="middle" font-family='"Liberation Sans", sans-serif' transform="matrix(0.4496,-0.4629,0.0700,0.9297,70.91,1070.51)">60k</text>
<text x="0" y="14.4" font-size="40" fill="#000" text-anchor="middle" font-family='"Liberation Sans", sans-serif' transform="matrix(0.4643,-0.4135,0.0732,0.9723,63.04,965.93)">80k</text>
<text x="0" y="14.4" font-size="40" fill="#000" text-anchor="middle" font-family='"Liberation Sans", sans-serif' transform="matrix(0.4843,-0.3629,0.0778,1.0218,51.01,860.27)">100k</text>
<text x="0" y="14.4" font-size="40" fill="#000" text-anchor="middle" font-family='"Liberation Sans", sans-serif' transform="matrix(0.4332,-0.5990,0.9281,0.1206,164.14,1225.19)">345</text>
<text x="0" y="14.4" font-size="40" fill="#000" text-anchor="middle" font-family='"Liberation Sans", sans-serif' transform="matrix(0.3829,-0.6141,0.9525,0.1237,254.67,1236.95)">340</text>
<text x="0" y="14.4" font-size="40" fill="#000" text-anchor="middle" font-family='"Liberation Sans", sans-serif' transform="matrix(0.3298,-0.6298,0.9778,0.1270,347.60,1249.02)">335</text>
<text x="0" y="14.4" font-size="40" fill="#000" text-anchor="middle" font-family='"Liberation Sans", sans-serif' transform="matrix(0.2736,-0.6461,1.0042,0.1305,443.01,1261.42)">330</text>
<text x="0" y="0" font-size="40" fill="#000" text-anchor="middle" font-family='"Liberation Sans", sans-serif' transform="matrix(0.9885,0.1345,-0.4642,0.6629,157.48,1266.91)">Binding</text>
<text x="0" y="0" font-size="40" fill="#000" text-anchor="middle" font-family='"Liberation Sans", sans-serif' transform="matrix(1.0288,0.1400,-0.3810,0.6889,297.62,1285.97)">energy</text>
<text x="0" y="0" font-size="40" fill="#000" text-anchor="middle" font-family='"Liberation Sans", sans-serif' transform="matrix(1.0625,0.1446,-0.3099,0.7106,412.67,1301.63)">(eV)</text>
<text x="0" y="14.4" font-size="40" fill="#000" font-family='"Liberation Sans", sans-serif' transform="matrix(0.9640,0.1193,-0.1673,0.4913,538.54,1228.84)">0</text>
<text x="0" y="14.4" font-size="40" fill="#e8650f" font-family='"Liberation Sans", sans-serif' transform="matrix(0.9311,0.1106,-0.1556,0.4569,550.49,1193.75)">0</text>
<text x="0" y="14.4" font-size="40" fill="#e8650f" font-family='"Liberation Sans", sans-serif' transform="matrix(0.9005,0.1028,-0.1451,0.4260,561.62,1161.08)">10</text>
<text x="0" y="14.4" font-size="40" fill="#e8650f" font-family='"Liberation Sans", sans-serif' transform="matrix(0.8718,0.0958,-0.1356,0.3982,572.01,1130.57)">20</text>
<text x="0" y="14.4" font-size="40" fill="#e8650f" font-family='"Liberation Sans", sans-serif' transform="matrix(0.8449,0.0894,-0.1270,0.3730,581.73,1102.03)">30</text>
<text x="0" y="14.4" font-size="40" fill="#000" font-family='"Liberation Sans", sans-serif' transform="matrix(0.8195,0.0836,-0.1192,0.3501,590.85,1075.27)">30</text>
<text x="0" y="0" font-size="40" fill="#000" text-anchor="middle" font-family='"Liberation Sans", sans-serif' transform="matrix(0.1186,-0.4685,1.0077,0.1200,630.69,1205.33)">Illumination</text>
<text x="0" y="0" font-size="40" fill="#000" text-anchor="middle" font-family='"Liberation Sans", sans-serif' transform="matrix(0.1021,-0.4032,0.9371,0.1025,648.30,1135.75)">time</text>
<text x="0" y="0" font-size="40" fill="#000" text-anchor="middle" font-family='"Liberation Sans", sans-serif' transform="matrix(0.0931,-0.3677,0.8961,0.0931,658.48,1095.53)">(min)</text>
<text x="0" y="0" font-size="40" fill="#000" text-anchor="middle" font-family='"Liberation Sans", sans-serif' transform="matrix(0.0855,1.0041,-0.5066,0.4840,24.35,1055.36)">Counts</text>
<g>
<rect x="814" y="48" width="521" height="7.6" fill="url(#g1)"/>
<rect x="814" y="55" width="521" height="7.6" fill="url(#g2)"/>
<rect x="814" y="62" width="521" height="7.6" fill="url(#g3)"/>
<rect x="814" y="69" width="521" height="7.6" fill="url(#g4)"/>
<rect x="814" y="76" width="521" height="7.6" fill="url(#g5)"/>
<rect x="814" y="83" width="521" height="7.6" fill="url(#g6)"/>
<rect x="814" y="90" width="521" height="7.6" fill="url(#g7)"/>
<rect x="814" y="97" width="521" height="7.6" fill="url(#g8)"/>
<rect x="814" y="104" width="521" height="7.6" fill="url(#g9)"/>
<rect x="814" y="111" width="521" height="7.6" fill="url(#g10)"/>
<rect x="814" y="118" width="521" height="7.6" fill="url(#g11)"/>
<rect x="814" y="125" width="521" height="7.6" fill="url(#g12)"/>
<rect x="814" y="132" width="521" height="7.6" fill="url(#g13)"/>
<rect x="814" y="139" width="521" height="7.6" fill="url(#g14)"/>
<rect x="814" y="146" width="521" height="7.6" fill="url(#g15)"/>
<rect x="814" y="153" width="521" height="7.6" fill="url(#g16)"/>
<rect x="814" y="160" width="521" height="7.6" fill="url(#g17)"/>
<rect x="814" y="167" width="521" height="7.6" fill="url(#g18)"/>
<rect x="814" y="174" width="521" height="7.6" fill="url(#g19)"/>
<rect x="814" y="181" width="521" height="7.6" fill="url(#g20)"/>
<rect x="814" y="188" width="521" height="7.6" fill="url(#g21)"/>
<rect x="814" y="195" width="521" height="7.6" fill="url(#g22)"/>
<rect x="814" y="202" width="521" height="7.6" fill="url(#g23)"/>
<rect x="814" y="209" width="521" height="7.6" fill="url(#g24)"/>
<rect x="814" y="216" width="521" height="7.6" fill="url(#g25)"/>
<rect x="814" y="223" width="521" height="7.6" fill="url(#g26)"/>
<rect x="814" y="230" width="521" height="7.6" fill="url(#g27)"/>
<rect x="814" y="237" width="521" height="7.6" fill="url(#g28)"/>
<rect x="814" y="244" width="521" height="7.6" fill="url(#g29)"/>
<rect x="814" y="251" width="521" height="7.6" fill="url(#g30)"/>
<rect x="814" y="258" width="521" height="7.6" fill="url(#g31)"/>
<rect x="814" y="265" width="521" height="7.6" fill="url(#g32)"/>
<rect x="814" y="272" width="521" height="7.6" fill="url(#g33)"/>
<rect x="814" y="279" width="521" height="7.6" fill="url(#g34)"/>
<rect x="814" y="286" width="521" height="7.6" fill="url(#g35)"/>
<rect x="814" y="293" width="521" height="7.6" fill="url(#g36)"/>
<rect x="814" y="300" width="521" height="7.6" fill="url(#g37)"/>
<rect x="814" y="307" width="521" height="7.6" fill="url(#g38)"/>
<rect x="814" y="314" width="521" height="7.6" fill="url(#g39)"/>
<rect x="814" y="321" width="521" height="7.6" fill="url(#g40)"/>
<rect x="814" y="328" width="521" height="7.6" fill="url(#g41)"/>
<rect x="814" y="335" width="521" height="7.6" fill="url(#g42)"/>
<rect x="814" y="342" width="521" height="7.6" fill="url(#g43)"/>
<rect x="814" y="349" width="521" height="7.6" fill="url(#g44)"/>
<rect x="814" y="356" width="521" height="7.6" fill="url(#g45)"/>
<rect x="814" y="363" width="521" height="7.6" fill="url(#g46)"/>
<rect x="814" y="370" width="521" height="7.6" fill="url(#g47)"/>
<rect x="814" y="377" width="521" height="7.6" fill="url(#g48)"/>
<rect x="814" y="384" width="521" height="7.6" fill="url(#g49)"/>
<rect x="814" y="391" width="521" height="7.6" fill="url(#g50)"/>
<rect x="814" y="398" width="521" height="7.6" fill="url(#g51)"/>
<rect x="814" y="405" width="521" height="7.6" fill="url(#g52)"/>
<rect x="814" y="412" width="521" height="7.6" fill="url(#g53)"/>
<rect x="814" y="419" width="521" height="7.6" fill="url(#g54)"/>
<rect x="814" y="426" width="521" height="7.6" fill="url(#g55)"/>
<rect x="814" y="433" width="521" height="7.6" fill="url(#g56)"/>
<rect x="814" y="440" width="521" height="7.6" fill="url(#g57)"/>
<rect x="814" y="447" width="521" height="7.6" fill="url(#g58)"/>
<rect x="814" y="454" width="521" height="7.6" fill="url(#g59)"/>
<rect x="814" y="461" width="521" height="7.6" fill="url(#g60)"/>
<rect x="814" y="468" width="521" height="7.6" fill="url(#g61)"/>
<rect x="814" y="475" width="521" height="7.6" fill="url(#g62)"/>
<rect x="814" y="482" width="521" height="7.6" fill="url(#g63)"/>
<rect x="814" y="489" width="521" height="7.6" fill="url(#g64)"/>
<rect x="814" y="496" width="521" height="7.6" fill="url(#g65)"/>
<rect x="814" y="503" width="521" height="7.6" fill="url(#g66)"/>
<rect x="814" y="510" width="521" height="7.6" fill="url(#g67)"/>
<rect x="814" y="517" width="521" height="7.6" fill="url(#g68)"/>
<rect x="814" y="524" width="521" height="7.6" fill="url(#g69)"/>
<rect x="814" y="531" width="521" height="7.6" fill="url(#g70)"/>
<rect x="814" y="538" width="521" height="7.6" fill="url(#g71)"/>
<rect x="814" y="545" width="521" height="3.1" fill="url(#g72)"/>
<rect x="815" y="48" width="34" height="374.6" fill="#c6c6c6"/>
<rect x="815" y="422.6" width="34" height="124.9" fill="#c6c6c6"/>
<rect x="815" y="172.9" width="34" height="249.8" fill="#e8650f"/>
<text x="0" y="0" font-size="33.8" fill="#000" text-anchor="middle" font-family='"Liberation Sans", sans-serif' transform="translate(841.5,110.4) rotate(-90)">Light off</text>
<text x="0" y="0" font-size="33.8" fill="#000" text-anchor="middle" font-family='"Liberation Sans", sans-serif' transform="translate(841.5,485.1) rotate(-90)">Light off</text>
<text x="0" y="0" font-size="33.8" fill="#fff" text-anchor="middle" font-family='"Liberation Sans", sans-serif' transform="translate(841.5,297.8) rotate(-90)">Light on</text>
<line x1="1075.2" y1="52.4" x2="1078.5" y2="85.2" stroke="#000" stroke-width="2"/>
<line x1="1079.2" y1="94" x2="1081.8" y2="126.8" stroke="#000" stroke-width="2"/>
<line x1="1084" y1="135.7" x2="1098.4" y2="168.5" stroke="#000" stroke-width="2"/>
<line x1="1100.1" y1="177.3" x2="1098.9" y2="210.1" stroke="#fff" stroke-width="2"/>
<line x1="1097.9" y1="218.9" x2="1092" y2="251.7" stroke="#fff" stroke-width="2"/>
<line x1="1090.4" y1="260.5" x2="1084" y2="293.4" stroke="#fff" stroke-width="2"/>
<line x1="1082.2" y1="302.1" x2="1074.4" y2="335" stroke="#fff" stroke-width="2"/>
<line x1="1072.6" y1="343.8" x2="1066.6" y2="376.6" stroke="#fff" stroke-width="2"/>
<line x1="1064.9" y1="385.4" x2="1058.1" y2="418.2" stroke="#fff" stroke-width="2"/>
<line x1="1054.9" y1="427" x2="1037.9" y2="459.9" stroke="#fff" stroke-width="2"/>
<line x1="1034.9" y1="468.6" x2="1029.8" y2="501.5" stroke="#000" stroke-width="2"/>
<line x1="1029" y1="510.3" x2="1028.1" y2="543.1" stroke="#000" stroke-width="2"/>
<rect x="1071.5" y="44.7" width="6.6" height="6.6" fill="none" stroke="#000" stroke-width="2.1"/>
<rect x="1075.6" y="86.3" width="6.6" height="6.6" fill="none" stroke="#000" stroke-width="2.1"/>
<rect x="1078.8" y="128" width="6.6" height="6.6" fill="none" stroke="#000" stroke-width="2.1"/>
<rect x="1097" y="169.6" width="6.6" height="6.6" fill="none" stroke="#fff" stroke-width="2.1"/>
<rect x="1095.4" y="211.2" width="6.6" height="6.6" fill="none" stroke="#fff" stroke-width="2.1"/>
<rect x="1087.9" y="252.8" width="6.6" height="6.6" fill="none" stroke="#fff" stroke-width="2.1"/>
<rect x="1079.9" y="294.4" width="6.6" height="6.6" fill="none" stroke="#fff" stroke-width="2.1"/>
<rect x="1070.1" y="336.1" width="6.6" height="6.6" fill="none" stroke="#fff" stroke-width="2.1"/>
<rect x="1062.5" y="377.7" width="6.6" height="6.6" fill="none" stroke="#fff" stroke-width="2.1"/>
<rect x="1053.9" y="419.3" width="6.6" height="6.6" fill="none" stroke="#fff" stroke-width="2.1"/>
<rect x="1032.3" y="460.9" width="6.6" height="6.6" fill="none" stroke="#000" stroke-width="2.1"/>
<rect x="1025.8" y="502.6" width="6.6" height="6.6" fill="none" stroke="#000" stroke-width="2.1"/>
<rect x="1024.7" y="544.2" width="6.6" height="6.6" fill="none" stroke="#000" stroke-width="2.1"/>
<text x="866" y="164" font-size="33" fill="#000" font-family='"Liberation Sans", sans-serif'>stage</text>
<text x="957" y="164.5" font-size="33" fill="#000" font-family='"Liberation Serif", serif'>III</text>
<polyline points="1004.5,133 995,133 995,171 1004.5,171" fill="none" stroke="#000" stroke-width="2"/>
<text x="889" y="453" font-size="33" fill="#fff" font-family='"Liberation Sans", sans-serif'>stage</text>
<text x="978.5" y="453" font-size="33" fill="#fff" font-family='"Liberation Serif", serif'>I</text>
<polyline points="1005,423 995,423 995,461 1005,461" fill="none" stroke="#fff" stroke-width="2"/>
<text x="1137" y="309.5" font-size="33" fill="#fff" font-family='"Liberation Sans", sans-serif'>stage</text>
<text x="1227" y="309.5" font-size="33" fill="#fff" font-family='"Liberation Serif", serif'>II</text>
<polyline points="1122.5,174 1132.7,174 1132.7,421.5 1122.5,421.5" fill="none" stroke="#fff" stroke-width="2" stroke-dasharray="10,3,2,3"/>
<rect x="814" y="48" width="521" height="499.5" fill="none" stroke="#000" stroke-width="2"/>
<line x1="809" y1="547.5" x2="814" y2="547.5" stroke="#000" stroke-width="2"/>
<line x1="805" y1="505.9" x2="814" y2="505.9" stroke="#000" stroke-width="2.2"/>
<line x1="809" y1="464.2" x2="814" y2="464.2" stroke="#000" stroke-width="2"/>
<line x1="805" y1="422.6" x2="814" y2="422.6" stroke="#000" stroke-width="2.2"/>
<line x1="809" y1="381" x2="814" y2="381" stroke="#000" stroke-width="2"/>
<line x1="805" y1="339.4" x2="814" y2="339.4" stroke="#000" stroke-width="2.2"/>
<line x1="809" y1="297.8" x2="814" y2="297.8" stroke="#000" stroke-width="2"/>
<line x1="805" y1="256.1" x2="814" y2="256.1" stroke="#000" stroke-width="2.2"/>
<line x1="809" y1="214.5" x2="814" y2="214.5" stroke="#000" stroke-width="2"/>
<line x1="805" y1="172.9" x2="814" y2="172.9" stroke="#000" stroke-width="2.2"/>
<line x1="809" y1="131.2" x2="814" y2="131.2" stroke="#000" stroke-width="2"/>
<line x1="805" y1="89.6" x2="814" y2="89.6" stroke="#000" stroke-width="2.2"/>
<line x1="809" y1="48" x2="814" y2="48" stroke="#000" stroke-width="2"/>
<text x="801" y="520.4" font-size="41.8" fill="#000" text-anchor="end" font-family='"Liberation Sans", sans-serif'>0</text>
<text x="801" y="437.1" font-size="41.8" fill="#e8650f" text-anchor="end" font-family='"Liberation Sans", sans-serif'>0</text>
<text x="801" y="353.9" font-size="41.8" fill="#e8650f" text-anchor="end" font-family='"Liberation Sans", sans-serif'>10</text>
<text x="801" y="270.6" font-size="41.8" fill="#e8650f" text-anchor="end" font-family='"Liberation Sans", sans-serif'>20</text>
<text x="801" y="187.4" font-size="41.8" fill="#e8650f" text-anchor="end" font-family='"Liberation Sans", sans-serif'>30</text>
<text x="801" y="104.1" font-size="41.8" fill="#000" text-anchor="end" font-family='"Liberation Sans", sans-serif'>30</text>
<text x="0" y="0" font-size="43.2" fill="#000" text-anchor="middle" font-family='"Liberation Sans", sans-serif' transform="translate(745.5,294.2) rotate(-90)">Illumination time (min)</text>
<line x1="835.8" y1="547.5" x2="835.8" y2="556.5" stroke="#000" stroke-width="2.2"/>
<text x="835.8" y="595.5" font-size="41.5" fill="#000" text-anchor="middle" font-family='"Liberation Sans", sans-serif'>933</text>
<line x1="1043.2" y1="547.5" x2="1043.2" y2="556.5" stroke="#000" stroke-width="2.2"/>
<text x="1043.2" y="595.5" font-size="41.5" fill="#000" text-anchor="middle" font-family='"Liberation Sans", sans-serif'>932</text>
<line x1="1250.6" y1="547.5" x2="1250.6" y2="556.5" stroke="#000" stroke-width="2.2"/>
<text x="1250.6" y="595.5" font-size="41.5" fill="#000" text-anchor="middle" font-family='"Liberation Sans", sans-serif'>931</text>
<line x1="939.5" y1="547.5" x2="939.5" y2="552.5" stroke="#000" stroke-width="2"/>
<line x1="1146.9" y1="547.5" x2="1146.9" y2="552.5" stroke="#000" stroke-width="2"/>
<text x="1075.2" y="636" font-size="42.8" fill="#000" text-anchor="middle" font-family='"Liberation Sans", sans-serif'>Binding energy (eV)</text>
<rect x="1360" y="65" width="28" height="471" fill="url(#g73)" stroke="#2a2420" stroke-width="1"/>
<line x1="1388" y1="65" x2="1388" y2="536" stroke="#000" stroke-width="2.2"/>
<line x1="1388" y1="65" x2="1397" y2="65" stroke="#000" stroke-width="2.2"/>
<text x="1413" y="79" font-size="39.3" fill="#000" font-family='"Liberation Sans", sans-serif'>47k</text>
<line x1="1388" y1="182.8" x2="1397" y2="182.8" stroke="#000" stroke-width="2.2"/>
<text x="1413" y="196.8" font-size="39.3" fill="#000" font-family='"Liberation Sans", sans-serif'>40k</text>
<line x1="1388" y1="300.5" x2="1397" y2="300.5" stroke="#000" stroke-width="2.2"/>
<text x="1413" y="314.5" font-size="39.3" fill="#000" font-family='"Liberation Sans", sans-serif'>33k</text>
<line x1="1388" y1="418.2" x2="1397" y2="418.2" stroke="#000" stroke-width="2.2"/>
<text x="1413" y="432.2" font-size="39.3" fill="#000" font-family='"Liberation Sans", sans-serif'>30k</text>
<line x1="1388" y1="536" x2="1397" y2="536" stroke="#000" stroke-width="2.2"/>
<text x="1413" y="550" font-size="39.3" fill="#000" font-family='"Liberation Sans", sans-serif'>28k</text>
<text x="1359" y="39.5" font-size="39.3" fill="#000" font-family='"Liberation Sans", sans-serif'>Counts</text>
</g>
<text x="1019" y="32.7" font-size="32.5" font-family='"Liberation Sans", sans-serif'>Cu 2<tspan font-style="italic">p</tspan><tspan font-size="21.5" x="1107.5" y="40.7">3/2</tspan></text>
<rect x="814" y="712.5" width="521" height="7.6" fill="url(#g74)"/>
<rect x="814" y="719.5" width="521" height="7.6" fill="url(#g75)"/>
<rect x="814" y="726.5" width="521" height="7.6" fill="url(#g76)"/>
<rect x="814" y="733.5" width="521" height="7.6" fill="url(#g77)"/>
<rect x="814" y="740.5" width="521" height="7.6" fill="url(#g78)"/>
<rect x="814" y="747.5" width="521" height="7.6" fill="url(#g79)"/>
<rect x="814" y="754.5" width="521" height="7.6" fill="url(#g80)"/>
<rect x="814" y="761.5" width="521" height="7.6" fill="url(#g81)"/>
<rect x="814" y="768.5" width="521" height="7.6" fill="url(#g82)"/>
<rect x="814" y="775.5" width="521" height="7.6" fill="url(#g83)"/>
<rect x="814" y="782.5" width="521" height="7.6" fill="url(#g84)"/>
<rect x="814" y="789.5" width="521" height="7.6" fill="url(#g85)"/>
<rect x="814" y="796.5" width="521" height="7.6" fill="url(#g86)"/>
<rect x="814" y="803.5" width="521" height="7.6" fill="url(#g87)"/>
<rect x="814" y="810.5" width="521" height="7.6" fill="url(#g88)"/>
<rect x="814" y="817.5" width="521" height="7.6" fill="url(#g89)"/>
<rect x="814" y="824.5" width="521" height="7.6" fill="url(#g90)"/>
<rect x="814" y="831.5" width="521" height="7.6" fill="url(#g91)"/>
<rect x="814" y="838.5" width="521" height="7.6" fill="url(#g92)"/>
<rect x="814" y="845.5" width="521" height="7.6" fill="url(#g93)"/>
<rect x="814" y="852.5" width="521" height="7.6" fill="url(#g94)"/>
<rect x="814" y="859.5" width="521" height="7.6" fill="url(#g95)"/>
<rect x="814" y="866.5" width="521" height="7.6" fill="url(#g96)"/>
<rect x="814" y="873.5" width="521" height="7.6" fill="url(#g97)"/>
<rect x="814" y="880.5" width="521" height="7.6" fill="url(#g98)"/>
<rect x="814" y="887.5" width="521" height="7.6" fill="url(#g99)"/>
<rect x="814" y="894.5" width="521" height="7.6" fill="url(#g100)"/>
<rect x="814" y="901.5" width="521" height="7.6" fill="url(#g101)"/>
<rect x="814" y="908.5" width="521" height="7.6" fill="url(#g102)"/>
<rect x="814" y="915.5" width="521" height="7.6" fill="url(#g103)"/>
<rect x="814" y="922.5" width="521" height="7.6" fill="url(#g104)"/>
<rect x="814" y="929.5" width="521" height="7.6" fill="url(#g105)"/>
<rect x="814" y="936.5" width="521" height="7.6" fill="url(#g106)"/>
<rect x="814" y="943.5" width="521" height="7.6" fill="url(#g107)"/>
<rect x="814" y="950.5" width="521" height="7.6" fill="url(#g108)"/>
<rect x="814" y="957.5" width="521" height="7.6" fill="url(#g109)"/>
<rect x="814" y="964.5" width="521" height="7.6" fill="url(#g110)"/>
<rect x="814" y="971.5" width="521" height="7.6" fill="url(#g111)"/>
<rect x="814" y="978.5" width="521" height="7.6" fill="url(#g112)"/>
<rect x="814" y="985.5" width="521" height="7.6" fill="url(#g113)"/>
<rect x="814" y="992.5" width="521" height="7.6" fill="url(#g114)"/>
<rect x="814" y="999.5" width="521" height="7.6" fill="url(#g115)"/>
<rect x="814" y="1006.5" width="521" height="7.6" fill="url(#g116)"/>
<rect x="814" y="1013.5" width="521" height="7.6" fill="url(#g117)"/>
<rect x="814" y="1020.5" width="521" height="7.6" fill="url(#g118)"/>
<rect x="814" y="1027.5" width="521" height="7.6" fill="url(#g119)"/>
<rect x="814" y="1034.5" width="521" height="7.6" fill="url(#g120)"/>
<rect x="814" y="1041.5" width="521" height="7.6" fill="url(#g121)"/>
<rect x="814" y="1048.5" width="521" height="7.6" fill="url(#g122)"/>
<rect x="814" y="1055.5" width="521" height="7.6" fill="url(#g123)"/>
<rect x="814" y="1062.5" width="521" height="7.6" fill="url(#g124)"/>
<rect x="814" y="1069.5" width="521" height="7.6" fill="url(#g125)"/>
<rect x="814" y="1076.5" width="521" height="7.6" fill="url(#g126)"/>
<rect x="814" y="1083.5" width="521" height="7.6" fill="url(#g127)"/>
<rect x="814" y="1090.5" width="521" height="7.6" fill="url(#g128)"/>
<rect x="814" y="1097.5" width="521" height="7.6" fill="url(#g129)"/>
<rect x="814" y="1104.5" width="521" height="7.6" fill="url(#g130)"/>
<rect x="814" y="1111.5" width="521" height="7.6" fill="url(#g131)"/>
<rect x="814" y="1118.5" width="521" height="7.6" fill="url(#g132)"/>
<rect x="814" y="1125.5" width="521" height="7.6" fill="url(#g133)"/>
<rect x="814" y="1132.5" width="521" height="7.6" fill="url(#g134)"/>
<rect x="814" y="1139.5" width="521" height="7.6" fill="url(#g135)"/>
<rect x="814" y="1146.5" width="521" height="7.6" fill="url(#g136)"/>
<rect x="814" y="1153.5" width="521" height="7.6" fill="url(#g137)"/>
<rect x="814" y="1160.5" width="521" height="7.6" fill="url(#g138)"/>
<rect x="814" y="1167.5" width="521" height="7.6" fill="url(#g139)"/>
<rect x="814" y="1174.5" width="521" height="7.6" fill="url(#g140)"/>
<rect x="814" y="1181.5" width="521" height="7.6" fill="url(#g141)"/>
<rect x="814" y="1188.5" width="521" height="7.6" fill="url(#g142)"/>
<rect x="814" y="1195.5" width="521" height="7.6" fill="url(#g143)"/>
<rect x="814" y="1202.5" width="521" height="7.6" fill="url(#g144)"/>
<rect x="814" y="1209.5" width="521" height="3.1" fill="url(#g145)"/>
<rect x="815" y="712.5" width="34" height="374.6" fill="#c6c6c6"/>
<rect x="815" y="1087.1" width="34" height="124.9" fill="#c6c6c6"/>
<rect x="815" y="837.4" width="34" height="249.8" fill="#e8650f"/>
<text x="0" y="0" font-size="33.8" fill="#000" text-anchor="middle" font-family='"Liberation Sans", sans-serif' transform="translate(841.5,774.9) rotate(-90)">Light off</text>
<text x="0" y="0" font-size="33.8" fill="#000" text-anchor="middle" font-family='"Liberation Sans", sans-serif' transform="translate(841.5,1149.6) rotate(-90)">Light off</text>
<text x="0" y="0" font-size="33.8" fill="#fff" text-anchor="middle" font-family='"Liberation Sans", sans-serif' transform="translate(841.5,962.2) rotate(-90)">Light on</text>
<line x1="1056.3" y1="716.9" x2="1059.8" y2="749.7" stroke="#000" stroke-width="2"/>
<line x1="1060.5" y1="758.5" x2="1061.7" y2="791.4" stroke="#000" stroke-width="2"/>
<line x1="1063.3" y1="800.1" x2="1073.9" y2="833" stroke="#000" stroke-width="2"/>
<line x1="1075.3" y1="841.8" x2="1075.3" y2="874.6" stroke="#fff" stroke-width="2"/>
<line x1="1075.2" y1="883.4" x2="1074.2" y2="916.2" stroke="#fff" stroke-width="2"/>
<line x1="1073.8" y1="925" x2="1071.9" y2="957.9" stroke="#fff" stroke-width="2"/>
<line x1="1071.1" y1="966.6" x2="1066.9" y2="999.5" stroke="#fff" stroke-width="2"/>
<line x1="1065.9" y1="1008.3" x2="1062" y2="1041.1" stroke="#fff" stroke-width="2"/>
<line x1="1060.7" y1="1049.9" x2="1055" y2="1082.7" stroke="#fff" stroke-width="2"/>
<line x1="1052.2" y1="1091.5" x2="1037.6" y2="1124.3" stroke="#fff" stroke-width="2"/>
<line x1="1035.1" y1="1133.2" x2="1031.6" y2="1166" stroke="#000" stroke-width="2"/>
<line x1="1030.6" y1="1174.8" x2="1027.2" y2="1207.6" stroke="#000" stroke-width="2"/>
<rect x="1052.5" y="709.2" width="6.6" height="6.6" fill="none" stroke="#000" stroke-width="2.1"/>
<rect x="1057" y="750.8" width="6.6" height="6.6" fill="none" stroke="#000" stroke-width="2.1"/>
<rect x="1058.6" y="792.5" width="6.6" height="6.6" fill="none" stroke="#000" stroke-width="2.1"/>
<rect x="1072" y="834.1" width="6.6" height="6.6" fill="none" stroke="#fff" stroke-width="2.1"/>
<rect x="1072" y="875.7" width="6.6" height="6.6" fill="none" stroke="#fff" stroke-width="2.1"/>
<rect x="1070.8" y="917.3" width="6.6" height="6.6" fill="none" stroke="#fff" stroke-width="2.1"/>
<rect x="1068.3" y="959" width="6.6" height="6.6" fill="none" stroke="#fff" stroke-width="2.1"/>
<rect x="1063.1" y="1000.6" width="6.6" height="6.6" fill="none" stroke="#fff" stroke-width="2.1"/>
<rect x="1058.2" y="1042.2" width="6.6" height="6.6" fill="none" stroke="#fff" stroke-width="2.1"/>
<rect x="1050.9" y="1083.8" width="6.6" height="6.6" fill="none" stroke="#fff" stroke-width="2.1"/>
<rect x="1032.3" y="1125.5" width="6.6" height="6.6" fill="none" stroke="#000" stroke-width="2.1"/>
<rect x="1027.8" y="1167.1" width="6.6" height="6.6" fill="none" stroke="#000" stroke-width="2.1"/>
<rect x="1023.4" y="1208.7" width="6.6" height="6.6" fill="none" stroke="#000" stroke-width="2.1"/>
<text x="866" y="828.5" font-size="33" fill="#000" font-family='"Liberation Sans", sans-serif'>stage</text>
<text x="957" y="829" font-size="33" fill="#000" font-family='"Liberation Serif", serif'>III</text>
<polyline points="1004.5,797.5 995,797.5 995,835.5 1004.5,835.5" fill="none" stroke="#000" stroke-width="2"/>
<text x="889" y="1117.5" font-size="33" fill="#fff" font-family='"Liberation Sans", sans-serif'>stage</text>
<text x="978.5" y="1117.5" font-size="33" fill="#fff" font-family='"Liberation Serif", serif'>I</text>
<polyline points="1005,1087.5 995,1087.5 995,1125.5 1005,1125.5" fill="none" stroke="#fff" stroke-width="2"/>
<text x="1137" y="974" font-size="33" fill="#fff" font-family='"Liberation Sans", sans-serif'>stage</text>
<text x="1227" y="974" font-size="33" fill="#fff" font-family='"Liberation Serif", serif'>II</text>
<polyline points="1122.5,838.5 1132.7,838.5 1132.7,1086 1122.5,1086" fill="none" stroke="#fff" stroke-width="2" stroke-dasharray="10,3,2,3"/>
<rect x="814" y="712.5" width="521" height="499.5" fill="none" stroke="#000" stroke-width="2"/>
<line x1="809" y1="1212" x2="814" y2="1212" stroke="#000" stroke-width="2"/>
<line x1="805" y1="1170.4" x2="814" y2="1170.4" stroke="#000" stroke-width="2.2"/>
<line x1="809" y1="1128.8" x2="814" y2="1128.8" stroke="#000" stroke-width="2"/>
<line x1="805" y1="1087.1" x2="814" y2="1087.1" stroke="#000" stroke-width="2.2"/>
<line x1="809" y1="1045.5" x2="814" y2="1045.5" stroke="#000" stroke-width="2"/>
<line x1="805" y1="1003.9" x2="814" y2="1003.9" stroke="#000" stroke-width="2.2"/>
<line x1="809" y1="962.2" x2="814" y2="962.2" stroke="#000" stroke-width="2"/>
<line x1="805" y1="920.6" x2="814" y2="920.6" stroke="#000" stroke-width="2.2"/>
<line x1="809" y1="879" x2="814" y2="879" stroke="#000" stroke-width="2"/>
<line x1="805" y1="837.4" x2="814" y2="837.4" stroke="#000" stroke-width="2.2"/>
<line x1="809" y1="795.8" x2="814" y2="795.8" stroke="#000" stroke-width="2"/>
<line x1="805" y1="754.1" x2="814" y2="754.1" stroke="#000" stroke-width="2.2"/>
<line x1="809" y1="712.5" x2="814" y2="712.5" stroke="#000" stroke-width="2"/>
<text x="801" y="1184.9" font-size="41.8" fill="#000" text-anchor="end" font-family='"Liberation Sans", sans-serif'>0</text>
<text x="801" y="1101.6" font-size="41.8" fill="#e8650f" text-anchor="end" font-family='"Liberation Sans", sans-serif'>0</text>
<text x="801" y="1018.4" font-size="41.8" fill="#e8650f" text-anchor="end" font-family='"Liberation Sans", sans-serif'>10</text>
<text x="801" y="935.1" font-size="41.8" fill="#e8650f" text-anchor="end" font-family='"Liberation Sans", sans-serif'>20</text>
<text x="801" y="851.9" font-size="41.8" fill="#e8650f" text-anchor="end" font-family='"Liberation Sans", sans-serif'>30</text>
<text x="801" y="768.6" font-size="41.8" fill="#000" text-anchor="end" font-family='"Liberation Sans", sans-serif'>30</text>
<text x="0" y="0" font-size="43.2" fill="#000" text-anchor="middle" font-family='"Liberation Sans", sans-serif' transform="translate(745.5,958.8) rotate(-90)">Illumination time (min)</text>
<line x1="919" y1="1212" x2="919" y2="1221" stroke="#000" stroke-width="2.2"/>
<text x="919" y="1260" font-size="41.5" fill="#000" text-anchor="middle" font-family='"Liberation Sans", sans-serif'>336</text>
<line x1="1126.3" y1="1212" x2="1126.3" y2="1221" stroke="#000" stroke-width="2.2"/>
<text x="1126.3" y="1260" font-size="41.5" fill="#000" text-anchor="middle" font-family='"Liberation Sans", sans-serif'>335</text>
<line x1="1333.6" y1="1212" x2="1333.6" y2="1221" stroke="#000" stroke-width="2.2"/>
<text x="1333.6" y="1260" font-size="41.5" fill="#000" text-anchor="middle" font-family='"Liberation Sans", sans-serif'>334</text>
<line x1="1022.6" y1="1212" x2="1022.6" y2="1217" stroke="#000" stroke-width="2"/>
<line x1="1230" y1="1212" x2="1230" y2="1217" stroke="#000" stroke-width="2"/>
<line x1="815.3" y1="1212" x2="815.3" y2="1217" stroke="#000" stroke-width="2"/>
<text x="1075.2" y="1300.5" font-size="42.8" fill="#000" text-anchor="middle" font-family='"Liberation Sans", sans-serif'>Binding energy (eV)</text>
<rect x="1363" y="730.6" width="26" height="466.6" fill="url(#g146)" stroke="#2a2420" stroke-width="1"/>
<line x1="1389" y1="730.6" x2="1389" y2="1197.2" stroke="#000" stroke-width="2.2"/>
<line x1="1389" y1="730.6" x2="1398" y2="730.6" stroke="#000" stroke-width="2.2"/>
<text x="1414" y="744.6" font-size="39.3" fill="#000" font-family='"Liberation Sans", sans-serif'>107k</text>
<line x1="1389" y1="847.2" x2="1398" y2="847.2" stroke="#000" stroke-width="2.2"/>
<text x="1414" y="861.2" font-size="39.3" fill="#000" font-family='"Liberation Sans", sans-serif'>88k</text>
<line x1="1389" y1="963.9" x2="1398" y2="963.9" stroke="#000" stroke-width="2.2"/>
<text x="1414" y="977.9" font-size="39.3" fill="#000" font-family='"Liberation Sans", sans-serif'>69k</text>
<line x1="1389" y1="1080.6" x2="1398" y2="1080.6" stroke="#000" stroke-width="2.2"/>
<text x="1414" y="1094.6" font-size="39.3" fill="#000" font-family='"Liberation Sans", sans-serif'>51k</text>
<line x1="1389" y1="1197.2" x2="1398" y2="1197.2" stroke="#000" stroke-width="2.2"/>
<text x="1414" y="1211.2" font-size="39.3" fill="#000" font-family='"Liberation Sans", sans-serif'>32k</text>
<text x="1362.5" y="702.6" font-size="39.3" fill="#000" font-family='"Liberation Sans", sans-serif'>Counts</text>
<text x="1029" y="694.5" font-size="32" font-family='"Liberation Sans", sans-serif'>Pd 3d<tspan font-size="21.5" x="1114.5" y="703">5/2</tspan></text>
<text x="174.4" y="255.7" font-size="30.5" fill="#000" font-family='"Liberation Sans", sans-serif'>Cu</text>
<text x="215.5" y="245.9" font-size="30" fill="#000" font-family='"Liberation Serif", serif'>II</text>
<text x="118.4" y="288.3" font-size="31.5" fill="#000" font-family='"Liberation Sans", sans-serif'>Satellite Peak</text>
<line x1="273.8" y1="295.6" x2="279.8" y2="321.8" stroke="#000" stroke-width="2.2"/>
<polygon points="282.2,332.5 274,321 284.7,318.6" fill="#000"/>
<text x="517" y="166.5" font-size="31" font-family='"Liberation Sans", sans-serif'>Cu 2<tspan font-style="italic">p</tspan><tspan font-size="21.5" x="601.5" y="175">3/2</tspan></text>
<line x1="524" y1="173" x2="506.5" y2="191.9" stroke="#000" stroke-width="2.2"/>
<polygon points="499,200 503.8,186.7 511.9,194.2" fill="#000"/>
<text x="184" y="862.5" font-size="30.5" font-family='"Liberation Sans", sans-serif'>Pd 3d<tspan font-size="21" x="266.2" y="871.3">3/2</tspan></text>
<line x1="270.4" y1="874.2" x2="285" y2="887.3" stroke="#000" stroke-width="2.2"/>
<polygon points="293.2,894.7 279.9,890.1 287.2,881.9" fill="#000"/>
<text x="478" y="810" font-size="30.5" font-family='"Liberation Sans", sans-serif'>Pd 3d<tspan font-size="21" x="560" y="819">5/2</tspan></text>
<line x1="493.9" y1="814.8" x2="465.1" y2="834.2" stroke="#000" stroke-width="2.2"/>
<polygon points="456,840.4 463.7,828.6 469.9,837.7" fill="#000"/>
<text x="0" y="34" font-size="42" fill="#000" font-weight="bold" font-family='"Liberation Sans", sans-serif'>a</text>
<text x="688" y="34" font-size="42" fill="#000" font-weight="bold" font-family='"Liberation Sans", sans-serif'>b</text>
<text x="0" y="697" font-size="42" fill="#000" font-weight="bold" font-family='"Liberation Sans", sans-serif'>c</text>
<text x="688" y="697" font-size="42" fill="#000" font-weight="bold" font-family='"Liberation Sans", sans-serif'>d</text>
</svg></body></html>
